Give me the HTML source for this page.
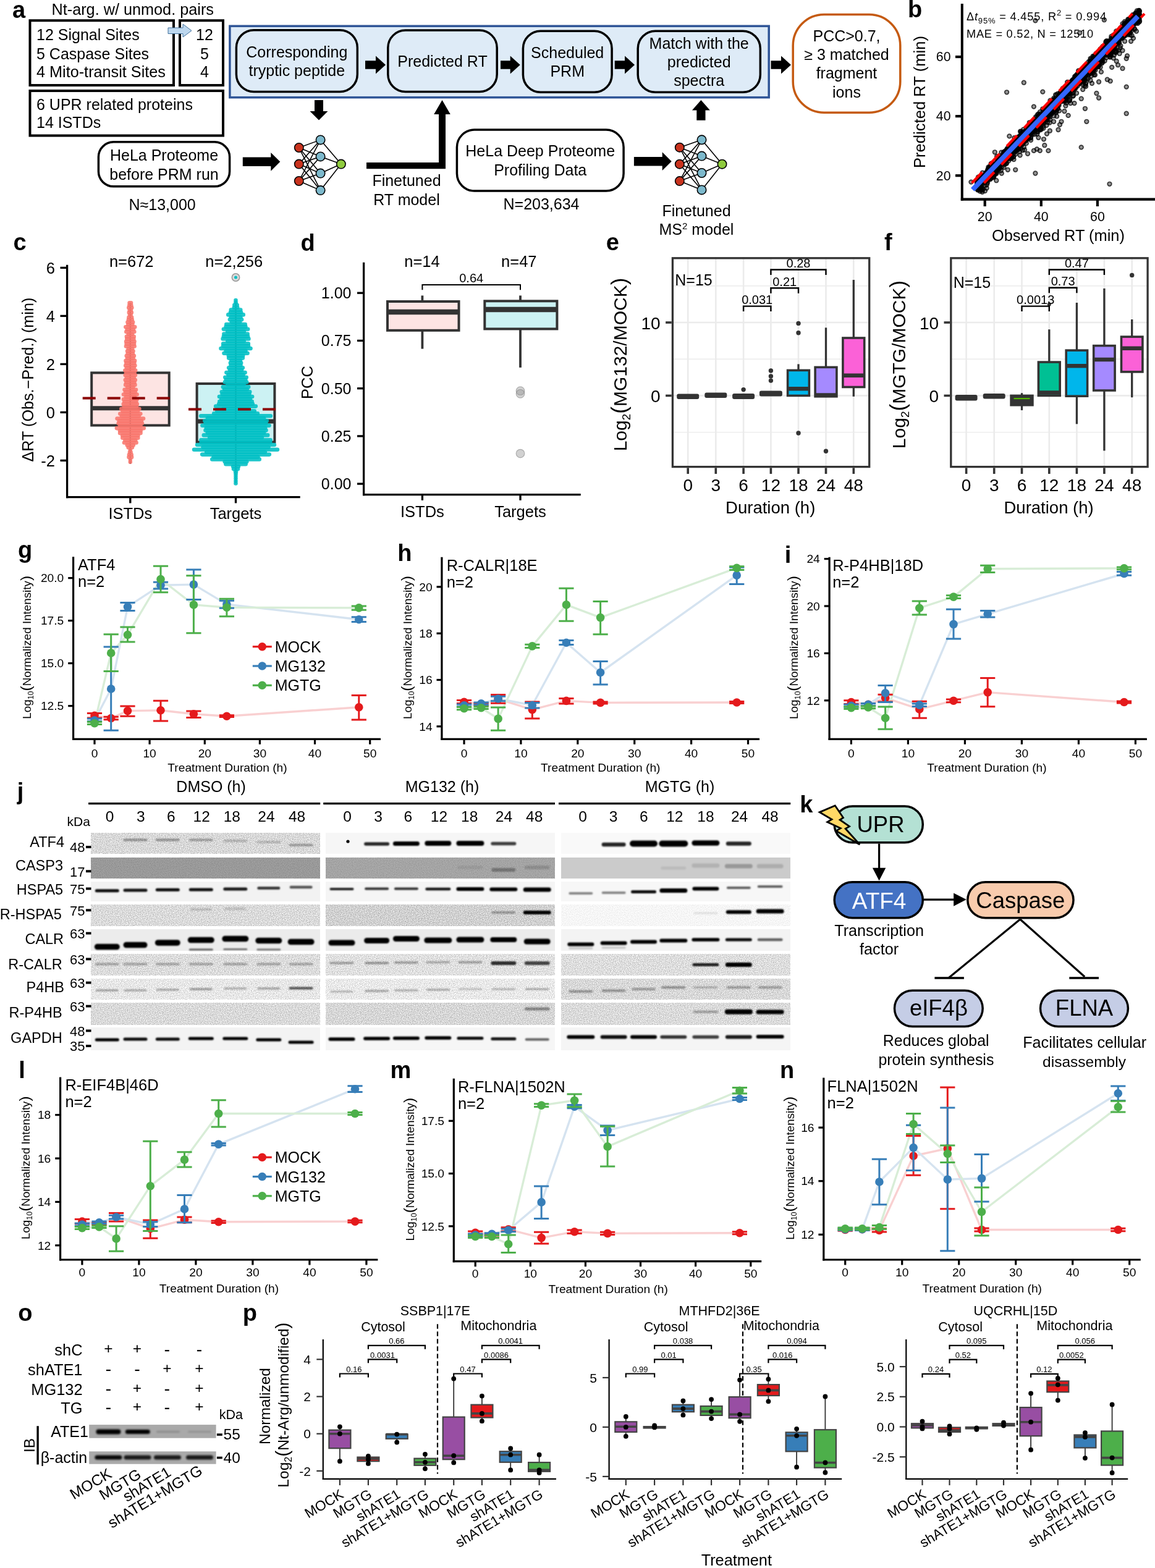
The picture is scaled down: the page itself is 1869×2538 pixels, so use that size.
<!DOCTYPE html>
<html><head><meta charset="utf-8"><title>Figure</title>
<style>html,body{margin:0;padding:0;background:#fff;}svg{display:block;}
text{font-family:"Liberation Sans", Arial, sans-serif;}</style></head>
<body><svg width="1869" height="2538" viewBox="0 0 1869 2538">
<rect width="1869" height="2538" fill="#fff"/>
<g id="pa"><text x="20.0" y="28.5" font-size="38.00" font-weight="bold">a</text>
<text x="83.5" y="24.0" font-size="25.26">Nt-arg. w/ unmod. pairs</text>
<rect x="48.5" y="33.2" width="232.5" height="104.8" fill="none" stroke="#000" stroke-width="4"/>
<rect x="291.0" y="33.2" width="70.0" height="104.8" fill="none" stroke="#000" stroke-width="4"/>
<rect x="48.5" y="147.0" width="312.5" height="72.5" fill="none" stroke="#000" stroke-width="4"/>
<text x="59.0" y="65.0" font-size="25.00">12 Signal Sites</text>
<text x="59.0" y="95.6" font-size="25.00">5 Caspase Sites</text>
<text x="59.0" y="125.4" font-size="25.24">4 Mito-transit Sites</text>
<text x="331.0" y="65.0" font-size="25.00" text-anchor="middle">12</text>
<text x="331.0" y="95.6" font-size="25.00" text-anchor="middle">5</text>
<text x="331.0" y="125.4" font-size="25.00" text-anchor="middle">4</text>
<text x="59.0" y="178.0" font-size="25.00">6 UPR related proteins</text>
<text x="59.0" y="207.0" font-size="25.00">14 ISTDs</text>
<polygon points="272.0,45.0 296.0,45.0 296.0,39.0 310.0,49.6 296.0,60.0 296.0,54.5 272.0,54.5" fill="#BDD7EE" stroke="#41719C" stroke-width="1"/>
<rect x="371.9" y="42.2" width="872.3" height="115.5" fill="#DEEBF7" stroke="#2F5597" stroke-width="3.5"/>
<rect x="382.4" y="48.8" width="195.9" height="99.8" fill="#DEEBF7" stroke="#000" stroke-width="3.5" rx="28.25"/>
<rect x="627.8" y="49.1" width="176.4" height="99.4" fill="#DEEBF7" stroke="#000" stroke-width="3.5" rx="28.25"/>
<rect x="846.4" y="50.2" width="143.7" height="99.0" fill="#DEEBF7" stroke="#000" stroke-width="3.5" rx="28.25"/>
<rect x="1032.2" y="50.2" width="198.1" height="99.0" fill="#DEEBF7" stroke="#000" stroke-width="3.5" rx="28.25"/>
<text x="480.3" y="93.4" font-size="25.00" text-anchor="middle">Corresponding</text>
<text x="480.3" y="123.2" font-size="25.00" text-anchor="middle">tryptic peptide</text>
<text x="716.0" y="108.0" font-size="25.00" text-anchor="middle">Predicted RT</text>
<text x="918.2" y="94.2" font-size="25.00" text-anchor="middle">Scheduled</text>
<text x="918.2" y="124.4" font-size="25.00" text-anchor="middle">PRM</text>
<text x="1131.2" y="79.0" font-size="25.00" text-anchor="middle">Match with the</text>
<text x="1131.2" y="109.0" font-size="25.00" text-anchor="middle">predicted</text>
<text x="1131.2" y="139.0" font-size="25.00" text-anchor="middle">spectra</text>
<polygon points="591.0,98.3 608.0,98.3 608.0,90.5 624.0,105.0 608.0,119.5 608.0,111.7 591.0,111.7" fill="#000"/>
<polygon points="810.0,98.3 825.7,98.3 825.7,90.5 841.7,105.0 825.7,119.5 825.7,111.7 810.0,111.7" fill="#000"/>
<polygon points="994.7,98.3 1011.0,98.3 1011.0,90.5 1027.0,105.0 1011.0,119.5 1011.0,111.7 994.7,111.7" fill="#000"/>
<polygon points="1247.5,98.3 1264.0,98.3 1264.0,90.5 1280.0,105.0 1264.0,119.5 1264.0,111.7 1247.5,111.7" fill="#000"/>
<rect x="1283.2" y="23.6" width="173.6" height="158.6" fill="#fff" stroke="#C55A11" stroke-width="3.5" rx="50.25"/>
<text x="1370.0" y="66.7" font-size="25.00" text-anchor="middle">PCC&gt;0.7,</text>
<text x="1370.0" y="97.0" font-size="25.00" text-anchor="middle">≥ 3 matched</text>
<text x="1370.0" y="127.0" font-size="25.00" text-anchor="middle">fragment</text>
<text x="1370.0" y="158.0" font-size="25.00" text-anchor="middle">ions</text>
<polygon points="509.0,162.0 509.0,180.0 501.5,180.0 516.0,194.6 530.5,180.0 523.0,180.0 523.0,162.0" fill="#000"/>
<polygon points="710.0,186.0 710.0,185.0 702.2,185.0 715.5,162.0 728.8,185.0 721.0,185.0 721.0,186.0" fill="#000"/>
<polygon points="710.0,185.0 721.0,185.0 721.0,273.2 593.0,273.2 593.0,263.0 710.0,263.0" fill="#000"/>
<polygon points="1127.3,194.8 1127.3,178.4 1119.9,178.4 1134.4,162.0 1148.9,178.4 1141.5,178.4 1141.5,194.8" fill="#000"/>
<rect x="159.4" y="229.8" width="212.2" height="72.0" fill="#fff" stroke="#000" stroke-width="3.5" rx="24.25"/>
<text x="265.5" y="260.0" font-size="25.00" text-anchor="middle">HeLa Proteome</text>
<text x="265.5" y="290.7" font-size="25.00" text-anchor="middle">before PRM run</text>
<text x="262.6" y="339.5" font-size="25.00" text-anchor="middle">N≈13,000</text>
<polygon points="392.8,254.6 438.3,254.6 438.3,246.9 453.3,261.8 438.3,276.7 438.3,269.1 392.8,269.1" fill="#000"/>
<line x1="483.8" y1="239.0" x2="518.6" y2="226.4" stroke="#000" stroke-width="1.6"/>
<line x1="483.8" y1="239.0" x2="518.6" y2="253.4" stroke="#000" stroke-width="1.6"/>
<line x1="483.8" y1="239.0" x2="518.6" y2="280.6" stroke="#000" stroke-width="1.6"/>
<line x1="483.8" y1="239.0" x2="518.6" y2="308.1" stroke="#000" stroke-width="1.6"/>
<line x1="483.8" y1="265.6" x2="518.6" y2="226.4" stroke="#000" stroke-width="1.6"/>
<line x1="483.8" y1="265.6" x2="518.6" y2="253.4" stroke="#000" stroke-width="1.6"/>
<line x1="483.8" y1="265.6" x2="518.6" y2="280.6" stroke="#000" stroke-width="1.6"/>
<line x1="483.8" y1="265.6" x2="518.6" y2="308.1" stroke="#000" stroke-width="1.6"/>
<line x1="483.8" y1="293.0" x2="518.6" y2="226.4" stroke="#000" stroke-width="1.6"/>
<line x1="483.8" y1="293.0" x2="518.6" y2="253.4" stroke="#000" stroke-width="1.6"/>
<line x1="483.8" y1="293.0" x2="518.6" y2="280.6" stroke="#000" stroke-width="1.6"/>
<line x1="483.8" y1="293.0" x2="518.6" y2="308.1" stroke="#000" stroke-width="1.6"/>
<line x1="518.6" y1="226.4" x2="551.9" y2="265.6" stroke="#000" stroke-width="1.6"/>
<line x1="518.6" y1="253.4" x2="551.9" y2="265.6" stroke="#000" stroke-width="1.6"/>
<line x1="518.6" y1="280.6" x2="551.9" y2="265.6" stroke="#000" stroke-width="1.6"/>
<line x1="518.6" y1="308.1" x2="551.9" y2="265.6" stroke="#000" stroke-width="1.6"/>
<circle cx="483.8" cy="239.0" r="7.2" fill="#C9331E" stroke="#000" stroke-width="1.6"/>
<circle cx="483.8" cy="265.6" r="7.2" fill="#C9331E" stroke="#000" stroke-width="1.6"/>
<circle cx="483.8" cy="293.0" r="7.2" fill="#C9331E" stroke="#000" stroke-width="1.6"/>
<circle cx="518.6" cy="226.4" r="7.2" fill="#7DB9CC" stroke="#000" stroke-width="1.6"/>
<circle cx="518.6" cy="253.4" r="7.2" fill="#7DB9CC" stroke="#000" stroke-width="1.6"/>
<circle cx="518.6" cy="280.6" r="7.2" fill="#7DB9CC" stroke="#000" stroke-width="1.6"/>
<circle cx="518.6" cy="308.1" r="7.2" fill="#7DB9CC" stroke="#000" stroke-width="1.6"/>
<circle cx="551.9" cy="265.6" r="7.2" fill="#8FCB3E" stroke="#000" stroke-width="1.6"/>
<text x="658.0" y="301.4" font-size="25.00" text-anchor="middle">Finetuned</text>
<text x="658.0" y="332.0" font-size="25.00" text-anchor="middle">RT model</text>
<rect x="739.4" y="210.1" width="269.7" height="98.9" fill="#fff" stroke="#000" stroke-width="3.5" rx="28.25"/>
<text x="874.2" y="253.3" font-size="25.00" text-anchor="middle">HeLa Deep Proteome</text>
<text x="874.2" y="283.7" font-size="25.00" text-anchor="middle">Profiling Data</text>
<text x="876.0" y="338.9" font-size="25.00" text-anchor="middle">N=203,634</text>
<polygon points="1025.9,253.9 1071.7,253.9 1071.7,246.3 1086.7,261.2 1071.7,276.1 1071.7,268.4 1025.9,268.4" fill="#000"/>
<line x1="1099.8" y1="238.7" x2="1135.5" y2="226.3" stroke="#000" stroke-width="1.6"/>
<line x1="1099.8" y1="238.7" x2="1135.5" y2="252.6" stroke="#000" stroke-width="1.6"/>
<line x1="1099.8" y1="238.7" x2="1135.5" y2="280.0" stroke="#000" stroke-width="1.6"/>
<line x1="1099.8" y1="238.7" x2="1135.5" y2="307.4" stroke="#000" stroke-width="1.6"/>
<line x1="1099.8" y1="265.7" x2="1135.5" y2="226.3" stroke="#000" stroke-width="1.6"/>
<line x1="1099.8" y1="265.7" x2="1135.5" y2="252.6" stroke="#000" stroke-width="1.6"/>
<line x1="1099.8" y1="265.7" x2="1135.5" y2="280.0" stroke="#000" stroke-width="1.6"/>
<line x1="1099.8" y1="265.7" x2="1135.5" y2="307.4" stroke="#000" stroke-width="1.6"/>
<line x1="1099.8" y1="293.1" x2="1135.5" y2="226.3" stroke="#000" stroke-width="1.6"/>
<line x1="1099.8" y1="293.1" x2="1135.5" y2="252.6" stroke="#000" stroke-width="1.6"/>
<line x1="1099.8" y1="293.1" x2="1135.5" y2="280.0" stroke="#000" stroke-width="1.6"/>
<line x1="1099.8" y1="293.1" x2="1135.5" y2="307.4" stroke="#000" stroke-width="1.6"/>
<line x1="1135.5" y1="226.3" x2="1168.5" y2="265.7" stroke="#000" stroke-width="1.6"/>
<line x1="1135.5" y1="252.6" x2="1168.5" y2="265.7" stroke="#000" stroke-width="1.6"/>
<line x1="1135.5" y1="280.0" x2="1168.5" y2="265.7" stroke="#000" stroke-width="1.6"/>
<line x1="1135.5" y1="307.4" x2="1168.5" y2="265.7" stroke="#000" stroke-width="1.6"/>
<circle cx="1099.8" cy="238.7" r="7.2" fill="#C9331E" stroke="#000" stroke-width="1.6"/>
<circle cx="1099.8" cy="265.7" r="7.2" fill="#C9331E" stroke="#000" stroke-width="1.6"/>
<circle cx="1099.8" cy="293.1" r="7.2" fill="#C9331E" stroke="#000" stroke-width="1.6"/>
<circle cx="1135.5" cy="226.3" r="7.2" fill="#7DB9CC" stroke="#000" stroke-width="1.6"/>
<circle cx="1135.5" cy="252.6" r="7.2" fill="#7DB9CC" stroke="#000" stroke-width="1.6"/>
<circle cx="1135.5" cy="280.0" r="7.2" fill="#7DB9CC" stroke="#000" stroke-width="1.6"/>
<circle cx="1135.5" cy="307.4" r="7.2" fill="#7DB9CC" stroke="#000" stroke-width="1.6"/>
<circle cx="1168.5" cy="265.7" r="7.2" fill="#8FCB3E" stroke="#000" stroke-width="1.6"/>
<text x="1127.0" y="350.0" font-size="25.00" text-anchor="middle">Finetuned</text>
<text x="1127" y="380" font-size="25" text-anchor="middle">MS<tspan font-size="15" dy="-9">2</tspan><tspan dy="9"> model</tspan></text></g>
<g id="pb"><text x="1469.0" y="27.5" font-size="38.00" font-weight="bold">b</text>
<g fill="#000" fill-opacity="0.42" stroke="#000" stroke-opacity="0.72" stroke-width="1.7"><circle cx="1643.6" cy="238.2" r="3.3"/><circle cx="1745.7" cy="121.7" r="3.3"/><circle cx="1584.4" cy="303.4" r="3.3"/><circle cx="1843.1" cy="20.2" r="3.3"/><circle cx="1801.2" cy="69.4" r="3.3"/><circle cx="1748.1" cy="133.4" r="3.3"/><circle cx="1718.7" cy="155.5" r="3.3"/><circle cx="1780.6" cy="90.9" r="3.3"/><circle cx="1660.3" cy="213.0" r="3.3"/><circle cx="1770.2" cy="112.8" r="3.3"/><circle cx="1769.0" cy="118.0" r="3.3"/><circle cx="1698.0" cy="175.9" r="3.3"/><circle cx="1812.3" cy="53.9" r="3.3"/><circle cx="1835.1" cy="29.5" r="3.3"/><circle cx="1745.9" cy="130.5" r="3.3"/><circle cx="1673.3" cy="202.8" r="3.3"/><circle cx="1734.8" cy="150.9" r="3.3"/><circle cx="1806.4" cy="83.0" r="3.3"/><circle cx="1757.7" cy="106.1" r="3.3"/><circle cx="1819.1" cy="57.9" r="3.3"/><circle cx="1768.9" cy="98.9" r="3.3"/><circle cx="1656.0" cy="226.1" r="3.3"/><circle cx="1805.8" cy="59.4" r="3.3"/><circle cx="1689.0" cy="181.7" r="3.3"/><circle cx="1658.3" cy="223.8" r="3.3"/><circle cx="1742.7" cy="130.4" r="3.3"/><circle cx="1770.1" cy="91.1" r="3.3"/><circle cx="1714.0" cy="179.3" r="3.3"/><circle cx="1662.5" cy="215.0" r="3.3"/><circle cx="1632.9" cy="245.9" r="3.3"/><circle cx="1741.7" cy="121.7" r="3.3"/><circle cx="1663.6" cy="216.1" r="3.3"/><circle cx="1817.0" cy="56.4" r="3.3"/><circle cx="1750.5" cy="119.9" r="3.3"/><circle cx="1728.2" cy="139.7" r="3.3"/><circle cx="1694.5" cy="182.3" r="3.3"/><circle cx="1643.5" cy="228.6" r="3.3"/><circle cx="1725.3" cy="148.5" r="3.3"/><circle cx="1690.3" cy="178.5" r="3.3"/><circle cx="1747.4" cy="123.7" r="3.3"/><circle cx="1746.1" cy="127.7" r="3.3"/><circle cx="1767.1" cy="107.6" r="3.3"/><circle cx="1586.8" cy="299.2" r="3.3"/><circle cx="1647.1" cy="240.8" r="3.3"/><circle cx="1737.0" cy="138.0" r="3.3"/><circle cx="1678.1" cy="194.5" r="3.3"/><circle cx="1660.0" cy="216.5" r="3.3"/><circle cx="1730.8" cy="143.0" r="3.3"/><circle cx="1662.6" cy="212.8" r="3.3"/><circle cx="1630.3" cy="251.2" r="3.3"/><circle cx="1764.7" cy="108.0" r="3.3"/><circle cx="1800.4" cy="64.9" r="3.3"/><circle cx="1806.2" cy="65.9" r="3.3"/><circle cx="1813.9" cy="48.6" r="3.3"/><circle cx="1640.2" cy="240.5" r="3.3"/><circle cx="1793.4" cy="83.5" r="3.3"/><circle cx="1629.3" cy="246.8" r="3.3"/><circle cx="1793.2" cy="82.3" r="3.3"/><circle cx="1615.1" cy="263.1" r="3.3"/><circle cx="1672.1" cy="207.4" r="3.3"/><circle cx="1691.5" cy="181.1" r="3.3"/><circle cx="1582.2" cy="307.4" r="3.3"/><circle cx="1812.6" cy="77.5" r="3.3"/><circle cx="1825.1" cy="38.0" r="3.3"/><circle cx="1777.2" cy="104.0" r="3.3"/><circle cx="1657.0" cy="224.5" r="3.3"/><circle cx="1640.8" cy="240.1" r="3.3"/><circle cx="1794.3" cy="77.0" r="3.3"/><circle cx="1818.8" cy="40.5" r="3.3"/><circle cx="1817.8" cy="54.7" r="3.3"/><circle cx="1584.4" cy="294.6" r="3.3"/><circle cx="1755.5" cy="112.6" r="3.3"/><circle cx="1689.9" cy="196.6" r="3.3"/><circle cx="1647.4" cy="240.6" r="3.3"/><circle cx="1706.6" cy="176.9" r="3.3"/><circle cx="1721.7" cy="154.7" r="3.3"/><circle cx="1626.0" cy="248.5" r="3.3"/><circle cx="1797.8" cy="75.2" r="3.3"/><circle cx="1746.4" cy="127.1" r="3.3"/><circle cx="1651.7" cy="224.3" r="3.3"/><circle cx="1692.3" cy="182.5" r="3.3"/><circle cx="1595.4" cy="285.1" r="3.3"/><circle cx="1613.8" cy="256.6" r="3.3"/><circle cx="1603.6" cy="277.6" r="3.3"/><circle cx="1664.1" cy="216.2" r="3.3"/><circle cx="1735.4" cy="131.8" r="3.3"/><circle cx="1631.3" cy="242.8" r="3.3"/><circle cx="1769.5" cy="97.1" r="3.3"/><circle cx="1602.0" cy="282.2" r="3.3"/><circle cx="1787.0" cy="78.3" r="3.3"/><circle cx="1791.9" cy="81.6" r="3.3"/><circle cx="1711.6" cy="160.4" r="3.3"/><circle cx="1691.7" cy="186.6" r="3.3"/><circle cx="1722.0" cy="150.4" r="3.3"/><circle cx="1599.8" cy="288.6" r="3.3"/><circle cx="1827.5" cy="35.7" r="3.3"/><circle cx="1817.3" cy="58.0" r="3.3"/><circle cx="1613.4" cy="265.1" r="3.3"/><circle cx="1755.3" cy="120.2" r="3.3"/><circle cx="1774.1" cy="102.8" r="3.3"/><circle cx="1608.1" cy="268.9" r="3.3"/><circle cx="1784.8" cy="84.9" r="3.3"/><circle cx="1605.1" cy="272.5" r="3.3"/><circle cx="1587.1" cy="303.1" r="3.3"/><circle cx="1612.9" cy="279.0" r="3.3"/><circle cx="1831.7" cy="43.2" r="3.3"/><circle cx="1791.2" cy="77.6" r="3.3"/><circle cx="1769.2" cy="106.9" r="3.3"/><circle cx="1778.1" cy="93.3" r="3.3"/><circle cx="1729.4" cy="147.9" r="3.3"/><circle cx="1644.7" cy="232.8" r="3.3"/><circle cx="1779.3" cy="84.5" r="3.3"/><circle cx="1677.7" cy="200.8" r="3.3"/><circle cx="1602.9" cy="273.1" r="3.3"/><circle cx="1837.1" cy="29.9" r="3.3"/><circle cx="1762.8" cy="110.9" r="3.3"/><circle cx="1758.4" cy="119.4" r="3.3"/><circle cx="1817.2" cy="50.2" r="3.3"/><circle cx="1606.2" cy="268.7" r="3.3"/><circle cx="1697.6" cy="179.8" r="3.3"/><circle cx="1629.9" cy="246.5" r="3.3"/><circle cx="1663.8" cy="206.9" r="3.3"/><circle cx="1762.9" cy="117.8" r="3.3"/><circle cx="1689.7" cy="181.9" r="3.3"/><circle cx="1734.9" cy="137.5" r="3.3"/><circle cx="1707.2" cy="165.9" r="3.3"/><circle cx="1626.3" cy="255.7" r="3.3"/><circle cx="1618.8" cy="256.5" r="3.3"/><circle cx="1707.2" cy="175.3" r="3.3"/><circle cx="1797.3" cy="70.1" r="3.3"/><circle cx="1707.7" cy="163.5" r="3.3"/><circle cx="1774.1" cy="108.4" r="3.3"/><circle cx="1704.0" cy="169.6" r="3.3"/><circle cx="1758.8" cy="108.6" r="3.3"/><circle cx="1805.8" cy="61.6" r="3.3"/><circle cx="1630.2" cy="244.8" r="3.3"/><circle cx="1807.0" cy="68.8" r="3.3"/><circle cx="1663.5" cy="203.9" r="3.3"/><circle cx="1772.9" cy="90.4" r="3.3"/><circle cx="1657.8" cy="214.3" r="3.3"/><circle cx="1733.7" cy="134.8" r="3.3"/><circle cx="1695.8" cy="178.7" r="3.3"/><circle cx="1636.3" cy="237.3" r="3.3"/><circle cx="1724.3" cy="150.1" r="3.3"/><circle cx="1653.3" cy="216.5" r="3.3"/><circle cx="1820.2" cy="41.5" r="3.3"/><circle cx="1828.8" cy="37.6" r="3.3"/><circle cx="1658.8" cy="225.6" r="3.3"/><circle cx="1753.2" cy="126.2" r="3.3"/><circle cx="1834.0" cy="25.5" r="3.3"/><circle cx="1722.1" cy="155.4" r="3.3"/><circle cx="1770.0" cy="100.5" r="3.3"/><circle cx="1730.1" cy="146.7" r="3.3"/><circle cx="1628.1" cy="264.6" r="3.3"/><circle cx="1753.5" cy="115.7" r="3.3"/><circle cx="1668.2" cy="209.0" r="3.3"/><circle cx="1738.2" cy="137.2" r="3.3"/><circle cx="1663.2" cy="217.3" r="3.3"/><circle cx="1599.0" cy="280.8" r="3.3"/><circle cx="1775.7" cy="100.3" r="3.3"/><circle cx="1650.9" cy="225.3" r="3.3"/><circle cx="1713.8" cy="160.8" r="3.3"/><circle cx="1783.4" cy="88.8" r="3.3"/><circle cx="1723.5" cy="150.5" r="3.3"/><circle cx="1673.9" cy="204.7" r="3.3"/><circle cx="1607.2" cy="270.0" r="3.3"/><circle cx="1786.0" cy="82.5" r="3.3"/><circle cx="1690.6" cy="181.6" r="3.3"/><circle cx="1795.7" cy="75.7" r="3.3"/><circle cx="1685.8" cy="190.8" r="3.3"/><circle cx="1719.9" cy="152.5" r="3.3"/><circle cx="1786.7" cy="79.7" r="3.3"/><circle cx="1792.4" cy="77.4" r="3.3"/><circle cx="1726.4" cy="148.0" r="3.3"/><circle cx="1747.8" cy="133.0" r="3.3"/><circle cx="1807.4" cy="64.8" r="3.3"/><circle cx="1739.3" cy="125.2" r="3.3"/><circle cx="1755.2" cy="116.1" r="3.3"/><circle cx="1718.8" cy="152.7" r="3.3"/><circle cx="1590.7" cy="284.5" r="3.3"/><circle cx="1751.0" cy="131.2" r="3.3"/><circle cx="1815.8" cy="57.0" r="3.3"/><circle cx="1789.6" cy="75.9" r="3.3"/><circle cx="1642.4" cy="233.9" r="3.3"/><circle cx="1722.8" cy="163.2" r="3.3"/><circle cx="1763.8" cy="98.9" r="3.3"/><circle cx="1806.9" cy="55.2" r="3.3"/><circle cx="1775.7" cy="97.8" r="3.3"/><circle cx="1793.3" cy="78.1" r="3.3"/><circle cx="1780.2" cy="93.6" r="3.3"/><circle cx="1609.7" cy="267.1" r="3.3"/><circle cx="1623.3" cy="254.0" r="3.3"/><circle cx="1765.1" cy="111.7" r="3.3"/><circle cx="1661.2" cy="212.3" r="3.3"/><circle cx="1780.3" cy="85.7" r="3.3"/><circle cx="1770.4" cy="91.3" r="3.3"/><circle cx="1678.6" cy="199.7" r="3.3"/><circle cx="1581.7" cy="301.2" r="3.3"/><circle cx="1787.1" cy="85.5" r="3.3"/><circle cx="1636.0" cy="241.2" r="3.3"/><circle cx="1687.2" cy="185.8" r="3.3"/><circle cx="1625.2" cy="253.0" r="3.3"/><circle cx="1596.7" cy="287.9" r="3.3"/><circle cx="1766.1" cy="103.2" r="3.3"/><circle cx="1687.1" cy="176.4" r="3.3"/><circle cx="1638.6" cy="237.3" r="3.3"/><circle cx="1705.9" cy="171.3" r="3.3"/><circle cx="1613.6" cy="268.6" r="3.3"/><circle cx="1772.5" cy="96.8" r="3.3"/><circle cx="1826.6" cy="45.9" r="3.3"/><circle cx="1646.8" cy="228.1" r="3.3"/><circle cx="1671.7" cy="210.2" r="3.3"/><circle cx="1760.6" cy="117.7" r="3.3"/><circle cx="1588.9" cy="291.9" r="3.3"/><circle cx="1625.8" cy="246.5" r="3.3"/><circle cx="1818.0" cy="47.8" r="3.3"/><circle cx="1837.3" cy="26.2" r="3.3"/><circle cx="1828.5" cy="48.6" r="3.3"/><circle cx="1661.2" cy="213.6" r="3.3"/><circle cx="1658.2" cy="226.2" r="3.3"/><circle cx="1611.1" cy="271.7" r="3.3"/><circle cx="1825.4" cy="36.2" r="3.3"/><circle cx="1775.7" cy="91.6" r="3.3"/><circle cx="1824.1" cy="48.5" r="3.3"/><circle cx="1690.1" cy="183.9" r="3.3"/><circle cx="1651.9" cy="230.4" r="3.3"/><circle cx="1770.7" cy="101.0" r="3.3"/><circle cx="1709.2" cy="169.1" r="3.3"/><circle cx="1768.1" cy="110.2" r="3.3"/><circle cx="1759.3" cy="110.4" r="3.3"/><circle cx="1643.4" cy="249.6" r="3.3"/><circle cx="1810.6" cy="65.1" r="3.3"/><circle cx="1817.1" cy="53.2" r="3.3"/><circle cx="1599.9" cy="276.2" r="3.3"/><circle cx="1832.6" cy="36.6" r="3.3"/><circle cx="1602.2" cy="278.5" r="3.3"/><circle cx="1644.3" cy="229.4" r="3.3"/><circle cx="1735.1" cy="132.1" r="3.3"/><circle cx="1641.5" cy="241.3" r="3.3"/><circle cx="1691.4" cy="181.7" r="3.3"/><circle cx="1740.1" cy="143.2" r="3.3"/><circle cx="1627.7" cy="251.4" r="3.3"/><circle cx="1798.3" cy="59.0" r="3.3"/><circle cx="1633.4" cy="248.8" r="3.3"/><circle cx="1603.5" cy="274.8" r="3.3"/><circle cx="1743.0" cy="120.7" r="3.3"/><circle cx="1781.4" cy="100.5" r="3.3"/><circle cx="1698.3" cy="171.2" r="3.3"/><circle cx="1800.9" cy="66.8" r="3.3"/><circle cx="1722.9" cy="153.2" r="3.3"/><circle cx="1772.6" cy="100.9" r="3.3"/><circle cx="1599.8" cy="275.9" r="3.3"/><circle cx="1774.5" cy="99.5" r="3.3"/><circle cx="1637.3" cy="245.6" r="3.3"/><circle cx="1843.1" cy="25.2" r="3.3"/><circle cx="1638.3" cy="238.7" r="3.3"/><circle cx="1826.0" cy="32.0" r="3.3"/><circle cx="1742.1" cy="150.8" r="3.3"/><circle cx="1722.0" cy="141.9" r="3.3"/><circle cx="1831.0" cy="39.5" r="3.3"/><circle cx="1784.6" cy="75.0" r="3.3"/><circle cx="1657.8" cy="225.9" r="3.3"/><circle cx="1629.5" cy="249.5" r="3.3"/><circle cx="1717.7" cy="159.5" r="3.3"/><circle cx="1591.6" cy="289.6" r="3.3"/><circle cx="1671.7" cy="199.5" r="3.3"/><circle cx="1777.6" cy="89.6" r="3.3"/><circle cx="1689.2" cy="183.6" r="3.3"/><circle cx="1621.3" cy="269.9" r="3.3"/><circle cx="1838.9" cy="50.6" r="3.3"/><circle cx="1679.0" cy="198.5" r="3.3"/><circle cx="1719.4" cy="149.3" r="3.3"/><circle cx="1675.7" cy="208.5" r="3.3"/><circle cx="1814.4" cy="53.2" r="3.3"/><circle cx="1659.2" cy="217.2" r="3.3"/><circle cx="1615.6" cy="264.1" r="3.3"/><circle cx="1722.0" cy="148.3" r="3.3"/><circle cx="1783.7" cy="85.2" r="3.3"/><circle cx="1838.8" cy="33.0" r="3.3"/><circle cx="1629.7" cy="248.8" r="3.3"/><circle cx="1694.8" cy="174.5" r="3.3"/><circle cx="1605.6" cy="272.2" r="3.3"/><circle cx="1646.0" cy="242.7" r="3.3"/><circle cx="1592.5" cy="286.1" r="3.3"/><circle cx="1746.1" cy="118.7" r="3.3"/><circle cx="1646.1" cy="235.7" r="3.3"/><circle cx="1780.6" cy="108.8" r="3.3"/><circle cx="1726.2" cy="147.3" r="3.3"/><circle cx="1625.4" cy="259.2" r="3.3"/><circle cx="1819.5" cy="56.0" r="3.3"/><circle cx="1756.2" cy="118.4" r="3.3"/><circle cx="1690.1" cy="190.7" r="3.3"/><circle cx="1625.9" cy="258.4" r="3.3"/><circle cx="1725.0" cy="161.1" r="3.3"/><circle cx="1673.6" cy="200.7" r="3.3"/><circle cx="1833.5" cy="38.4" r="3.3"/><circle cx="1663.9" cy="220.2" r="3.3"/><circle cx="1798.8" cy="70.0" r="3.3"/><circle cx="1742.2" cy="135.1" r="3.3"/><circle cx="1709.3" cy="167.2" r="3.3"/><circle cx="1767.7" cy="101.8" r="3.3"/><circle cx="1678.7" cy="192.9" r="3.3"/><circle cx="1816.8" cy="60.8" r="3.3"/><circle cx="1823.3" cy="46.7" r="3.3"/><circle cx="1681.9" cy="202.5" r="3.3"/><circle cx="1831.0" cy="38.1" r="3.3"/><circle cx="1664.5" cy="212.4" r="3.3"/><circle cx="1646.8" cy="233.8" r="3.3"/><circle cx="1601.8" cy="277.5" r="3.3"/><circle cx="1719.5" cy="152.1" r="3.3"/><circle cx="1801.6" cy="67.0" r="3.3"/><circle cx="1655.2" cy="229.0" r="3.3"/><circle cx="1599.2" cy="284.4" r="3.3"/><circle cx="1724.7" cy="148.0" r="3.3"/><circle cx="1643.1" cy="232.2" r="3.3"/><circle cx="1627.8" cy="245.9" r="3.3"/><circle cx="1758.6" cy="111.7" r="3.3"/><circle cx="1780.9" cy="87.9" r="3.3"/><circle cx="1630.9" cy="252.6" r="3.3"/><circle cx="1833.9" cy="34.2" r="3.3"/><circle cx="1681.6" cy="204.3" r="3.3"/><circle cx="1654.9" cy="213.5" r="3.3"/><circle cx="1619.2" cy="265.8" r="3.3"/><circle cx="1601.2" cy="270.6" r="3.3"/><circle cx="1828.2" cy="40.9" r="3.3"/><circle cx="1674.2" cy="209.0" r="3.3"/><circle cx="1708.7" cy="165.7" r="3.3"/><circle cx="1671.9" cy="203.3" r="3.3"/><circle cx="1786.8" cy="88.4" r="3.3"/><circle cx="1697.4" cy="176.0" r="3.3"/><circle cx="1800.3" cy="77.5" r="3.3"/><circle cx="1804.3" cy="70.4" r="3.3"/><circle cx="1834.6" cy="36.6" r="3.3"/><circle cx="1634.2" cy="240.7" r="3.3"/><circle cx="1838.5" cy="26.8" r="3.3"/><circle cx="1584.6" cy="305.3" r="3.3"/><circle cx="1790.0" cy="89.5" r="3.3"/><circle cx="1782.6" cy="92.4" r="3.3"/><circle cx="1723.2" cy="146.2" r="3.3"/><circle cx="1666.0" cy="205.4" r="3.3"/><circle cx="1679.3" cy="200.2" r="3.3"/><circle cx="1839.1" cy="27.4" r="3.3"/><circle cx="1807.9" cy="71.6" r="3.3"/><circle cx="1652.0" cy="213.0" r="3.3"/><circle cx="1712.8" cy="164.5" r="3.3"/><circle cx="1655.3" cy="220.2" r="3.3"/><circle cx="1700.2" cy="183.4" r="3.3"/><circle cx="1840.7" cy="27.9" r="3.3"/><circle cx="1697.2" cy="173.1" r="3.3"/><circle cx="1804.1" cy="68.4" r="3.3"/><circle cx="1596.6" cy="304.5" r="3.3"/><circle cx="1677.5" cy="189.7" r="3.3"/><circle cx="1725.4" cy="166.7" r="3.3"/><circle cx="1768.2" cy="98.6" r="3.3"/><circle cx="1660.1" cy="220.1" r="3.3"/><circle cx="1752.5" cy="121.9" r="3.3"/><circle cx="1734.8" cy="136.9" r="3.3"/><circle cx="1742.8" cy="125.0" r="3.3"/><circle cx="1602.4" cy="277.6" r="3.3"/><circle cx="1722.8" cy="155.5" r="3.3"/><circle cx="1721.6" cy="147.5" r="3.3"/><circle cx="1821.3" cy="54.1" r="3.3"/><circle cx="1760.6" cy="107.3" r="3.3"/><circle cx="1706.1" cy="179.3" r="3.3"/><circle cx="1656.4" cy="217.7" r="3.3"/><circle cx="1603.3" cy="282.0" r="3.3"/><circle cx="1673.4" cy="201.1" r="3.3"/><circle cx="1653.1" cy="226.4" r="3.3"/><circle cx="1715.7" cy="162.6" r="3.3"/><circle cx="1695.8" cy="183.8" r="3.3"/><circle cx="1838.7" cy="23.9" r="3.3"/><circle cx="1779.3" cy="93.9" r="3.3"/><circle cx="1598.3" cy="286.5" r="3.3"/><circle cx="1816.4" cy="57.5" r="3.3"/><circle cx="1668.2" cy="216.2" r="3.3"/><circle cx="1634.1" cy="248.7" r="3.3"/><circle cx="1604.2" cy="265.0" r="3.3"/><circle cx="1718.8" cy="152.8" r="3.3"/><circle cx="1603.4" cy="285.2" r="3.3"/><circle cx="1722.9" cy="148.6" r="3.3"/><circle cx="1839.5" cy="30.3" r="3.3"/><circle cx="1659.6" cy="224.7" r="3.3"/><circle cx="1615.9" cy="266.3" r="3.3"/><circle cx="1783.3" cy="97.6" r="3.3"/><circle cx="1806.7" cy="61.4" r="3.3"/><circle cx="1694.9" cy="178.3" r="3.3"/><circle cx="1632.0" cy="250.3" r="3.3"/><circle cx="1827.8" cy="31.3" r="3.3"/><circle cx="1821.5" cy="45.6" r="3.3"/><circle cx="1590.9" cy="286.7" r="3.3"/><circle cx="1682.1" cy="198.9" r="3.3"/><circle cx="1686.6" cy="190.0" r="3.3"/><circle cx="1627.7" cy="251.3" r="3.3"/><circle cx="1670.5" cy="198.6" r="3.3"/><circle cx="1639.0" cy="242.0" r="3.3"/><circle cx="1765.1" cy="107.1" r="3.3"/><circle cx="1757.6" cy="110.3" r="3.3"/><circle cx="1684.7" cy="183.8" r="3.3"/><circle cx="1738.3" cy="135.5" r="3.3"/><circle cx="1788.1" cy="87.5" r="3.3"/><circle cx="1710.0" cy="165.1" r="3.3"/><circle cx="1761.5" cy="99.9" r="3.3"/><circle cx="1796.2" cy="92.3" r="3.3"/><circle cx="1708.1" cy="153.5" r="3.3"/><circle cx="1769.7" cy="101.6" r="3.3"/><circle cx="1609.3" cy="276.2" r="3.3"/><circle cx="1805.0" cy="72.6" r="3.3"/><circle cx="1698.5" cy="178.2" r="3.3"/><circle cx="1734.4" cy="144.1" r="3.3"/><circle cx="1781.4" cy="86.7" r="3.3"/><circle cx="1660.7" cy="216.4" r="3.3"/><circle cx="1841.2" cy="37.8" r="3.3"/><circle cx="1777.9" cy="85.4" r="3.3"/><circle cx="1774.5" cy="95.4" r="3.3"/><circle cx="1707.0" cy="167.1" r="3.3"/><circle cx="1729.0" cy="136.8" r="3.3"/><circle cx="1609.8" cy="272.7" r="3.3"/><circle cx="1626.4" cy="245.5" r="3.3"/><circle cx="1632.6" cy="247.5" r="3.3"/><circle cx="1595.4" cy="285.8" r="3.3"/><circle cx="1634.0" cy="243.0" r="3.3"/><circle cx="1722.5" cy="154.8" r="3.3"/><circle cx="1809.6" cy="60.2" r="3.3"/><circle cx="1653.7" cy="222.3" r="3.3"/><circle cx="1828.8" cy="33.6" r="3.3"/><circle cx="1695.2" cy="181.2" r="3.3"/><circle cx="1834.4" cy="37.6" r="3.3"/><circle cx="1633.5" cy="247.0" r="3.3"/><circle cx="1840.4" cy="34.6" r="3.3"/><circle cx="1606.9" cy="282.5" r="3.3"/><circle cx="1778.5" cy="103.5" r="3.3"/><circle cx="1667.0" cy="211.2" r="3.3"/><circle cx="1624.5" cy="254.8" r="3.3"/><circle cx="1679.0" cy="195.4" r="3.3"/><circle cx="1777.1" cy="95.0" r="3.3"/><circle cx="1792.7" cy="81.1" r="3.3"/><circle cx="1724.2" cy="150.0" r="3.3"/><circle cx="1625.7" cy="251.9" r="3.3"/><circle cx="1636.6" cy="252.6" r="3.3"/><circle cx="1804.2" cy="64.9" r="3.3"/><circle cx="1679.0" cy="203.7" r="3.3"/><circle cx="1823.4" cy="46.9" r="3.3"/><circle cx="1622.7" cy="263.3" r="3.3"/><circle cx="1775.4" cy="100.2" r="3.3"/><circle cx="1724.2" cy="151.1" r="3.3"/><circle cx="1617.0" cy="263.7" r="3.3"/><circle cx="1813.8" cy="52.6" r="3.3"/><circle cx="1787.7" cy="81.9" r="3.3"/><circle cx="1700.9" cy="184.2" r="3.3"/><circle cx="1765.5" cy="107.7" r="3.3"/><circle cx="1655.1" cy="221.3" r="3.3"/><circle cx="1717.4" cy="155.1" r="3.3"/><circle cx="1836.6" cy="28.9" r="3.3"/><circle cx="1793.0" cy="80.7" r="3.3"/><circle cx="1756.7" cy="113.9" r="3.3"/><circle cx="1791.6" cy="72.9" r="3.3"/><circle cx="1641.5" cy="232.9" r="3.3"/><circle cx="1731.8" cy="138.7" r="3.3"/><circle cx="1738.2" cy="133.1" r="3.3"/><circle cx="1670.2" cy="205.7" r="3.3"/><circle cx="1730.7" cy="141.6" r="3.3"/><circle cx="1755.3" cy="122.3" r="3.3"/><circle cx="1718.3" cy="155.8" r="3.3"/><circle cx="1790.1" cy="77.9" r="3.3"/><circle cx="1607.2" cy="287.3" r="3.3"/><circle cx="1696.4" cy="181.4" r="3.3"/><circle cx="1844.1" cy="34.1" r="3.3"/><circle cx="1613.1" cy="253.1" r="3.3"/><circle cx="1707.2" cy="162.6" r="3.3"/><circle cx="1584.0" cy="299.0" r="3.3"/><circle cx="1582.2" cy="292.0" r="3.3"/><circle cx="1593.6" cy="294.0" r="3.3"/><circle cx="1661.2" cy="216.6" r="3.3"/><circle cx="1615.9" cy="259.5" r="3.3"/><circle cx="1604.3" cy="265.5" r="3.3"/><circle cx="1631.4" cy="243.7" r="3.3"/><circle cx="1777.0" cy="92.6" r="3.3"/><circle cx="1747.0" cy="130.3" r="3.3"/><circle cx="1758.4" cy="112.4" r="3.3"/><circle cx="1598.9" cy="281.2" r="3.3"/><circle cx="1824.8" cy="44.3" r="3.3"/><circle cx="1683.9" cy="197.2" r="3.3"/><circle cx="1739.3" cy="135.5" r="3.3"/><circle cx="1648.9" cy="221.3" r="3.3"/><circle cx="1648.5" cy="233.2" r="3.3"/><circle cx="1832.9" cy="40.4" r="3.3"/><circle cx="1634.3" cy="240.6" r="3.3"/><circle cx="1734.8" cy="136.5" r="3.3"/><circle cx="1644.5" cy="230.7" r="3.3"/><circle cx="1713.0" cy="159.1" r="3.3"/><circle cx="1813.6" cy="57.2" r="3.3"/><circle cx="1591.5" cy="284.9" r="3.3"/><circle cx="1778.7" cy="92.0" r="3.3"/><circle cx="1638.7" cy="242.7" r="3.3"/><circle cx="1632.7" cy="250.0" r="3.3"/><circle cx="1608.3" cy="286.4" r="3.3"/><circle cx="1706.9" cy="172.1" r="3.3"/><circle cx="1633.6" cy="244.6" r="3.3"/><circle cx="1751.0" cy="118.0" r="3.3"/><circle cx="1815.5" cy="61.6" r="3.3"/><circle cx="1768.7" cy="101.2" r="3.3"/><circle cx="1817.7" cy="44.2" r="3.3"/><circle cx="1737.5" cy="145.2" r="3.3"/><circle cx="1819.6" cy="39.7" r="3.3"/><circle cx="1619.2" cy="257.4" r="3.3"/><circle cx="1664.1" cy="216.6" r="3.3"/><circle cx="1825.3" cy="31.2" r="3.3"/><circle cx="1664.4" cy="210.8" r="3.3"/><circle cx="1837.9" cy="20.8" r="3.3"/><circle cx="1645.2" cy="227.4" r="3.3"/><circle cx="1827.8" cy="36.3" r="3.3"/><circle cx="1660.8" cy="218.2" r="3.3"/><circle cx="1723.7" cy="153.8" r="3.3"/><circle cx="1659.4" cy="219.2" r="3.3"/><circle cx="1826.8" cy="40.0" r="3.3"/><circle cx="1646.9" cy="232.1" r="3.3"/><circle cx="1621.7" cy="251.4" r="3.3"/><circle cx="1727.8" cy="150.8" r="3.3"/><circle cx="1693.4" cy="178.5" r="3.3"/><circle cx="1656.8" cy="229.7" r="3.3"/><circle cx="1633.7" cy="254.8" r="3.3"/><circle cx="1609.0" cy="267.9" r="3.3"/><circle cx="1685.9" cy="192.8" r="3.3"/><circle cx="1647.0" cy="235.4" r="3.3"/><circle cx="1732.5" cy="137.3" r="3.3"/><circle cx="1625.6" cy="256.0" r="3.3"/><circle cx="1610.9" cy="272.9" r="3.3"/><circle cx="1668.9" cy="208.5" r="3.3"/><circle cx="1709.0" cy="182.3" r="3.3"/><circle cx="1708.0" cy="163.0" r="3.3"/><circle cx="1625.8" cy="266.1" r="3.3"/><circle cx="1716.7" cy="162.7" r="3.3"/><circle cx="1679.8" cy="196.3" r="3.3"/><circle cx="1724.4" cy="148.2" r="3.3"/><circle cx="1711.5" cy="169.5" r="3.3"/><circle cx="1630.0" cy="253.3" r="3.3"/><circle cx="1611.1" cy="269.5" r="3.3"/><circle cx="1649.5" cy="220.5" r="3.3"/><circle cx="1723.3" cy="148.8" r="3.3"/><circle cx="1838.9" cy="35.7" r="3.3"/><circle cx="1680.7" cy="194.6" r="3.3"/><circle cx="1776.8" cy="107.5" r="3.3"/><circle cx="1844.0" cy="18.5" r="3.3"/><circle cx="1602.2" cy="290.4" r="3.3"/><circle cx="1604.9" cy="273.0" r="3.3"/><circle cx="1755.3" cy="119.3" r="3.3"/><circle cx="1636.4" cy="236.2" r="3.3"/><circle cx="1827.8" cy="38.4" r="3.3"/><circle cx="1766.5" cy="110.0" r="3.3"/><circle cx="1764.8" cy="111.5" r="3.3"/><circle cx="1631.4" cy="243.6" r="3.3"/><circle cx="1735.5" cy="137.7" r="3.3"/><circle cx="1803.9" cy="71.6" r="3.3"/><circle cx="1616.9" cy="263.1" r="3.3"/><circle cx="1791.5" cy="85.6" r="3.3"/><circle cx="1624.4" cy="256.2" r="3.3"/><circle cx="1696.3" cy="185.4" r="3.3"/><circle cx="1664.7" cy="212.6" r="3.3"/><circle cx="1782.7" cy="94.7" r="3.3"/><circle cx="1825.3" cy="40.6" r="3.3"/><circle cx="1737.4" cy="130.3" r="3.3"/><circle cx="1638.0" cy="241.2" r="3.3"/><circle cx="1673.4" cy="209.9" r="3.3"/><circle cx="1752.0" cy="111.3" r="3.3"/><circle cx="1754.8" cy="120.6" r="3.3"/><circle cx="1718.6" cy="158.4" r="3.3"/><circle cx="1799.8" cy="68.3" r="3.3"/><circle cx="1804.4" cy="68.1" r="3.3"/><circle cx="1708.6" cy="166.1" r="3.3"/><circle cx="1650.0" cy="230.1" r="3.3"/><circle cx="1728.8" cy="141.3" r="3.3"/><circle cx="1633.5" cy="251.3" r="3.3"/><circle cx="1700.7" cy="175.3" r="3.3"/><circle cx="1795.0" cy="67.8" r="3.3"/><circle cx="1581.3" cy="301.0" r="3.3"/><circle cx="1788.9" cy="80.6" r="3.3"/><circle cx="1658.2" cy="223.2" r="3.3"/><circle cx="1807.2" cy="64.1" r="3.3"/><circle cx="1671.3" cy="208.8" r="3.3"/><circle cx="1722.2" cy="152.4" r="3.3"/><circle cx="1582.8" cy="297.0" r="3.3"/><circle cx="1805.1" cy="61.9" r="3.3"/><circle cx="1643.7" cy="234.9" r="3.3"/><circle cx="1778.7" cy="92.6" r="3.3"/><circle cx="1843.5" cy="23.8" r="3.3"/><circle cx="1807.9" cy="62.4" r="3.3"/><circle cx="1733.5" cy="145.5" r="3.3"/><circle cx="1596.2" cy="286.2" r="3.3"/><circle cx="1802.5" cy="76.1" r="3.3"/><circle cx="1837.7" cy="35.3" r="3.3"/><circle cx="1661.4" cy="211.7" r="3.3"/><circle cx="1606.0" cy="266.2" r="3.3"/><circle cx="1685.3" cy="196.1" r="3.3"/><circle cx="1803.4" cy="72.3" r="3.3"/><circle cx="1650.8" cy="232.5" r="3.3"/><circle cx="1812.4" cy="53.0" r="3.3"/><circle cx="1825.5" cy="45.5" r="3.3"/><circle cx="1778.0" cy="92.6" r="3.3"/><circle cx="1678.3" cy="199.8" r="3.3"/><circle cx="1813.4" cy="57.0" r="3.3"/><circle cx="1751.7" cy="117.9" r="3.3"/><circle cx="1705.8" cy="166.9" r="3.3"/><circle cx="1813.8" cy="47.8" r="3.3"/><circle cx="1624.4" cy="271.0" r="3.3"/><circle cx="1800.3" cy="74.9" r="3.3"/><circle cx="1635.3" cy="247.3" r="3.3"/><circle cx="1636.4" cy="249.2" r="3.3"/><circle cx="1674.8" cy="204.9" r="3.3"/><circle cx="1819.1" cy="53.1" r="3.3"/><circle cx="1695.6" cy="175.0" r="3.3"/><circle cx="1717.0" cy="147.1" r="3.3"/><circle cx="1780.7" cy="90.6" r="3.3"/><circle cx="1632.1" cy="243.2" r="3.3"/><circle cx="1637.2" cy="246.7" r="3.3"/><circle cx="1718.7" cy="159.0" r="3.3"/><circle cx="1751.8" cy="122.5" r="3.3"/><circle cx="1839.7" cy="37.0" r="3.3"/><circle cx="1753.9" cy="122.3" r="3.3"/><circle cx="1805.5" cy="61.5" r="3.3"/><circle cx="1734.8" cy="143.9" r="3.3"/><circle cx="1744.0" cy="131.6" r="3.3"/><circle cx="1826.2" cy="48.9" r="3.3"/><circle cx="1705.4" cy="172.9" r="3.3"/><circle cx="1623.5" cy="256.5" r="3.3"/><circle cx="1782.1" cy="83.8" r="3.3"/><circle cx="1584.1" cy="292.5" r="3.3"/><circle cx="1709.4" cy="173.0" r="3.3"/><circle cx="1745.3" cy="122.2" r="3.3"/><circle cx="1795.3" cy="70.2" r="3.3"/><circle cx="1601.4" cy="289.3" r="3.3"/><circle cx="1599.7" cy="280.0" r="3.3"/><circle cx="1724.2" cy="159.0" r="3.3"/><circle cx="1736.3" cy="135.8" r="3.3"/><circle cx="1733.5" cy="147.7" r="3.3"/><circle cx="1665.8" cy="198.3" r="3.3"/><circle cx="1581.4" cy="300.2" r="3.3"/><circle cx="1640.3" cy="243.0" r="3.3"/><circle cx="1782.6" cy="84.7" r="3.3"/><circle cx="1838.3" cy="21.8" r="3.3"/><circle cx="1635.5" cy="256.7" r="3.3"/><circle cx="1690.2" cy="178.0" r="3.3"/><circle cx="1728.7" cy="142.2" r="3.3"/><circle cx="1800.2" cy="70.6" r="3.3"/><circle cx="1673.2" cy="208.5" r="3.3"/><circle cx="1712.6" cy="160.6" r="3.3"/><circle cx="1654.1" cy="220.0" r="3.3"/><circle cx="1596.9" cy="299.0" r="3.3"/><circle cx="1674.2" cy="207.6" r="3.3"/><circle cx="1626.3" cy="250.1" r="3.3"/><circle cx="1786.9" cy="89.0" r="3.3"/><circle cx="1806.3" cy="81.9" r="3.3"/><circle cx="1764.6" cy="109.5" r="3.3"/><circle cx="1693.0" cy="178.9" r="3.3"/><circle cx="1702.3" cy="170.2" r="3.3"/><circle cx="1836.4" cy="31.1" r="3.3"/><circle cx="1640.5" cy="258.1" r="3.3"/><circle cx="1833.2" cy="28.2" r="3.3"/><circle cx="1815.2" cy="51.1" r="3.3"/><circle cx="1688.4" cy="184.1" r="3.3"/><circle cx="1691.2" cy="181.5" r="3.3"/><circle cx="1604.3" cy="264.6" r="3.3"/><circle cx="1643.3" cy="237.7" r="3.3"/><circle cx="1796.3" cy="89.8" r="3.3"/><circle cx="1657.8" cy="223.7" r="3.3"/><circle cx="1609.6" cy="278.6" r="3.3"/><circle cx="1828.8" cy="39.5" r="3.3"/><circle cx="1598.9" cy="277.5" r="3.3"/><circle cx="1767.9" cy="108.7" r="3.3"/><circle cx="1747.2" cy="126.8" r="3.3"/><circle cx="1682.1" cy="199.8" r="3.3"/><circle cx="1622.0" cy="254.6" r="3.3"/><circle cx="1665.3" cy="203.9" r="3.3"/><circle cx="1724.8" cy="146.3" r="3.3"/><circle cx="1762.3" cy="105.9" r="3.3"/><circle cx="1757.7" cy="133.5" r="3.3"/><circle cx="1742.7" cy="125.2" r="3.3"/><circle cx="1719.5" cy="155.1" r="3.3"/><circle cx="1717.3" cy="159.0" r="3.3"/><circle cx="1703.0" cy="164.5" r="3.3"/><circle cx="1794.8" cy="78.9" r="3.3"/><circle cx="1766.1" cy="104.5" r="3.3"/><circle cx="1626.3" cy="259.1" r="3.3"/><circle cx="1679.0" cy="200.5" r="3.3"/><circle cx="1696.4" cy="180.7" r="3.3"/><circle cx="1840.3" cy="25.5" r="3.3"/><circle cx="1768.3" cy="106.1" r="3.3"/><circle cx="1776.7" cy="84.9" r="3.3"/><circle cx="1741.6" cy="124.9" r="3.3"/><circle cx="1703.2" cy="170.1" r="3.3"/><circle cx="1768.2" cy="96.5" r="3.3"/><circle cx="1623.7" cy="258.8" r="3.3"/><circle cx="1768.1" cy="99.0" r="3.3"/><circle cx="1775.1" cy="97.2" r="3.3"/><circle cx="1600.3" cy="271.8" r="3.3"/><circle cx="1630.4" cy="253.4" r="3.3"/><circle cx="1742.2" cy="129.2" r="3.3"/><circle cx="1825.7" cy="48.3" r="3.3"/><circle cx="1833.8" cy="32.9" r="3.3"/><circle cx="1608.6" cy="271.8" r="3.3"/><circle cx="1679.2" cy="199.2" r="3.3"/><circle cx="1673.7" cy="194.5" r="3.3"/><circle cx="1746.3" cy="128.2" r="3.3"/><circle cx="1662.5" cy="217.7" r="3.3"/><circle cx="1710.1" cy="168.7" r="3.3"/><circle cx="1634.8" cy="242.0" r="3.3"/><circle cx="1647.3" cy="237.0" r="3.3"/><circle cx="1602.7" cy="286.1" r="3.3"/><circle cx="1746.7" cy="126.0" r="3.3"/><circle cx="1804.6" cy="55.5" r="3.3"/><circle cx="1616.9" cy="266.6" r="3.3"/><circle cx="1621.1" cy="256.2" r="3.3"/><circle cx="1611.5" cy="273.1" r="3.3"/><circle cx="1646.0" cy="236.9" r="3.3"/><circle cx="1689.7" cy="189.2" r="3.3"/><circle cx="1670.6" cy="203.2" r="3.3"/><circle cx="1626.8" cy="262.3" r="3.3"/><circle cx="1664.1" cy="216.2" r="3.3"/><circle cx="1668.6" cy="211.6" r="3.3"/><circle cx="1810.9" cy="59.0" r="3.3"/><circle cx="1640.4" cy="240.5" r="3.3"/><circle cx="1615.3" cy="267.7" r="3.3"/><circle cx="1713.2" cy="164.4" r="3.3"/><circle cx="1631.4" cy="246.7" r="3.3"/><circle cx="1647.2" cy="242.1" r="3.3"/><circle cx="1634.1" cy="250.1" r="3.3"/><circle cx="1731.6" cy="147.2" r="3.3"/><circle cx="1838.7" cy="35.7" r="3.3"/><circle cx="1789.5" cy="68.7" r="3.3"/><circle cx="1600.9" cy="286.5" r="3.3"/><circle cx="1788.7" cy="87.0" r="3.3"/><circle cx="1593.5" cy="283.5" r="3.3"/><circle cx="1660.7" cy="226.2" r="3.3"/><circle cx="1697.1" cy="176.0" r="3.3"/><circle cx="1767.1" cy="110.8" r="3.3"/><circle cx="1761.8" cy="115.1" r="3.3"/><circle cx="1661.3" cy="214.6" r="3.3"/><circle cx="1821.1" cy="36.9" r="3.3"/><circle cx="1715.4" cy="150.5" r="3.3"/><circle cx="1670.2" cy="210.1" r="3.3"/><circle cx="1653.1" cy="219.6" r="3.3"/><circle cx="1661.1" cy="219.1" r="3.3"/><circle cx="1614.9" cy="259.8" r="3.3"/><circle cx="1718.5" cy="158.0" r="3.3"/><circle cx="1662.7" cy="214.6" r="3.3"/><circle cx="1817.4" cy="58.3" r="3.3"/><circle cx="1731.6" cy="136.7" r="3.3"/><circle cx="1843.5" cy="22.5" r="3.3"/><circle cx="1696.6" cy="183.9" r="3.3"/><circle cx="1655.3" cy="221.1" r="3.3"/><circle cx="1585.5" cy="297.0" r="3.3"/><circle cx="1604.2" cy="271.8" r="3.3"/><circle cx="1805.1" cy="58.7" r="3.3"/><circle cx="1652.9" cy="224.6" r="3.3"/><circle cx="1644.1" cy="234.9" r="3.3"/><circle cx="1714.1" cy="161.5" r="3.3"/><circle cx="1819.2" cy="51.7" r="3.3"/><circle cx="1639.3" cy="236.3" r="3.3"/><circle cx="1813.3" cy="52.6" r="3.3"/><circle cx="1697.6" cy="172.5" r="3.3"/><circle cx="1644.2" cy="235.0" r="3.3"/><circle cx="1713.9" cy="161.6" r="3.3"/><circle cx="1644.4" cy="230.5" r="3.3"/><circle cx="1739.8" cy="138.7" r="3.3"/><circle cx="1761.2" cy="108.8" r="3.3"/><circle cx="1803.0" cy="72.1" r="3.3"/><circle cx="1780.2" cy="80.3" r="3.3"/><circle cx="1587.4" cy="297.4" r="3.3"/><circle cx="1606.7" cy="271.3" r="3.3"/><circle cx="1648.0" cy="241.6" r="3.3"/><circle cx="1798.4" cy="71.3" r="3.3"/><circle cx="1603.2" cy="272.0" r="3.3"/><circle cx="1820.2" cy="52.1" r="3.3"/><circle cx="1752.6" cy="118.8" r="3.3"/><circle cx="1679.1" cy="193.5" r="3.3"/><circle cx="1586.8" cy="299.9" r="3.3"/><circle cx="1798.5" cy="67.5" r="3.3"/><circle cx="1739.6" cy="138.9" r="3.3"/><circle cx="1594.7" cy="283.7" r="3.3"/><circle cx="1713.2" cy="160.5" r="3.3"/><circle cx="1672.9" cy="194.5" r="3.3"/><circle cx="1655.9" cy="224.4" r="3.3"/><circle cx="1665.9" cy="207.9" r="3.3"/><circle cx="1713.8" cy="154.8" r="3.3"/><circle cx="1661.9" cy="216.6" r="3.3"/><circle cx="1827.9" cy="40.9" r="3.3"/><circle cx="1610.2" cy="281.7" r="3.3"/><circle cx="1820.1" cy="66.7" r="3.3"/><circle cx="1727.2" cy="155.3" r="3.3"/><circle cx="1752.8" cy="122.0" r="3.3"/><circle cx="1635.7" cy="245.4" r="3.3"/><circle cx="1736.2" cy="130.6" r="3.3"/><circle cx="1761.8" cy="116.1" r="3.3"/><circle cx="1764.0" cy="106.1" r="3.3"/><circle cx="1818.8" cy="51.4" r="3.3"/><circle cx="1654.0" cy="227.2" r="3.3"/><circle cx="1764.4" cy="109.6" r="3.3"/><circle cx="1811.4" cy="63.9" r="3.3"/><circle cx="1740.6" cy="128.9" r="3.3"/><circle cx="1658.0" cy="215.3" r="3.3"/><circle cx="1798.4" cy="70.0" r="3.3"/><circle cx="1603.6" cy="288.7" r="3.3"/><circle cx="1735.6" cy="132.9" r="3.3"/><circle cx="1664.8" cy="205.2" r="3.3"/><circle cx="1662.5" cy="214.0" r="3.3"/><circle cx="1660.9" cy="220.1" r="3.3"/><circle cx="1665.4" cy="211.3" r="3.3"/><circle cx="1785.5" cy="83.8" r="3.3"/><circle cx="1643.4" cy="245.1" r="3.3"/><circle cx="1826.1" cy="40.2" r="3.3"/><circle cx="1825.8" cy="36.0" r="3.3"/><circle cx="1786.5" cy="82.0" r="3.3"/><circle cx="1705.3" cy="174.1" r="3.3"/><circle cx="1752.7" cy="119.2" r="3.3"/><circle cx="1604.8" cy="273.6" r="3.3"/><circle cx="1843.3" cy="17.2" r="3.3"/><circle cx="1616.1" cy="267.6" r="3.3"/><circle cx="1831.0" cy="30.5" r="3.3"/><circle cx="1768.1" cy="110.0" r="3.3"/><circle cx="1821.8" cy="42.1" r="3.3"/><circle cx="1584.4" cy="295.5" r="3.3"/><circle cx="1736.3" cy="136.2" r="3.3"/><circle cx="1675.3" cy="198.5" r="3.3"/><circle cx="1736.5" cy="138.0" r="3.3"/><circle cx="1601.2" cy="283.2" r="3.3"/><circle cx="1747.3" cy="124.4" r="3.3"/><circle cx="1818.8" cy="49.5" r="3.3"/><circle cx="1746.5" cy="125.6" r="3.3"/><circle cx="1654.0" cy="226.8" r="3.3"/><circle cx="1771.8" cy="96.4" r="3.3"/><circle cx="1730.5" cy="138.8" r="3.3"/><circle cx="1736.9" cy="149.9" r="3.3"/><circle cx="1660.8" cy="231.9" r="3.3"/><circle cx="1828.6" cy="36.9" r="3.3"/><circle cx="1780.3" cy="96.0" r="3.3"/><circle cx="1771.7" cy="101.1" r="3.3"/><circle cx="1738.5" cy="141.4" r="3.3"/><circle cx="1635.1" cy="239.1" r="3.3"/><circle cx="1673.3" cy="208.0" r="3.3"/><circle cx="1773.8" cy="98.4" r="3.3"/><circle cx="1777.0" cy="104.7" r="3.3"/><circle cx="1679.8" cy="198.1" r="3.3"/><circle cx="1581.1" cy="297.9" r="3.3"/><circle cx="1779.1" cy="87.4" r="3.3"/><circle cx="1635.8" cy="240.7" r="3.3"/><circle cx="1631.0" cy="251.3" r="3.3"/><circle cx="1806.0" cy="64.0" r="3.3"/><circle cx="1715.7" cy="160.3" r="3.3"/><circle cx="1831.8" cy="33.8" r="3.3"/><circle cx="1724.6" cy="151.4" r="3.3"/><circle cx="1600.1" cy="282.4" r="3.3"/><circle cx="1817.9" cy="45.7" r="3.3"/><circle cx="1843.8" cy="30.3" r="3.3"/><circle cx="1652.6" cy="214.7" r="3.3"/><circle cx="1792.9" cy="84.7" r="3.3"/><circle cx="1724.0" cy="150.3" r="3.3"/><circle cx="1656.9" cy="238.1" r="3.3"/><circle cx="1832.0" cy="32.3" r="3.3"/><circle cx="1752.4" cy="119.1" r="3.3"/><circle cx="1822.6" cy="46.0" r="3.3"/><circle cx="1719.1" cy="156.8" r="3.3"/><circle cx="1822.3" cy="52.9" r="3.3"/><circle cx="1838.7" cy="22.8" r="3.3"/><circle cx="1599.6" cy="280.9" r="3.3"/><circle cx="1767.2" cy="116.2" r="3.3"/><circle cx="1793.8" cy="78.6" r="3.3"/><circle cx="1766.0" cy="122.8" r="3.3"/><circle cx="1796.2" cy="69.2" r="3.3"/><circle cx="1609.4" cy="274.3" r="3.3"/><circle cx="1826.5" cy="50.2" r="3.3"/><circle cx="1761.4" cy="114.0" r="3.3"/><circle cx="1704.7" cy="166.8" r="3.3"/><circle cx="1622.6" cy="254.7" r="3.3"/><circle cx="1719.5" cy="155.3" r="3.3"/><circle cx="1682.5" cy="194.5" r="3.3"/><circle cx="1706.0" cy="164.1" r="3.3"/><circle cx="1799.3" cy="71.3" r="3.3"/><circle cx="1667.1" cy="217.2" r="3.3"/><circle cx="1749.3" cy="121.2" r="3.3"/><circle cx="1766.2" cy="115.4" r="3.3"/><circle cx="1806.0" cy="59.6" r="3.3"/><circle cx="1614.8" cy="264.3" r="3.3"/><circle cx="1815.7" cy="55.2" r="3.3"/><circle cx="1762.5" cy="108.3" r="3.3"/><circle cx="1746.4" cy="120.0" r="3.3"/><circle cx="1721.0" cy="148.7" r="3.3"/><circle cx="1626.7" cy="252.8" r="3.3"/><circle cx="1738.1" cy="131.7" r="3.3"/><circle cx="1714.8" cy="160.5" r="3.3"/><circle cx="1633.1" cy="249.3" r="3.3"/><circle cx="1784.5" cy="90.1" r="3.3"/><circle cx="1836.1" cy="38.6" r="3.3"/><circle cx="1602.8" cy="269.0" r="3.3"/><circle cx="1598.0" cy="295.9" r="3.3"/><circle cx="1606.9" cy="279.7" r="3.3"/><circle cx="1842.4" cy="19.2" r="3.3"/><circle cx="1662.8" cy="216.8" r="3.3"/><circle cx="1660.9" cy="216.6" r="3.3"/><circle cx="1591.7" cy="293.9" r="3.3"/><circle cx="1804.2" cy="75.6" r="3.3"/><circle cx="1723.9" cy="150.1" r="3.3"/><circle cx="1660.9" cy="224.1" r="3.3"/><circle cx="1672.9" cy="205.7" r="3.3"/><circle cx="1687.3" cy="190.3" r="3.3"/><circle cx="1615.8" cy="257.6" r="3.3"/><circle cx="1745.4" cy="132.4" r="3.3"/><circle cx="1683.1" cy="190.5" r="3.3"/><circle cx="1803.8" cy="64.5" r="3.3"/><circle cx="1737.8" cy="142.2" r="3.3"/><circle cx="1730.4" cy="143.7" r="3.3"/><circle cx="1752.1" cy="122.9" r="3.3"/><circle cx="1702.7" cy="181.7" r="3.3"/><circle cx="1730.6" cy="136.8" r="3.3"/><circle cx="1629.4" cy="244.7" r="3.3"/><circle cx="1699.7" cy="171.0" r="3.3"/><circle cx="1806.8" cy="66.7" r="3.3"/><circle cx="1705.2" cy="159.0" r="3.3"/><circle cx="1591.7" cy="294.7" r="3.3"/><circle cx="1661.3" cy="211.6" r="3.3"/><circle cx="1657.0" cy="224.0" r="3.3"/><circle cx="1780.1" cy="98.0" r="3.3"/><circle cx="1826.3" cy="44.3" r="3.3"/><circle cx="1771.7" cy="105.5" r="3.3"/><circle cx="1631.6" cy="249.0" r="3.3"/><circle cx="1756.4" cy="118.5" r="3.3"/><circle cx="1787.3" cy="85.9" r="3.3"/><circle cx="1762.9" cy="115.4" r="3.3"/><circle cx="1618.1" cy="259.6" r="3.3"/><circle cx="1588.3" cy="289.3" r="3.3"/><circle cx="1804.6" cy="60.6" r="3.3"/><circle cx="1620.8" cy="280.6" r="3.3"/><circle cx="1816.8" cy="52.7" r="3.3"/><circle cx="1696.6" cy="175.6" r="3.3"/><circle cx="1649.5" cy="230.0" r="3.3"/><circle cx="1626.4" cy="254.8" r="3.3"/><circle cx="1768.1" cy="108.8" r="3.3"/><circle cx="1780.4" cy="97.1" r="3.3"/><circle cx="1777.3" cy="94.4" r="3.3"/><circle cx="1680.3" cy="192.9" r="3.3"/><circle cx="1778.6" cy="93.3" r="3.3"/><circle cx="1738.4" cy="134.4" r="3.3"/><circle cx="1783.1" cy="77.0" r="3.3"/><circle cx="1626.1" cy="253.5" r="3.3"/><circle cx="1840.4" cy="27.1" r="3.3"/><circle cx="1820.6" cy="44.8" r="3.3"/><circle cx="1835.3" cy="45.8" r="3.3"/><circle cx="1674.7" cy="195.0" r="3.3"/><circle cx="1693.1" cy="184.1" r="3.3"/><circle cx="1730.4" cy="141.3" r="3.3"/><circle cx="1704.7" cy="174.3" r="3.3"/><circle cx="1773.5" cy="98.6" r="3.3"/><circle cx="1627.7" cy="258.3" r="3.3"/><circle cx="1738.8" cy="128.9" r="3.3"/><circle cx="1827.2" cy="48.2" r="3.3"/><circle cx="1722.5" cy="147.6" r="3.3"/><circle cx="1737.9" cy="140.1" r="3.3"/><circle cx="1648.1" cy="224.6" r="3.3"/><circle cx="1778.0" cy="87.1" r="3.3"/><circle cx="1815.0" cy="56.8" r="3.3"/><circle cx="1709.7" cy="153.7" r="3.3"/><circle cx="1638.6" cy="235.2" r="3.3"/><circle cx="1826.5" cy="50.0" r="3.3"/><circle cx="1773.7" cy="101.7" r="3.3"/><circle cx="1655.5" cy="222.8" r="3.3"/><circle cx="1646.7" cy="233.7" r="3.3"/><circle cx="1596.6" cy="292.4" r="3.3"/><circle cx="1733.5" cy="141.3" r="3.3"/><circle cx="1604.4" cy="274.0" r="3.3"/><circle cx="1772.4" cy="103.0" r="3.3"/><circle cx="1843.8" cy="23.5" r="3.3"/><circle cx="1674.6" cy="201.5" r="3.3"/><circle cx="1696.5" cy="178.0" r="3.3"/><circle cx="1619.0" cy="256.0" r="3.3"/><circle cx="1713.6" cy="170.5" r="3.3"/><circle cx="1770.8" cy="112.6" r="3.3"/><circle cx="1609.6" cy="269.2" r="3.3"/><circle cx="1711.5" cy="151.7" r="3.3"/><circle cx="1785.3" cy="77.8" r="3.3"/><circle cx="1796.6" cy="67.7" r="3.3"/><circle cx="1587.4" cy="291.0" r="3.3"/><circle cx="1679.3" cy="203.0" r="3.3"/><circle cx="1793.7" cy="76.0" r="3.3"/><circle cx="1809.8" cy="81.2" r="3.3"/><circle cx="1696.8" cy="171.8" r="3.3"/><circle cx="1754.7" cy="111.5" r="3.3"/><circle cx="1594.0" cy="294.7" r="3.3"/><circle cx="1705.1" cy="167.1" r="3.3"/><circle cx="1630.2" cy="247.7" r="3.3"/><circle cx="1790.3" cy="75.5" r="3.3"/><circle cx="1665.2" cy="220.0" r="3.3"/><circle cx="1764.1" cy="109.0" r="3.3"/><circle cx="1693.5" cy="194.3" r="3.3"/><circle cx="1829.5" cy="33.9" r="3.3"/><circle cx="1710.9" cy="159.1" r="3.3"/><circle cx="1689.4" cy="190.5" r="3.3"/><circle cx="1704.9" cy="169.7" r="3.3"/><circle cx="1715.6" cy="154.5" r="3.3"/><circle cx="1582.8" cy="303.2" r="3.3"/><circle cx="1681.5" cy="188.9" r="3.3"/><circle cx="1645.0" cy="232.1" r="3.3"/><circle cx="1839.2" cy="30.9" r="3.3"/><circle cx="1628.4" cy="255.5" r="3.3"/><circle cx="1786.6" cy="82.8" r="3.3"/><circle cx="1723.9" cy="146.2" r="3.3"/><circle cx="1642.7" cy="236.4" r="3.3"/><circle cx="1735.7" cy="138.2" r="3.3"/><circle cx="1583.8" cy="293.8" r="3.3"/><circle cx="1768.3" cy="102.0" r="3.3"/><circle cx="1767.9" cy="95.2" r="3.3"/><circle cx="1841.0" cy="26.5" r="3.3"/><circle cx="1835.4" cy="35.5" r="3.3"/><circle cx="1748.6" cy="127.8" r="3.3"/><circle cx="1615.2" cy="266.4" r="3.3"/><circle cx="1612.4" cy="281.0" r="3.3"/><circle cx="1678.1" cy="199.0" r="3.3"/><circle cx="1696.0" cy="186.6" r="3.3"/><circle cx="1803.7" cy="65.0" r="3.3"/><circle cx="1778.4" cy="99.5" r="3.3"/><circle cx="1674.8" cy="196.9" r="3.3"/><circle cx="1636.6" cy="251.3" r="3.3"/><circle cx="1796.1" cy="69.3" r="3.3"/><circle cx="1582.7" cy="300.3" r="3.3"/><circle cx="1684.3" cy="196.7" r="3.3"/><circle cx="1813.5" cy="60.7" r="3.3"/><circle cx="1677.2" cy="200.2" r="3.3"/><circle cx="1588.4" cy="301.0" r="3.3"/><circle cx="1758.8" cy="104.6" r="3.3"/><circle cx="1671.0" cy="204.8" r="3.3"/><circle cx="1692.0" cy="182.3" r="3.3"/><circle cx="1648.0" cy="236.4" r="3.3"/><circle cx="1587.5" cy="306.8" r="3.3"/><circle cx="1650.2" cy="226.8" r="3.3"/><circle cx="1648.3" cy="238.9" r="3.3"/><circle cx="1814.6" cy="55.1" r="3.3"/><circle cx="1588.2" cy="295.9" r="3.3"/><circle cx="1794.7" cy="76.4" r="3.3"/><circle cx="1777.7" cy="94.9" r="3.3"/><circle cx="1764.2" cy="101.6" r="3.3"/><circle cx="1753.2" cy="115.4" r="3.3"/><circle cx="1590.6" cy="292.1" r="3.3"/><circle cx="1698.6" cy="198.5" r="3.3"/><circle cx="1768.0" cy="111.0" r="3.3"/><circle cx="1708.0" cy="163.1" r="3.3"/><circle cx="1771.0" cy="104.9" r="3.3"/><circle cx="1730.4" cy="141.0" r="3.3"/><circle cx="1652.3" cy="226.8" r="3.3"/><circle cx="1788.1" cy="87.5" r="3.3"/><circle cx="1728.3" cy="148.0" r="3.3"/><circle cx="1678.4" cy="193.6" r="3.3"/><circle cx="1830.7" cy="35.1" r="3.3"/><circle cx="1582.3" cy="292.1" r="3.3"/><circle cx="1728.6" cy="151.8" r="3.3"/><circle cx="1835.7" cy="29.9" r="3.3"/><circle cx="1691.1" cy="179.6" r="3.3"/><circle cx="1644.6" cy="233.2" r="3.3"/><circle cx="1679.7" cy="191.4" r="3.3"/><circle cx="1774.3" cy="99.4" r="3.3"/><circle cx="1756.4" cy="119.6" r="3.3"/><circle cx="1656.0" cy="209.6" r="3.3"/><circle cx="1828.9" cy="34.3" r="3.3"/><circle cx="1696.0" cy="188.2" r="3.3"/><circle cx="1739.5" cy="129.5" r="3.3"/><circle cx="1670.4" cy="201.1" r="3.3"/><circle cx="1795.4" cy="70.3" r="3.3"/><circle cx="1629.3" cy="251.6" r="3.3"/><circle cx="1798.5" cy="82.0" r="3.3"/><circle cx="1719.9" cy="154.8" r="3.3"/><circle cx="1676.0" cy="189.2" r="3.3"/><circle cx="1782.9" cy="85.7" r="3.3"/><circle cx="1743.0" cy="126.1" r="3.3"/><circle cx="1770.6" cy="105.6" r="3.3"/><circle cx="1695.4" cy="187.2" r="3.3"/><circle cx="1611.3" cy="272.3" r="3.3"/><circle cx="1654.1" cy="225.1" r="3.3"/><circle cx="1693.3" cy="189.7" r="3.3"/><circle cx="1642.4" cy="226.8" r="3.3"/><circle cx="1809.6" cy="62.6" r="3.3"/><circle cx="1837.1" cy="22.1" r="3.3"/><circle cx="1613.3" cy="256.8" r="3.3"/><circle cx="1589.1" cy="297.6" r="3.3"/><circle cx="1735.1" cy="142.7" r="3.3"/><circle cx="1609.4" cy="274.9" r="3.3"/><circle cx="1745.7" cy="116.0" r="3.3"/><circle cx="1615.8" cy="271.2" r="3.3"/><circle cx="1691.7" cy="185.5" r="3.3"/><circle cx="1665.9" cy="213.2" r="3.3"/><circle cx="1612.2" cy="269.2" r="3.3"/><circle cx="1768.6" cy="100.5" r="3.3"/><circle cx="1801.1" cy="61.3" r="3.3"/><circle cx="1629.1" cy="242.1" r="3.3"/><circle cx="1652.9" cy="224.8" r="3.3"/><circle cx="1733.7" cy="143.2" r="3.3"/><circle cx="1681.6" cy="188.6" r="3.3"/><circle cx="1666.4" cy="207.5" r="3.3"/><circle cx="1600.6" cy="282.2" r="3.3"/><circle cx="1780.0" cy="81.3" r="3.3"/><circle cx="1695.3" cy="178.9" r="3.3"/><circle cx="1777.7" cy="87.5" r="3.3"/><circle cx="1797.8" cy="88.5" r="3.3"/><circle cx="1682.1" cy="209.9" r="3.3"/><circle cx="1638.1" cy="239.5" r="3.3"/><circle cx="1600.4" cy="282.5" r="3.3"/><circle cx="1802.7" cy="65.0" r="3.3"/><circle cx="1806.2" cy="50.5" r="3.3"/><circle cx="1661.3" cy="213.6" r="3.3"/><circle cx="1688.9" cy="191.8" r="3.3"/><circle cx="1786.3" cy="85.0" r="3.3"/><circle cx="1625.0" cy="246.1" r="3.3"/><circle cx="1627.3" cy="246.2" r="3.3"/><circle cx="1736.4" cy="129.7" r="3.3"/><circle cx="1668.5" cy="212.6" r="3.3"/><circle cx="1775.3" cy="97.8" r="3.3"/><circle cx="1730.8" cy="145.1" r="3.3"/><circle cx="1817.8" cy="49.2" r="3.3"/><circle cx="1657.4" cy="222.4" r="3.3"/><circle cx="1825.5" cy="43.3" r="3.3"/><circle cx="1767.9" cy="97.8" r="3.3"/><circle cx="1613.0" cy="266.8" r="3.3"/><circle cx="1613.1" cy="276.6" r="3.3"/><circle cx="1581.0" cy="296.7" r="3.3"/><circle cx="1672.7" cy="195.3" r="3.3"/><circle cx="1723.3" cy="152.3" r="3.3"/><circle cx="1686.8" cy="187.7" r="3.3"/><circle cx="1616.0" cy="264.6" r="3.3"/><circle cx="1668.3" cy="208.6" r="3.3"/><circle cx="1820.7" cy="43.7" r="3.3"/><circle cx="1641.5" cy="230.9" r="3.3"/><circle cx="1670.8" cy="217.7" r="3.3"/><circle cx="1628.5" cy="251.7" r="3.3"/><circle cx="1784.6" cy="86.8" r="3.3"/><circle cx="1827.0" cy="45.8" r="3.3"/><circle cx="1725.0" cy="153.0" r="3.3"/><circle cx="1790.4" cy="93.3" r="3.3"/><circle cx="1658.3" cy="218.3" r="3.3"/><circle cx="1673.3" cy="207.1" r="3.3"/><circle cx="1601.0" cy="275.5" r="3.3"/><circle cx="1793.3" cy="76.3" r="3.3"/><circle cx="1661.9" cy="218.9" r="3.3"/><circle cx="1833.2" cy="23.9" r="3.3"/><circle cx="1617.1" cy="266.4" r="3.3"/><circle cx="1596.4" cy="289.1" r="3.3"/><circle cx="1762.3" cy="112.8" r="3.3"/><circle cx="1653.6" cy="222.6" r="3.3"/><circle cx="1691.1" cy="187.5" r="3.3"/><circle cx="1640.2" cy="235.5" r="3.3"/><circle cx="1827.6" cy="39.0" r="3.3"/><circle cx="1641.9" cy="242.2" r="3.3"/><circle cx="1801.1" cy="66.4" r="3.3"/><circle cx="1795.4" cy="72.5" r="3.3"/><circle cx="1581.3" cy="304.9" r="3.3"/><circle cx="1619.7" cy="266.8" r="3.3"/><circle cx="1764.2" cy="108.2" r="3.3"/><circle cx="1586.6" cy="290.9" r="3.3"/><circle cx="1653.1" cy="221.8" r="3.3"/><circle cx="1656.2" cy="224.1" r="3.3"/><circle cx="1706.2" cy="171.0" r="3.3"/><circle cx="1610.2" cy="272.2" r="3.3"/><circle cx="1764.2" cy="100.1" r="3.3"/><circle cx="1680.9" cy="196.6" r="3.3"/><circle cx="1751.3" cy="120.3" r="3.3"/><circle cx="1674.3" cy="217.4" r="3.3"/><circle cx="1667.8" cy="202.4" r="3.3"/><circle cx="1653.0" cy="222.4" r="3.3"/><circle cx="1593.5" cy="295.9" r="3.3"/><circle cx="1816.1" cy="45.6" r="3.3"/><circle cx="1640.0" cy="253.8" r="3.3"/><circle cx="1820.0" cy="54.1" r="3.3"/><circle cx="1679.7" cy="203.4" r="3.3"/><circle cx="1591.0" cy="287.5" r="3.3"/><circle cx="1661.8" cy="214.8" r="3.3"/><circle cx="1768.4" cy="102.0" r="3.3"/><circle cx="1800.3" cy="60.3" r="3.3"/><circle cx="1807.9" cy="69.2" r="3.3"/><circle cx="1685.9" cy="188.7" r="3.3"/><circle cx="1717.7" cy="152.3" r="3.3"/><circle cx="1683.1" cy="188.2" r="3.3"/><circle cx="1707.3" cy="167.2" r="3.3"/><circle cx="1727.2" cy="144.0" r="3.3"/><circle cx="1827.8" cy="42.0" r="3.3"/><circle cx="1705.5" cy="166.3" r="3.3"/><circle cx="1640.2" cy="245.1" r="3.3"/><circle cx="1643.7" cy="237.3" r="3.3"/><circle cx="1700.7" cy="170.0" r="3.3"/><circle cx="1672.5" cy="201.0" r="3.3"/><circle cx="1641.0" cy="231.9" r="3.3"/><circle cx="1825.6" cy="54.7" r="3.3"/><circle cx="1606.6" cy="269.2" r="3.3"/><circle cx="1716.1" cy="157.7" r="3.3"/><circle cx="1789.8" cy="77.3" r="3.3"/><circle cx="1735.4" cy="136.9" r="3.3"/><circle cx="1813.4" cy="74.1" r="3.3"/><circle cx="1603.9" cy="279.4" r="3.3"/><circle cx="1633.9" cy="245.7" r="3.3"/><circle cx="1692.1" cy="179.6" r="3.3"/><circle cx="1806.3" cy="63.3" r="3.3"/><circle cx="1762.6" cy="112.5" r="3.3"/><circle cx="1616.0" cy="259.9" r="3.3"/><circle cx="1689.4" cy="181.7" r="3.3"/><circle cx="1746.6" cy="131.1" r="3.3"/><circle cx="1623.8" cy="246.6" r="3.3"/><circle cx="1709.3" cy="164.7" r="3.3"/><circle cx="1666.3" cy="215.3" r="3.3"/><circle cx="1693.5" cy="188.4" r="3.3"/><circle cx="1674.6" cy="193.1" r="3.3"/><circle cx="1695.9" cy="184.3" r="3.3"/><circle cx="1810.1" cy="58.4" r="3.3"/><circle cx="1602.1" cy="282.4" r="3.3"/><circle cx="1608.8" cy="274.4" r="3.3"/><circle cx="1581.9" cy="295.4" r="3.3"/><circle cx="1752.1" cy="118.3" r="3.3"/><circle cx="1584.5" cy="295.2" r="3.3"/><circle cx="1640.3" cy="239.8" r="3.3"/><circle cx="1825.3" cy="56.2" r="3.3"/><circle cx="1661.9" cy="222.9" r="3.3"/><circle cx="1787.5" cy="84.9" r="3.3"/><circle cx="1758.2" cy="125.9" r="3.3"/><circle cx="1754.4" cy="122.8" r="3.3"/><circle cx="1610.1" cy="272.5" r="3.3"/><circle cx="1812.5" cy="51.1" r="3.3"/><circle cx="1668.6" cy="213.2" r="3.3"/><circle cx="1725.0" cy="148.6" r="3.3"/><circle cx="1601.9" cy="278.7" r="3.3"/><circle cx="1665.6" cy="213.5" r="3.3"/><circle cx="1724.3" cy="148.5" r="3.3"/><circle cx="1665.6" cy="216.5" r="3.3"/><circle cx="1630.0" cy="253.8" r="3.3"/><circle cx="1792.5" cy="84.1" r="3.3"/><circle cx="1667.8" cy="223.3" r="3.3"/><circle cx="1589.4" cy="308.3" r="3.3"/><circle cx="1685.2" cy="202.3" r="3.3"/><circle cx="1719.3" cy="156.2" r="3.3"/><circle cx="1827.3" cy="52.7" r="3.3"/><circle cx="1774.8" cy="100.9" r="3.3"/><circle cx="1644.9" cy="223.4" r="3.3"/><circle cx="1791.0" cy="79.4" r="3.3"/><circle cx="1662.9" cy="222.6" r="3.3"/><circle cx="1744.4" cy="131.5" r="3.3"/><circle cx="1693.4" cy="182.6" r="3.3"/><circle cx="1820.0" cy="35.0" r="3.3"/><circle cx="1761.7" cy="108.3" r="3.3"/><circle cx="1585.6" cy="295.0" r="3.3"/><circle cx="1839.3" cy="27.2" r="3.3"/><circle cx="1585.5" cy="293.3" r="3.3"/><circle cx="1616.6" cy="260.6" r="3.3"/><circle cx="1745.5" cy="123.7" r="3.3"/><circle cx="1616.7" cy="270.9" r="3.3"/><circle cx="1656.0" cy="214.6" r="3.3"/><circle cx="1583.6" cy="294.8" r="3.3"/><circle cx="1748.5" cy="126.1" r="3.3"/><circle cx="1609.1" cy="271.6" r="3.3"/><circle cx="1720.0" cy="153.1" r="3.3"/><circle cx="1675.5" cy="196.8" r="3.3"/><circle cx="1661.1" cy="226.6" r="3.3"/><circle cx="1780.6" cy="92.5" r="3.3"/><circle cx="1771.8" cy="101.5" r="3.3"/><circle cx="1807.1" cy="53.2" r="3.3"/><circle cx="1735.2" cy="138.6" r="3.3"/><circle cx="1777.5" cy="108.1" r="3.3"/><circle cx="1743.4" cy="121.7" r="3.3"/><circle cx="1625.1" cy="253.0" r="3.3"/><circle cx="1668.0" cy="204.2" r="3.3"/><circle cx="1833.7" cy="33.8" r="3.3"/><circle cx="1764.2" cy="107.3" r="3.3"/><circle cx="1785.7" cy="87.5" r="3.3"/><circle cx="1786.7" cy="87.3" r="3.3"/><circle cx="1798.1" cy="85.5" r="3.3"/><circle cx="1766.8" cy="105.0" r="3.3"/><circle cx="1836.4" cy="47.6" r="3.3"/><circle cx="1608.8" cy="277.3" r="3.3"/><circle cx="1743.9" cy="119.4" r="3.3"/><circle cx="1786.7" cy="82.4" r="3.3"/><circle cx="1687.5" cy="197.6" r="3.3"/><circle cx="1746.9" cy="124.0" r="3.3"/><circle cx="1635.4" cy="236.8" r="3.3"/><circle cx="1824.7" cy="49.5" r="3.3"/><circle cx="1664.2" cy="212.4" r="3.3"/><circle cx="1683.4" cy="187.8" r="3.3"/><circle cx="1772.6" cy="113.6" r="3.3"/><circle cx="1657.9" cy="213.1" r="3.3"/><circle cx="1790.7" cy="66.1" r="3.3"/><circle cx="1705.0" cy="162.7" r="3.3"/><circle cx="1784.2" cy="100.8" r="3.3"/><circle cx="1614.9" cy="262.1" r="3.3"/><circle cx="1689.9" cy="183.4" r="3.3"/><circle cx="1683.8" cy="191.4" r="3.3"/><circle cx="1754.9" cy="126.0" r="3.3"/><circle cx="1734.8" cy="130.3" r="3.3"/><circle cx="1785.6" cy="82.9" r="3.3"/><circle cx="1760.5" cy="113.0" r="3.3"/><circle cx="1633.0" cy="239.0" r="3.3"/><circle cx="1711.8" cy="164.1" r="3.3"/><circle cx="1804.4" cy="62.4" r="3.3"/><circle cx="1804.5" cy="55.3" r="3.3"/><circle cx="1767.8" cy="108.6" r="3.3"/><circle cx="1768.5" cy="91.0" r="3.3"/><circle cx="1794.2" cy="66.4" r="3.3"/><circle cx="1640.3" cy="233.9" r="3.3"/><circle cx="1605.8" cy="282.0" r="3.3"/><circle cx="1832.0" cy="44.9" r="3.3"/><circle cx="1757.1" cy="111.2" r="3.3"/><circle cx="1664.2" cy="213.5" r="3.3"/><circle cx="1677.8" cy="195.4" r="3.3"/><circle cx="1586.4" cy="292.0" r="3.3"/><circle cx="1644.2" cy="240.3" r="3.3"/><circle cx="1769.7" cy="98.0" r="3.3"/><circle cx="1801.8" cy="62.7" r="3.3"/><circle cx="1843.5" cy="17.5" r="3.3"/><circle cx="1727.1" cy="133.0" r="3.3"/><circle cx="1597.1" cy="287.1" r="3.3"/><circle cx="1793.5" cy="81.7" r="3.3"/><circle cx="1584.1" cy="297.0" r="3.3"/><circle cx="1817.1" cy="56.4" r="3.3"/><circle cx="1778.8" cy="95.1" r="3.3"/><circle cx="1602.9" cy="271.1" r="3.3"/><circle cx="1795.8" cy="73.3" r="3.3"/><circle cx="1678.0" cy="209.6" r="3.3"/><circle cx="1723.5" cy="159.2" r="3.3"/><circle cx="1763.4" cy="105.2" r="3.3"/><circle cx="1833.4" cy="33.7" r="3.3"/><circle cx="1589.6" cy="290.9" r="3.3"/><circle cx="1841.4" cy="26.7" r="3.3"/><circle cx="1714.4" cy="163.4" r="3.3"/><circle cx="1706.7" cy="167.1" r="3.3"/><circle cx="1831.7" cy="30.1" r="3.3"/><circle cx="1706.6" cy="168.1" r="3.3"/><circle cx="1820.5" cy="57.8" r="3.3"/><circle cx="1672.7" cy="195.7" r="3.3"/><circle cx="1705.3" cy="187.6" r="3.3"/><circle cx="1802.5" cy="75.7" r="3.3"/><circle cx="1659.5" cy="217.1" r="3.3"/><circle cx="1602.9" cy="274.1" r="3.3"/><circle cx="1814.3" cy="52.0" r="3.3"/><circle cx="1717.9" cy="155.8" r="3.3"/><circle cx="1708.7" cy="179.1" r="3.3"/><circle cx="1660.9" cy="211.3" r="3.3"/><circle cx="1631.2" cy="251.7" r="3.3"/><circle cx="1731.8" cy="145.8" r="3.3"/><circle cx="1768.1" cy="103.3" r="3.3"/><circle cx="1667.2" cy="212.0" r="3.3"/><circle cx="1640.5" cy="235.9" r="3.3"/><circle cx="1740.9" cy="125.8" r="3.3"/><circle cx="1741.8" cy="130.1" r="3.3"/><circle cx="1784.2" cy="93.4" r="3.3"/><circle cx="1733.5" cy="136.6" r="3.3"/><circle cx="1606.0" cy="274.0" r="3.3"/><circle cx="1771.4" cy="104.0" r="3.3"/><circle cx="1702.1" cy="178.3" r="3.3"/><circle cx="1599.1" cy="273.5" r="3.3"/><circle cx="1650.0" cy="226.9" r="3.3"/><circle cx="1665.1" cy="222.7" r="3.3"/><circle cx="1705.3" cy="169.5" r="3.3"/><circle cx="1713.1" cy="156.8" r="3.3"/><circle cx="1620.7" cy="259.6" r="3.3"/><circle cx="1770.3" cy="121.1" r="3.3"/><circle cx="1640.0" cy="253.8" r="3.3"/><circle cx="1783.2" cy="82.7" r="3.3"/><circle cx="1691.1" cy="181.2" r="3.3"/><circle cx="1770.8" cy="99.9" r="3.3"/><circle cx="1623.4" cy="251.2" r="3.3"/><circle cx="1738.7" cy="128.8" r="3.3"/><circle cx="1603.8" cy="274.4" r="3.3"/><circle cx="1742.8" cy="120.5" r="3.3"/><circle cx="1586.8" cy="293.4" r="3.3"/><circle cx="1721.5" cy="149.6" r="3.3"/><circle cx="1648.2" cy="222.1" r="3.3"/><circle cx="1835.0" cy="30.3" r="3.3"/><circle cx="1688.4" cy="189.2" r="3.3"/><circle cx="1791.0" cy="82.1" r="3.3"/><circle cx="1710.1" cy="166.0" r="3.3"/><circle cx="1829.8" cy="40.1" r="3.3"/><circle cx="1638.8" cy="233.2" r="3.3"/><circle cx="1698.1" cy="186.9" r="3.3"/><circle cx="1657.3" cy="216.7" r="3.3"/><circle cx="1651.8" cy="226.6" r="3.3"/><circle cx="1665.7" cy="217.5" r="3.3"/><circle cx="1636.4" cy="236.8" r="3.3"/><circle cx="1692.2" cy="180.3" r="3.3"/><circle cx="1582.1" cy="307.2" r="3.3"/><circle cx="1713.1" cy="158.8" r="3.3"/><circle cx="1720.9" cy="147.2" r="3.3"/><circle cx="1648.4" cy="224.6" r="3.3"/><circle cx="1719.6" cy="143.2" r="3.3"/><circle cx="1771.6" cy="99.3" r="3.3"/><circle cx="1642.4" cy="236.7" r="3.3"/><circle cx="1635.1" cy="240.1" r="3.3"/><circle cx="1659.5" cy="221.3" r="3.3"/><circle cx="1801.3" cy="57.1" r="3.3"/><circle cx="1832.9" cy="39.3" r="3.3"/><circle cx="1668.7" cy="206.7" r="3.3"/><circle cx="1843.6" cy="25.5" r="3.3"/><circle cx="1650.1" cy="245.2" r="3.3"/><circle cx="1809.4" cy="61.9" r="3.3"/><circle cx="1784.0" cy="90.2" r="3.3"/><circle cx="1755.4" cy="111.2" r="3.3"/><circle cx="1672.2" cy="202.7" r="3.3"/><circle cx="1636.2" cy="255.2" r="3.3"/><circle cx="1675.2" cy="203.3" r="3.3"/><circle cx="1624.5" cy="255.9" r="3.3"/><circle cx="1693.4" cy="172.7" r="3.3"/><circle cx="1643.0" cy="239.2" r="3.3"/><circle cx="1754.4" cy="112.2" r="3.3"/><circle cx="1841.3" cy="26.4" r="3.3"/><circle cx="1607.8" cy="267.5" r="3.3"/><circle cx="1823.8" cy="35.9" r="3.3"/><circle cx="1673.2" cy="200.7" r="3.3"/><circle cx="1796.6" cy="92.2" r="3.3"/><circle cx="1820.8" cy="55.2" r="3.3"/><circle cx="1678.3" cy="216.8" r="3.3"/><circle cx="1681.9" cy="188.9" r="3.3"/><circle cx="1590.3" cy="285.7" r="3.3"/><circle cx="1773.1" cy="99.5" r="3.3"/><circle cx="1772.0" cy="96.0" r="3.3"/><circle cx="1748.1" cy="120.6" r="3.3"/><circle cx="1829.1" cy="46.8" r="3.3"/><circle cx="1773.5" cy="100.5" r="3.3"/><circle cx="1608.8" cy="272.4" r="3.3"/><circle cx="1614.0" cy="264.1" r="3.3"/><circle cx="1587.6" cy="289.8" r="3.3"/><circle cx="1805.0" cy="65.0" r="3.3"/><circle cx="1633.7" cy="245.1" r="3.3"/><circle cx="1783.1" cy="102.2" r="3.3"/><circle cx="1771.1" cy="100.6" r="3.3"/><circle cx="1790.8" cy="78.3" r="3.3"/><circle cx="1702.9" cy="169.0" r="3.3"/><circle cx="1682.8" cy="199.8" r="3.3"/><circle cx="1803.3" cy="76.2" r="3.3"/><circle cx="1840.1" cy="28.8" r="3.3"/><circle cx="1709.1" cy="162.5" r="3.3"/><circle cx="1739.6" cy="134.7" r="3.3"/><circle cx="1804.0" cy="71.1" r="3.3"/><circle cx="1772.1" cy="96.0" r="3.3"/><circle cx="1612.4" cy="269.3" r="3.3"/><circle cx="1816.2" cy="56.7" r="3.3"/><circle cx="1593.4" cy="286.8" r="3.3"/><circle cx="1793.8" cy="70.2" r="3.3"/><circle cx="1609.6" cy="265.8" r="3.3"/><circle cx="1620.3" cy="246.6" r="3.3"/><circle cx="1769.8" cy="102.8" r="3.3"/><circle cx="1594.9" cy="286.5" r="3.3"/><circle cx="1601.5" cy="282.9" r="3.3"/><circle cx="1649.7" cy="236.9" r="3.3"/><circle cx="1762.5" cy="110.2" r="3.3"/><circle cx="1800.5" cy="64.3" r="3.3"/><circle cx="1783.3" cy="88.0" r="3.3"/><circle cx="1641.1" cy="233.1" r="3.3"/><circle cx="1685.1" cy="208.2" r="3.3"/><circle cx="1664.1" cy="224.4" r="3.3"/><circle cx="1644.6" cy="227.0" r="3.3"/><circle cx="1692.4" cy="176.7" r="3.3"/><circle cx="1714.1" cy="158.3" r="3.3"/><circle cx="1757.3" cy="115.4" r="3.3"/><circle cx="1740.0" cy="128.4" r="3.3"/><circle cx="1644.2" cy="232.5" r="3.3"/><circle cx="1699.3" cy="169.7" r="3.3"/><circle cx="1830.6" cy="27.7" r="3.3"/><circle cx="1825.4" cy="42.5" r="3.3"/><circle cx="1755.4" cy="130.0" r="3.3"/><circle cx="1767.0" cy="115.2" r="3.3"/><circle cx="1792.2" cy="87.9" r="3.3"/><circle cx="1642.7" cy="231.5" r="3.3"/><circle cx="1628.5" cy="249.7" r="3.3"/><circle cx="1624.7" cy="248.3" r="3.3"/><circle cx="1599.4" cy="270.4" r="3.3"/><circle cx="1823.6" cy="44.2" r="3.3"/><circle cx="1584.5" cy="300.3" r="3.3"/><circle cx="1823.9" cy="47.2" r="3.3"/><circle cx="1750.6" cy="119.9" r="3.3"/><circle cx="1793.7" cy="88.0" r="3.3"/><circle cx="1721.0" cy="163.6" r="3.3"/><circle cx="1593.9" cy="309.0" r="3.3"/><circle cx="1765.4" cy="95.6" r="3.3"/><circle cx="1783.4" cy="93.9" r="3.3"/><circle cx="1624.9" cy="255.0" r="3.3"/><circle cx="1802.3" cy="66.3" r="3.3"/><circle cx="1632.1" cy="260.4" r="3.3"/><circle cx="1678.9" cy="185.7" r="3.3"/><circle cx="1668.1" cy="226.8" r="3.3"/><circle cx="1609.6" cy="280.9" r="3.3"/><circle cx="1685.6" cy="191.4" r="3.3"/><circle cx="1758.4" cy="118.9" r="3.3"/><circle cx="1672.5" cy="200.5" r="3.3"/><circle cx="1710.8" cy="169.4" r="3.3"/><circle cx="1821.5" cy="42.7" r="3.3"/><circle cx="1833.6" cy="31.7" r="3.3"/><circle cx="1815.4" cy="45.7" r="3.3"/><circle cx="1652.2" cy="217.8" r="3.3"/><circle cx="1775.9" cy="94.1" r="3.3"/><circle cx="1705.6" cy="178.6" r="3.3"/><circle cx="1822.6" cy="51.6" r="3.3"/><circle cx="1837.1" cy="32.7" r="3.3"/><circle cx="1661.3" cy="209.1" r="3.3"/><circle cx="1797.6" cy="88.2" r="3.3"/><circle cx="1808.9" cy="64.4" r="3.3"/><circle cx="1600.8" cy="279.0" r="3.3"/><circle cx="1607.8" cy="270.0" r="3.3"/><circle cx="1786.4" cy="88.0" r="3.3"/><circle cx="1757.2" cy="120.7" r="3.3"/><circle cx="1758.1" cy="116.2" r="3.3"/><circle cx="1623.7" cy="255.7" r="3.3"/><circle cx="1675.7" cy="198.8" r="3.3"/><circle cx="1793.4" cy="70.4" r="3.3"/><circle cx="1712.4" cy="157.1" r="3.3"/><circle cx="1748.6" cy="121.4" r="3.3"/><circle cx="1843.0" cy="16.9" r="3.3"/><circle cx="1761.2" cy="121.2" r="3.3"/><circle cx="1808.7" cy="61.6" r="3.3"/><circle cx="1808.8" cy="56.4" r="3.3"/><circle cx="1683.6" cy="200.6" r="3.3"/><circle cx="1672.4" cy="198.4" r="3.3"/><circle cx="1799.3" cy="77.3" r="3.3"/><circle cx="1689.6" cy="185.0" r="3.3"/><circle cx="1652.4" cy="220.4" r="3.3"/><circle cx="1707.3" cy="161.5" r="3.3"/><circle cx="1762.2" cy="107.9" r="3.3"/><circle cx="1824.6" cy="51.7" r="3.3"/><circle cx="1645.5" cy="234.9" r="3.3"/><circle cx="1830.5" cy="32.6" r="3.3"/><circle cx="1734.0" cy="133.8" r="3.3"/><circle cx="1691.9" cy="187.1" r="3.3"/><circle cx="1731.1" cy="162.3" r="3.3"/><circle cx="1665.1" cy="216.0" r="3.3"/><circle cx="1778.9" cy="90.2" r="3.3"/><circle cx="1705.1" cy="171.4" r="3.3"/><circle cx="1757.2" cy="117.9" r="3.3"/><circle cx="1684.7" cy="192.4" r="3.3"/><circle cx="1764.1" cy="108.8" r="3.3"/><circle cx="1618.4" cy="260.8" r="3.3"/><circle cx="1808.2" cy="53.4" r="3.3"/><circle cx="1722.9" cy="152.0" r="3.3"/><circle cx="1583.2" cy="297.7" r="3.3"/><circle cx="1835.2" cy="36.3" r="3.3"/><circle cx="1655.4" cy="216.3" r="3.3"/><circle cx="1648.5" cy="231.2" r="3.3"/><circle cx="1734.4" cy="136.5" r="3.3"/><circle cx="1781.6" cy="98.1" r="3.3"/><circle cx="1657.1" cy="221.6" r="3.3"/><circle cx="1689.5" cy="199.2" r="3.3"/><circle cx="1648.4" cy="222.9" r="3.3"/><circle cx="1836.5" cy="30.3" r="3.3"/><circle cx="1774.5" cy="99.1" r="3.3"/><circle cx="1812.7" cy="52.4" r="3.3"/><circle cx="1592.8" cy="292.9" r="3.3"/><circle cx="1704.3" cy="173.0" r="3.3"/><circle cx="1769.5" cy="101.4" r="3.3"/><circle cx="1596.3" cy="281.0" r="3.3"/><circle cx="1758.7" cy="115.7" r="3.3"/><circle cx="1648.8" cy="227.6" r="3.3"/><circle cx="1828.1" cy="43.6" r="3.3"/><circle cx="1724.4" cy="171.3" r="3.3"/><circle cx="1628.6" cy="252.9" r="3.3"/><circle cx="1606.3" cy="271.2" r="3.3"/><circle cx="1780.6" cy="94.3" r="3.3"/><circle cx="1647.4" cy="228.4" r="3.3"/><circle cx="1629.7" cy="249.9" r="3.3"/><circle cx="1827.4" cy="52.6" r="3.3"/><circle cx="1831.5" cy="39.1" r="3.3"/><circle cx="1698.0" cy="174.6" r="3.3"/><circle cx="1807.0" cy="65.0" r="3.3"/><circle cx="1698.1" cy="177.7" r="3.3"/><circle cx="1723.6" cy="157.3" r="3.3"/><circle cx="1717.9" cy="160.6" r="3.3"/><circle cx="1831.1" cy="34.4" r="3.3"/><circle cx="1765.6" cy="100.1" r="3.3"/><circle cx="1642.3" cy="239.5" r="3.3"/><circle cx="1790.5" cy="80.5" r="3.3"/><circle cx="1741.9" cy="129.5" r="3.3"/><circle cx="1750.8" cy="118.7" r="3.3"/><circle cx="1695.5" cy="181.6" r="3.3"/><circle cx="1750.5" cy="129.8" r="3.3"/><circle cx="1690.5" cy="192.6" r="3.3"/><circle cx="1843.7" cy="24.8" r="3.3"/><circle cx="1753.2" cy="114.2" r="3.3"/><circle cx="1737.1" cy="132.8" r="3.3"/><circle cx="1654.2" cy="216.3" r="3.3"/><circle cx="1592.5" cy="291.8" r="3.3"/><circle cx="1669.4" cy="201.1" r="3.3"/><circle cx="1651.7" cy="223.4" r="3.3"/><circle cx="1712.7" cy="169.3" r="3.3"/><circle cx="1751.2" cy="114.6" r="3.3"/><circle cx="1804.2" cy="63.3" r="3.3"/><circle cx="1701.8" cy="174.0" r="3.3"/><circle cx="1817.7" cy="53.3" r="3.3"/><circle cx="1593.4" cy="293.3" r="3.3"/><circle cx="1801.3" cy="69.7" r="3.3"/><circle cx="1827.8" cy="39.9" r="3.3"/><circle cx="1629.2" cy="248.1" r="3.3"/><circle cx="1637.3" cy="245.8" r="3.3"/><circle cx="1819.3" cy="53.3" r="3.3"/><circle cx="1698.8" cy="189.2" r="3.3"/><circle cx="1604.6" cy="267.5" r="3.3"/><circle cx="1791.1" cy="71.7" r="3.3"/><circle cx="1604.3" cy="279.6" r="3.3"/><circle cx="1829.0" cy="47.4" r="3.3"/><circle cx="1710.2" cy="162.1" r="3.3"/><circle cx="1661.8" cy="208.1" r="3.3"/><circle cx="1810.8" cy="62.0" r="3.3"/><circle cx="1686.8" cy="184.6" r="3.3"/><circle cx="1769.6" cy="105.3" r="3.3"/><circle cx="1755.2" cy="116.1" r="3.3"/><circle cx="1713.1" cy="158.8" r="3.3"/><circle cx="1747.6" cy="134.2" r="3.3"/><circle cx="1701.6" cy="174.8" r="3.3"/><circle cx="1626.2" cy="253.0" r="3.3"/><circle cx="1626.1" cy="252.4" r="3.3"/><circle cx="1831.8" cy="40.4" r="3.3"/><circle cx="1667.7" cy="215.1" r="3.3"/><circle cx="1653.6" cy="225.0" r="3.3"/><circle cx="1681.4" cy="187.0" r="3.3"/><circle cx="1588.3" cy="289.7" r="3.3"/><circle cx="1640.4" cy="239.7" r="3.3"/><circle cx="1809.7" cy="66.6" r="3.3"/><circle cx="1655.7" cy="215.6" r="3.3"/><circle cx="1681.2" cy="186.7" r="3.3"/><circle cx="1673.9" cy="200.7" r="3.3"/><circle cx="1704.9" cy="165.9" r="3.3"/><circle cx="1596.8" cy="278.3" r="3.3"/><circle cx="1751.2" cy="126.0" r="3.3"/><circle cx="1686.2" cy="187.8" r="3.3"/><circle cx="1723.0" cy="155.7" r="3.3"/><circle cx="1760.4" cy="112.9" r="3.3"/><circle cx="1635.9" cy="235.7" r="3.3"/><circle cx="1668.0" cy="210.9" r="3.3"/><circle cx="1834.8" cy="30.0" r="3.3"/><circle cx="1654.9" cy="224.3" r="3.3"/><circle cx="1770.4" cy="110.3" r="3.3"/><circle cx="1835.7" cy="27.7" r="3.3"/><circle cx="1685.0" cy="186.7" r="3.3"/><circle cx="1622.4" cy="257.3" r="3.3"/><circle cx="1745.3" cy="130.2" r="3.3"/><circle cx="1758.3" cy="108.0" r="3.3"/><circle cx="1592.1" cy="289.5" r="3.3"/><circle cx="1762.6" cy="108.0" r="3.3"/><circle cx="1671.9" cy="209.4" r="3.3"/><circle cx="1803.1" cy="70.2" r="3.3"/><circle cx="1733.4" cy="136.7" r="3.3"/><circle cx="1767.8" cy="103.4" r="3.3"/><circle cx="1700.6" cy="171.6" r="3.3"/><circle cx="1632.4" cy="252.0" r="3.3"/><circle cx="1715.6" cy="150.1" r="3.3"/><circle cx="1705.7" cy="160.6" r="3.3"/><circle cx="1714.5" cy="161.9" r="3.3"/><circle cx="1747.7" cy="122.0" r="3.3"/><circle cx="1624.6" cy="254.2" r="3.3"/><circle cx="1621.9" cy="254.8" r="3.3"/><circle cx="1709.3" cy="166.1" r="3.3"/><circle cx="1663.0" cy="216.0" r="3.3"/><circle cx="1772.1" cy="101.1" r="3.3"/><circle cx="1631.1" cy="257.0" r="3.3"/><circle cx="1598.1" cy="290.9" r="3.3"/><circle cx="1687.2" cy="190.1" r="3.3"/><circle cx="1682.6" cy="209.4" r="3.3"/><circle cx="1733.8" cy="137.8" r="3.3"/><circle cx="1794.7" cy="77.1" r="3.3"/><circle cx="1623.6" cy="253.6" r="3.3"/><circle cx="1760.2" cy="110.3" r="3.3"/><circle cx="1694.0" cy="185.0" r="3.3"/><circle cx="1655.9" cy="225.9" r="3.3"/><circle cx="1599.4" cy="278.7" r="3.3"/><circle cx="1592.2" cy="284.3" r="3.3"/><circle cx="1741.8" cy="135.8" r="3.3"/><circle cx="1731.3" cy="138.3" r="3.3"/><circle cx="1691.9" cy="180.0" r="3.3"/><circle cx="1736.9" cy="155.0" r="3.3"/><circle cx="1689.9" cy="194.7" r="3.3"/><circle cx="1624.2" cy="263.9" r="3.3"/><circle cx="1757.1" cy="111.6" r="3.3"/><circle cx="1612.4" cy="268.9" r="3.3"/><circle cx="1639.3" cy="238.6" r="3.3"/><circle cx="1793.5" cy="78.6" r="3.3"/><circle cx="1821.4" cy="42.4" r="3.3"/><circle cx="1651.0" cy="212.7" r="3.3"/><circle cx="1786.1" cy="81.5" r="3.3"/><circle cx="1824.0" cy="53.9" r="3.3"/><circle cx="1750.1" cy="121.2" r="3.3"/><circle cx="1616.9" cy="266.5" r="3.3"/><circle cx="1830.4" cy="46.5" r="3.3"/><circle cx="1768.3" cy="100.2" r="3.3"/><circle cx="1668.7" cy="214.6" r="3.3"/><circle cx="1750.7" cy="122.7" r="3.3"/><circle cx="1811.0" cy="67.9" r="3.3"/><circle cx="1700.2" cy="181.0" r="3.3"/><circle cx="1652.3" cy="227.4" r="3.3"/><circle cx="1799.9" cy="76.1" r="3.3"/><circle cx="1773.9" cy="89.9" r="3.3"/><circle cx="1643.2" cy="238.0" r="3.3"/><circle cx="1666.6" cy="209.1" r="3.3"/><circle cx="1836.3" cy="31.6" r="3.3"/><circle cx="1591.5" cy="286.4" r="3.3"/><circle cx="1713.0" cy="158.3" r="3.3"/><circle cx="1630.8" cy="252.2" r="3.3"/><circle cx="1651.5" cy="223.9" r="3.3"/><circle cx="1812.0" cy="50.0" r="3.3"/><circle cx="1670.4" cy="205.0" r="3.3"/><circle cx="1704.4" cy="165.0" r="3.3"/><circle cx="1643.8" cy="231.2" r="3.3"/><circle cx="1711.0" cy="176.4" r="3.3"/><circle cx="1660.5" cy="219.8" r="3.3"/><circle cx="1650.9" cy="221.4" r="3.3"/><circle cx="1689.2" cy="189.6" r="3.3"/><circle cx="1658.7" cy="220.8" r="3.3"/><circle cx="1603.3" cy="284.5" r="3.3"/><circle cx="1731.5" cy="140.9" r="3.3"/><circle cx="1608.1" cy="278.1" r="3.3"/><circle cx="1678.3" cy="204.7" r="3.3"/><circle cx="1617.6" cy="272.8" r="3.3"/><circle cx="1811.3" cy="58.1" r="3.3"/><circle cx="1694.2" cy="178.6" r="3.3"/><circle cx="1682.9" cy="181.2" r="3.3"/><circle cx="1620.8" cy="258.6" r="3.3"/><circle cx="1772.0" cy="101.6" r="3.3"/><circle cx="1653.4" cy="220.5" r="3.3"/><circle cx="1616.1" cy="265.9" r="3.3"/><circle cx="1832.8" cy="34.2" r="3.3"/><circle cx="1746.2" cy="126.1" r="3.3"/><circle cx="1701.9" cy="178.5" r="3.3"/><circle cx="1775.4" cy="103.0" r="3.3"/><circle cx="1700.2" cy="177.7" r="3.3"/><circle cx="1762.8" cy="119.2" r="3.3"/><circle cx="1795.5" cy="68.2" r="3.3"/><circle cx="1636.2" cy="253.9" r="3.3"/><circle cx="1595.0" cy="279.8" r="3.3"/><circle cx="1727.0" cy="152.6" r="3.3"/><circle cx="1667.8" cy="207.5" r="3.3"/><circle cx="1761.1" cy="108.8" r="3.3"/><circle cx="1589.5" cy="310.8" r="3.3"/><circle cx="1598.1" cy="274.9" r="3.3"/><circle cx="1831.7" cy="31.4" r="3.3"/><circle cx="1730.6" cy="148.3" r="3.3"/><circle cx="1702.4" cy="183.8" r="3.3"/><circle cx="1810.6" cy="59.3" r="3.3"/><circle cx="1685.1" cy="198.1" r="3.3"/><circle cx="1591.3" cy="289.9" r="3.3"/><circle cx="1628.2" cy="250.5" r="3.3"/><circle cx="1630.0" cy="243.2" r="3.3"/><circle cx="1762.2" cy="111.1" r="3.3"/><circle cx="1719.8" cy="158.8" r="3.3"/><circle cx="1598.4" cy="281.0" r="3.3"/><circle cx="1672.8" cy="203.5" r="3.3"/><circle cx="1702.7" cy="163.5" r="3.3"/><circle cx="1718.3" cy="158.5" r="3.3"/><circle cx="1720.5" cy="151.3" r="3.3"/><circle cx="1651.3" cy="224.7" r="3.3"/><circle cx="1729.7" cy="151.4" r="3.3"/><circle cx="1747.4" cy="132.7" r="3.3"/><circle cx="1598.0" cy="282.2" r="3.3"/><circle cx="1602.8" cy="272.1" r="3.3"/><circle cx="1615.8" cy="262.5" r="3.3"/><circle cx="1837.6" cy="35.1" r="3.3"/><circle cx="1635.4" cy="236.7" r="3.3"/><circle cx="1691.5" cy="182.5" r="3.3"/><circle cx="1597.3" cy="279.4" r="3.3"/><circle cx="1683.7" cy="193.2" r="3.3"/><circle cx="1787.6" cy="76.7" r="3.3"/><circle cx="1770.0" cy="94.0" r="3.3"/><circle cx="1748.8" cy="126.4" r="3.3"/><circle cx="1681.3" cy="198.6" r="3.3"/><circle cx="1614.1" cy="261.1" r="3.3"/><circle cx="1818.6" cy="40.0" r="3.3"/><circle cx="1595.6" cy="283.6" r="3.3"/><circle cx="1707.1" cy="165.1" r="3.3"/><circle cx="1834.8" cy="39.0" r="3.3"/><circle cx="1694.0" cy="183.5" r="3.3"/><circle cx="1800.2" cy="62.9" r="3.3"/><circle cx="1719.5" cy="153.1" r="3.3"/><circle cx="1654.8" cy="215.0" r="3.3"/><circle cx="1635.1" cy="244.1" r="3.3"/><circle cx="1742.2" cy="129.0" r="3.3"/><circle cx="1639.7" cy="243.7" r="3.3"/><circle cx="1697.9" cy="175.7" r="3.3"/><circle cx="1764.7" cy="104.8" r="3.3"/><circle cx="1809.2" cy="63.1" r="3.3"/><circle cx="1751.3" cy="130.8" r="3.3"/><circle cx="1726.1" cy="139.1" r="3.3"/><circle cx="1736.4" cy="128.6" r="3.3"/><circle cx="1764.4" cy="108.1" r="3.3"/><circle cx="1615.6" cy="267.2" r="3.3"/><circle cx="1614.0" cy="267.1" r="3.3"/><circle cx="1694.8" cy="184.4" r="3.3"/><circle cx="1712.7" cy="159.4" r="3.3"/><circle cx="1646.4" cy="226.6" r="3.3"/><circle cx="1787.6" cy="98.5" r="3.3"/><circle cx="1709.3" cy="169.8" r="3.3"/><circle cx="1782.4" cy="91.7" r="3.3"/><circle cx="1729.8" cy="143.4" r="3.3"/><circle cx="1694.2" cy="184.7" r="3.3"/><circle cx="1781.3" cy="88.7" r="3.3"/><circle cx="1657.8" cy="224.0" r="3.3"/><circle cx="1745.4" cy="123.3" r="3.3"/><circle cx="1719.4" cy="163.9" r="3.3"/><circle cx="1636.8" cy="231.7" r="3.3"/><circle cx="1697.9" cy="181.8" r="3.3"/><circle cx="1731.2" cy="133.6" r="3.3"/><circle cx="1822.1" cy="50.5" r="3.3"/><circle cx="1724.7" cy="146.8" r="3.3"/><circle cx="1594.8" cy="292.4" r="3.3"/><circle cx="1671.6" cy="206.3" r="3.3"/><circle cx="1660.8" cy="215.8" r="3.3"/><circle cx="1686.3" cy="194.4" r="3.3"/><circle cx="1620.7" cy="257.6" r="3.3"/><circle cx="1668.6" cy="217.4" r="3.3"/><circle cx="1645.8" cy="240.4" r="3.3"/><circle cx="1678.1" cy="196.6" r="3.3"/><circle cx="1712.0" cy="175.7" r="3.3"/><circle cx="1599.3" cy="282.4" r="3.3"/><circle cx="1725.8" cy="142.1" r="3.3"/><circle cx="1658.5" cy="213.9" r="3.3"/><circle cx="1740.7" cy="141.7" r="3.3"/><circle cx="1595.3" cy="288.8" r="3.3"/><circle cx="1760.6" cy="109.3" r="3.3"/><circle cx="1816.6" cy="51.9" r="3.3"/><circle cx="1617.4" cy="256.4" r="3.3"/><circle cx="1759.1" cy="107.4" r="3.3"/><circle cx="1806.8" cy="56.5" r="3.3"/><circle cx="1745.1" cy="120.1" r="3.3"/><circle cx="1793.2" cy="80.4" r="3.3"/><circle cx="1641.4" cy="241.0" r="3.3"/><circle cx="1618.1" cy="256.7" r="3.3"/><circle cx="1726.3" cy="143.7" r="3.3"/><circle cx="1698.3" cy="175.8" r="3.3"/><circle cx="1839.5" cy="30.2" r="3.3"/><circle cx="1740.5" cy="135.5" r="3.3"/><circle cx="1810.2" cy="58.0" r="3.3"/><circle cx="1803.4" cy="60.7" r="3.3"/><circle cx="1842.4" cy="27.9" r="3.3"/><circle cx="1646.9" cy="230.5" r="3.3"/><circle cx="1772.1" cy="102.9" r="3.3"/><circle cx="1691.6" cy="183.3" r="3.3"/><circle cx="1680.1" cy="184.6" r="3.3"/><circle cx="1585.6" cy="293.9" r="3.3"/><circle cx="1658.1" cy="219.1" r="3.3"/><circle cx="1592.1" cy="285.9" r="3.3"/><circle cx="1823.4" cy="52.2" r="3.3"/><circle cx="1745.5" cy="128.8" r="3.3"/><circle cx="1791.0" cy="77.6" r="3.3"/><circle cx="1589.1" cy="295.3" r="3.3"/><circle cx="1842.3" cy="22.5" r="3.3"/><circle cx="1831.9" cy="39.0" r="3.3"/><circle cx="1695.8" cy="178.8" r="3.3"/><circle cx="1778.4" cy="92.2" r="3.3"/><circle cx="1675.5" cy="205.3" r="3.3"/><circle cx="1699.4" cy="193.4" r="3.3"/><circle cx="1629.7" cy="251.3" r="3.3"/><circle cx="1841.4" cy="24.0" r="3.3"/><circle cx="1581.1" cy="297.4" r="3.3"/><circle cx="1796.0" cy="69.8" r="3.3"/><circle cx="1651.2" cy="234.0" r="3.3"/><circle cx="1589.8" cy="279.6" r="3.3"/><circle cx="1842.6" cy="31.7" r="3.3"/><circle cx="1659.0" cy="228.5" r="3.3"/><circle cx="1654.7" cy="243.3" r="3.3"/><circle cx="1834.2" cy="39.3" r="3.3"/><circle cx="1618.8" cy="255.9" r="3.3"/><circle cx="1636.0" cy="244.6" r="3.3"/><circle cx="1615.9" cy="263.7" r="3.3"/><circle cx="1687.6" cy="187.9" r="3.3"/><circle cx="1790.9" cy="84.7" r="3.3"/><circle cx="1625.2" cy="251.0" r="3.3"/><circle cx="1632.2" cy="242.2" r="3.3"/><circle cx="1831.6" cy="57.5" r="3.3"/><circle cx="1591.9" cy="291.5" r="3.3"/><circle cx="1703.0" cy="168.0" r="3.3"/><circle cx="1582.3" cy="291.5" r="3.3"/><circle cx="1826.8" cy="38.1" r="3.3"/><circle cx="1784.9" cy="86.9" r="3.3"/><circle cx="1741.9" cy="132.1" r="3.3"/><circle cx="1717.6" cy="151.8" r="3.3"/><circle cx="1588.5" cy="298.2" r="3.3"/><circle cx="1788.6" cy="87.0" r="3.3"/><circle cx="1746.9" cy="132.3" r="3.3"/><circle cx="1708.2" cy="166.8" r="3.3"/><circle cx="1661.5" cy="213.4" r="3.3"/><circle cx="1693.7" cy="186.2" r="3.3"/><circle cx="1641.3" cy="223.1" r="3.3"/><circle cx="1797.4" cy="66.1" r="3.3"/><circle cx="1671.2" cy="209.0" r="3.3"/><circle cx="1668.2" cy="214.4" r="3.3"/><circle cx="1614.6" cy="265.0" r="3.3"/><circle cx="1782.1" cy="80.2" r="3.3"/><circle cx="1721.1" cy="155.5" r="3.3"/><circle cx="1649.0" cy="233.3" r="3.3"/><circle cx="1772.1" cy="101.4" r="3.3"/><circle cx="1819.2" cy="58.4" r="3.3"/><circle cx="1825.1" cy="47.5" r="3.3"/><circle cx="1581.8" cy="300.5" r="3.3"/><circle cx="1677.7" cy="201.3" r="3.3"/><circle cx="1739.2" cy="123.6" r="3.3"/><circle cx="1750.5" cy="121.9" r="3.3"/><circle cx="1641.2" cy="247.3" r="3.3"/><circle cx="1688.5" cy="207.5" r="3.3"/><circle cx="1600.8" cy="271.7" r="3.3"/><circle cx="1627.8" cy="253.4" r="3.3"/><circle cx="1639.1" cy="241.0" r="3.3"/><circle cx="1686.0" cy="195.1" r="3.3"/><circle cx="1668.3" cy="215.4" r="3.3"/><circle cx="1735.4" cy="143.2" r="3.3"/><circle cx="1586.1" cy="294.9" r="3.3"/><circle cx="1674.0" cy="201.2" r="3.3"/><circle cx="1688.8" cy="185.3" r="3.3"/><circle cx="1817.2" cy="56.3" r="3.3"/><circle cx="1666.1" cy="211.3" r="3.3"/><circle cx="1767.4" cy="113.6" r="3.3"/><circle cx="1772.8" cy="97.3" r="3.3"/><circle cx="1728.1" cy="145.5" r="3.3"/><circle cx="1628.8" cy="242.8" r="3.3"/><circle cx="1606.8" cy="270.8" r="3.3"/><circle cx="1605.7" cy="279.8" r="3.3"/><circle cx="1586.2" cy="288.8" r="3.3"/><circle cx="1689.2" cy="181.0" r="3.3"/><circle cx="1590.1" cy="294.8" r="3.3"/><circle cx="1613.2" cy="265.6" r="3.3"/><circle cx="1799.7" cy="72.4" r="3.3"/><circle cx="1745.3" cy="128.3" r="3.3"/><circle cx="1822.2" cy="39.0" r="3.3"/><circle cx="1641.6" cy="244.5" r="3.3"/><circle cx="1818.9" cy="48.7" r="3.3"/><circle cx="1776.8" cy="98.7" r="3.3"/><circle cx="1652.5" cy="223.0" r="3.3"/><circle cx="1841.4" cy="33.6" r="3.3"/><circle cx="1619.7" cy="276.3" r="3.3"/><circle cx="1823.4" cy="40.8" r="3.3"/><circle cx="1640.9" cy="235.8" r="3.3"/><circle cx="1634.7" cy="247.4" r="3.3"/><circle cx="1796.7" cy="72.9" r="3.3"/><circle cx="1717.4" cy="159.5" r="3.3"/><circle cx="1735.2" cy="133.1" r="3.3"/><circle cx="1641.2" cy="234.0" r="3.3"/><circle cx="1725.9" cy="141.2" r="3.3"/><circle cx="1749.5" cy="121.6" r="3.3"/><circle cx="1608.3" cy="271.0" r="3.3"/><circle cx="1822.4" cy="49.3" r="3.3"/><circle cx="1723.8" cy="156.3" r="3.3"/><circle cx="1712.1" cy="158.9" r="3.3"/><circle cx="1726.3" cy="151.2" r="3.3"/><circle cx="1655.1" cy="222.9" r="3.3"/><circle cx="1657.6" cy="217.2" r="3.3"/><circle cx="1678.7" cy="203.1" r="3.3"/><circle cx="1743.4" cy="129.6" r="3.3"/><circle cx="1815.2" cy="62.1" r="3.3"/><circle cx="1697.8" cy="180.7" r="3.3"/><circle cx="1602.4" cy="286.5" r="3.3"/><circle cx="1599.4" cy="285.9" r="3.3"/><circle cx="1780.8" cy="98.3" r="3.3"/><circle cx="1824.0" cy="46.6" r="3.3"/><circle cx="1802.8" cy="76.8" r="3.3"/><circle cx="1754.6" cy="121.5" r="3.3"/><circle cx="1778.4" cy="105.9" r="3.3"/><circle cx="1776.7" cy="97.8" r="3.3"/><circle cx="1617.7" cy="266.8" r="3.3"/><circle cx="1726.9" cy="149.3" r="3.3"/><circle cx="1645.9" cy="239.5" r="3.3"/><circle cx="1829.2" cy="37.8" r="3.3"/><circle cx="1664.5" cy="207.1" r="3.3"/><circle cx="1681.3" cy="191.0" r="3.3"/><circle cx="1691.3" cy="183.4" r="3.3"/><circle cx="1711.1" cy="167.5" r="3.3"/><circle cx="1632.9" cy="242.3" r="3.3"/><circle cx="1697.5" cy="174.7" r="3.3"/><circle cx="1683.2" cy="200.6" r="3.3"/><circle cx="1772.2" cy="90.1" r="3.3"/><circle cx="1655.2" cy="227.4" r="3.3"/><circle cx="1807.6" cy="63.6" r="3.3"/><circle cx="1628.5" cy="259.9" r="3.3"/><circle cx="1655.3" cy="215.8" r="3.3"/><circle cx="1795.4" cy="74.4" r="3.3"/><circle cx="1783.3" cy="84.6" r="3.3"/><circle cx="1781.8" cy="85.7" r="3.3"/><circle cx="1668.9" cy="207.4" r="3.3"/><circle cx="1745.2" cy="127.6" r="3.3"/><circle cx="1826.1" cy="37.4" r="3.3"/><circle cx="1771.1" cy="102.2" r="3.3"/><circle cx="1791.9" cy="68.3" r="3.3"/><circle cx="1635.7" cy="238.5" r="3.3"/><circle cx="1717.8" cy="160.3" r="3.3"/><circle cx="1583.4" cy="288.6" r="3.3"/><circle cx="1827.6" cy="36.1" r="3.3"/><circle cx="1745.1" cy="114.4" r="3.3"/><circle cx="1616.0" cy="272.9" r="3.3"/><circle cx="1743.0" cy="128.8" r="3.3"/><circle cx="1794.7" cy="83.1" r="3.3"/><circle cx="1603.5" cy="265.4" r="3.3"/><circle cx="1743.6" cy="136.9" r="3.3"/><circle cx="1602.8" cy="276.1" r="3.3"/><circle cx="1667.8" cy="209.6" r="3.3"/><circle cx="1736.2" cy="155.6" r="3.3"/><circle cx="1598.2" cy="281.5" r="3.3"/><circle cx="1835.3" cy="38.4" r="3.3"/><circle cx="1651.6" cy="228.3" r="3.3"/><circle cx="1612.5" cy="268.7" r="3.3"/><circle cx="1787.1" cy="78.0" r="3.3"/><circle cx="1790.0" cy="77.5" r="3.3"/><circle cx="1739.7" cy="136.3" r="3.3"/><circle cx="1689.6" cy="182.8" r="3.3"/><circle cx="1828.6" cy="42.1" r="3.3"/><circle cx="1608.9" cy="272.1" r="3.3"/><circle cx="1651.3" cy="240.0" r="3.3"/><circle cx="1656.6" cy="225.1" r="3.3"/><circle cx="1670.9" cy="213.7" r="3.3"/><circle cx="1791.9" cy="86.0" r="3.3"/><circle cx="1584.8" cy="291.3" r="3.3"/><circle cx="1767.6" cy="106.0" r="3.3"/><circle cx="1712.6" cy="165.0" r="3.3"/><circle cx="1774.4" cy="106.7" r="3.3"/><circle cx="1833.3" cy="40.3" r="3.3"/><circle cx="1719.0" cy="150.8" r="3.3"/><circle cx="1819.2" cy="48.9" r="3.3"/><circle cx="1823.3" cy="50.5" r="3.3"/><circle cx="1689.8" cy="186.3" r="3.3"/><circle cx="1797.9" cy="66.3" r="3.3"/><circle cx="1797.8" cy="79.4" r="3.3"/><circle cx="1688.9" cy="186.1" r="3.3"/><circle cx="1718.8" cy="151.1" r="3.3"/><circle cx="1581.1" cy="292.9" r="3.3"/><circle cx="1602.8" cy="278.6" r="3.3"/><circle cx="1597.2" cy="282.9" r="3.3"/><circle cx="1594.2" cy="300.3" r="3.3"/><circle cx="1786.4" cy="76.7" r="3.3"/><circle cx="1659.6" cy="225.0" r="3.3"/><circle cx="1582.5" cy="295.2" r="3.3"/><circle cx="1773.4" cy="86.7" r="3.3"/><circle cx="1776.2" cy="89.8" r="3.3"/><circle cx="1798.2" cy="74.9" r="3.3"/><circle cx="1660.0" cy="220.9" r="3.3"/><circle cx="1763.5" cy="105.8" r="3.3"/><circle cx="1645.1" cy="234.0" r="3.3"/><circle cx="1627.0" cy="252.1" r="3.3"/><circle cx="1632.8" cy="251.7" r="3.3"/><circle cx="1658.2" cy="226.8" r="3.3"/><circle cx="1660.7" cy="220.0" r="3.3"/><circle cx="1826.8" cy="45.8" r="3.3"/><circle cx="1602.7" cy="273.6" r="3.3"/><circle cx="1724.6" cy="151.3" r="3.3"/><circle cx="1807.0" cy="66.5" r="3.3"/><circle cx="1637.4" cy="241.6" r="3.3"/><circle cx="1674.7" cy="203.6" r="3.3"/><circle cx="1835.1" cy="34.4" r="3.3"/><circle cx="1780.5" cy="88.8" r="3.3"/><circle cx="1722.0" cy="150.8" r="3.3"/><circle cx="1625.8" cy="245.0" r="3.3"/><circle cx="1599.1" cy="281.0" r="3.3"/><circle cx="1628.9" cy="264.6" r="3.3"/><circle cx="1700.9" cy="165.3" r="3.3"/><circle cx="1583.7" cy="307.3" r="3.3"/><circle cx="1717.2" cy="158.7" r="3.3"/><circle cx="1699.1" cy="177.2" r="3.3"/><circle cx="1735.9" cy="138.0" r="3.3"/><circle cx="1690.6" cy="182.0" r="3.3"/><circle cx="1832.4" cy="30.7" r="3.3"/><circle cx="1644.0" cy="233.9" r="3.3"/><circle cx="1613.5" cy="274.7" r="3.3"/><circle cx="1594.6" cy="288.4" r="3.3"/><circle cx="1615.1" cy="269.7" r="3.3"/><circle cx="1637.3" cy="238.8" r="3.3"/><circle cx="1631.8" cy="250.1" r="3.3"/><circle cx="1604.4" cy="279.1" r="3.3"/><circle cx="1813.2" cy="58.3" r="3.3"/><circle cx="1593.2" cy="291.7" r="3.3"/><circle cx="1631.0" cy="249.4" r="3.3"/><circle cx="1786.3" cy="85.0" r="3.3"/><circle cx="1837.4" cy="27.7" r="3.3"/><circle cx="1687.5" cy="193.8" r="3.3"/><circle cx="1648.3" cy="228.3" r="3.3"/><circle cx="1757.1" cy="109.8" r="3.3"/><circle cx="1730.0" cy="150.3" r="3.3"/><circle cx="1662.0" cy="214.5" r="3.3"/><circle cx="1603.9" cy="279.5" r="3.3"/><circle cx="1750.2" cy="124.8" r="3.3"/><circle cx="1611.4" cy="265.0" r="3.3"/><circle cx="1585.8" cy="309.5" r="3.3"/><circle cx="1800.0" cy="67.4" r="3.3"/><circle cx="1705.1" cy="173.1" r="3.3"/><circle cx="1781.5" cy="89.2" r="3.3"/><circle cx="1733.7" cy="141.8" r="3.3"/><circle cx="1719.0" cy="154.6" r="3.3"/><circle cx="1761.6" cy="104.5" r="3.3"/><circle cx="1688.6" cy="182.7" r="3.3"/><circle cx="1748.7" cy="123.9" r="3.3"/><circle cx="1820.1" cy="48.3" r="3.3"/><circle cx="1733.3" cy="135.6" r="3.3"/><circle cx="1658.9" cy="216.7" r="3.3"/><circle cx="1837.9" cy="32.4" r="3.3"/><circle cx="1803.1" cy="65.9" r="3.3"/><circle cx="1837.2" cy="30.0" r="3.3"/><circle cx="1663.2" cy="208.3" r="3.3"/><circle cx="1789.4" cy="80.3" r="3.3"/><circle cx="1594.3" cy="285.3" r="3.3"/><circle cx="1728.8" cy="148.1" r="3.3"/><circle cx="1837.9" cy="33.6" r="3.3"/><circle cx="1737.4" cy="129.5" r="3.3"/><circle cx="1817.5" cy="55.2" r="3.3"/><circle cx="1768.5" cy="100.5" r="3.3"/><circle cx="1626.8" cy="253.9" r="3.3"/><circle cx="1644.6" cy="236.2" r="3.3"/><circle cx="1752.9" cy="109.9" r="3.3"/><circle cx="1637.2" cy="254.3" r="3.3"/><circle cx="1764.8" cy="108.0" r="3.3"/><circle cx="1841.8" cy="28.9" r="3.3"/><circle cx="1694.6" cy="184.4" r="3.3"/><circle cx="1673.7" cy="199.0" r="3.3"/><circle cx="1803.4" cy="66.6" r="3.3"/><circle cx="1667.0" cy="212.4" r="3.3"/><circle cx="1678.4" cy="203.8" r="3.3"/><circle cx="1827.9" cy="41.7" r="3.3"/><circle cx="1805.2" cy="84.1" r="3.3"/><circle cx="1785.3" cy="81.5" r="3.3"/><circle cx="1791.1" cy="77.4" r="3.3"/><circle cx="1706.0" cy="171.1" r="3.3"/><circle cx="1656.5" cy="224.1" r="3.3"/><circle cx="1701.1" cy="175.0" r="3.3"/><circle cx="1687.0" cy="192.0" r="3.3"/><circle cx="1717.4" cy="154.9" r="3.3"/><circle cx="1777.1" cy="88.4" r="3.3"/><circle cx="1694.9" cy="191.6" r="3.3"/><circle cx="1606.4" cy="278.2" r="3.3"/><circle cx="1777.2" cy="88.8" r="3.3"/><circle cx="1702.0" cy="166.2" r="3.3"/><circle cx="1597.8" cy="293.1" r="3.3"/><circle cx="1763.1" cy="109.7" r="3.3"/><circle cx="1642.0" cy="236.5" r="3.3"/><circle cx="1803.3" cy="71.0" r="3.3"/><circle cx="1628.3" cy="251.7" r="3.3"/><circle cx="1790.1" cy="77.0" r="3.3"/><circle cx="1672.3" cy="208.1" r="3.3"/><circle cx="1647.7" cy="229.9" r="3.3"/><circle cx="1699.5" cy="174.1" r="3.3"/><circle cx="1784.2" cy="84.9" r="3.3"/><circle cx="1767.4" cy="101.1" r="3.3"/><circle cx="1822.8" cy="44.0" r="3.3"/><circle cx="1674.0" cy="199.9" r="3.3"/><circle cx="1764.5" cy="94.6" r="3.3"/><circle cx="1779.6" cy="90.9" r="3.3"/><circle cx="1623.9" cy="252.3" r="3.3"/><circle cx="1694.1" cy="192.0" r="3.3"/><circle cx="1805.8" cy="62.1" r="3.3"/><circle cx="1753.4" cy="132.3" r="3.3"/><circle cx="1758.4" cy="119.9" r="3.3"/><circle cx="1741.0" cy="133.0" r="3.3"/><circle cx="1587.7" cy="297.4" r="3.3"/><circle cx="1795.1" cy="87.1" r="3.3"/><circle cx="1638.9" cy="242.1" r="3.3"/><circle cx="1795.3" cy="77.4" r="3.3"/><circle cx="1686.8" cy="193.0" r="3.3"/><circle cx="1598.5" cy="281.7" r="3.3"/><circle cx="1633.5" cy="246.1" r="3.3"/><circle cx="1626.6" cy="247.5" r="3.3"/><circle cx="1729.6" cy="155.4" r="3.3"/><circle cx="1737.2" cy="138.9" r="3.3"/><circle cx="1711.7" cy="163.4" r="3.3"/><circle cx="1727.1" cy="149.6" r="3.3"/><circle cx="1674.2" cy="204.6" r="3.3"/><circle cx="1719.2" cy="158.4" r="3.3"/><circle cx="1637.3" cy="254.9" r="3.3"/><circle cx="1756.9" cy="136.2" r="3.3"/><circle cx="1647.9" cy="224.5" r="3.3"/><circle cx="1721.6" cy="162.7" r="3.3"/><circle cx="1586.0" cy="293.1" r="3.3"/><circle cx="1622.0" cy="258.5" r="3.3"/><circle cx="1799.3" cy="84.2" r="3.3"/><circle cx="1587.4" cy="293.9" r="3.3"/><circle cx="1715.5" cy="165.2" r="3.3"/><circle cx="1628.5" cy="257.2" r="3.3"/><circle cx="1646.9" cy="231.2" r="3.3"/><circle cx="1750.2" cy="119.5" r="3.3"/><circle cx="1784.6" cy="87.9" r="3.3"/><circle cx="1781.7" cy="92.3" r="3.3"/><circle cx="1679.9" cy="191.1" r="3.3"/><circle cx="1711.5" cy="163.4" r="3.3"/><circle cx="1616.0" cy="260.0" r="3.3"/><circle cx="1734.6" cy="139.5" r="3.3"/><circle cx="1588.7" cy="304.5" r="3.3"/><circle cx="1777.9" cy="103.7" r="3.3"/><circle cx="1826.5" cy="39.6" r="3.3"/><circle cx="1725.2" cy="151.3" r="3.3"/><circle cx="1813.2" cy="45.0" r="3.3"/><circle cx="1602.1" cy="270.3" r="3.3"/><circle cx="1597.3" cy="287.8" r="3.3"/><circle cx="1709.5" cy="168.7" r="3.3"/><circle cx="1650.3" cy="227.5" r="3.3"/><circle cx="1831.2" cy="43.3" r="3.3"/><circle cx="1624.2" cy="255.1" r="3.3"/><circle cx="1731.3" cy="160.4" r="3.3"/><circle cx="1769.7" cy="105.6" r="3.3"/><circle cx="1780.6" cy="94.4" r="3.3"/><circle cx="1733.7" cy="140.8" r="3.3"/><circle cx="1692.6" cy="187.1" r="3.3"/><circle cx="1678.0" cy="193.5" r="3.3"/><circle cx="1605.1" cy="268.7" r="3.3"/><circle cx="1645.9" cy="231.9" r="3.3"/><circle cx="1655.4" cy="232.5" r="3.3"/><circle cx="1740.5" cy="123.4" r="3.3"/><circle cx="1820.5" cy="38.0" r="3.3"/><circle cx="1743.6" cy="126.4" r="3.3"/><circle cx="1687.3" cy="186.6" r="3.3"/><circle cx="1805.8" cy="56.6" r="3.3"/><circle cx="1632.2" cy="255.6" r="3.3"/><circle cx="1804.3" cy="73.8" r="3.3"/><circle cx="1799.4" cy="78.6" r="3.3"/><circle cx="1820.5" cy="47.7" r="3.3"/><circle cx="1842.7" cy="32.2" r="3.3"/><circle cx="1816.0" cy="54.0" r="3.3"/><circle cx="1690.0" cy="182.9" r="3.3"/><circle cx="1771.1" cy="96.0" r="3.3"/><circle cx="1759.0" cy="105.7" r="3.3"/><circle cx="1645.8" cy="223.4" r="3.3"/><circle cx="1743.8" cy="139.1" r="3.3"/><circle cx="1657.4" cy="224.0" r="3.3"/><circle cx="1794.9" cy="77.3" r="3.3"/><circle cx="1830.4" cy="39.4" r="3.3"/><circle cx="1631.9" cy="240.7" r="3.3"/><circle cx="1671.3" cy="201.2" r="3.3"/><circle cx="1749.8" cy="119.3" r="3.3"/><circle cx="1596.0" cy="285.3" r="3.3"/><circle cx="1593.5" cy="283.7" r="3.3"/><circle cx="1679.9" cy="196.1" r="3.3"/><circle cx="1769.5" cy="111.6" r="3.3"/><circle cx="1653.3" cy="225.6" r="3.3"/><circle cx="1645.4" cy="232.4" r="3.3"/><circle cx="1827.2" cy="40.6" r="3.3"/><circle cx="1591.8" cy="289.8" r="3.3"/><circle cx="1663.6" cy="210.1" r="3.3"/><circle cx="1670.9" cy="204.3" r="3.3"/><circle cx="1803.9" cy="59.0" r="3.3"/><circle cx="1606.7" cy="270.2" r="3.3"/><circle cx="1771.0" cy="96.9" r="3.3"/><circle cx="1700.3" cy="184.2" r="3.3"/><circle cx="1699.0" cy="180.4" r="3.3"/><circle cx="1725.9" cy="145.5" r="3.3"/><circle cx="1692.5" cy="189.9" r="3.3"/><circle cx="1607.4" cy="285.7" r="3.3"/><circle cx="1822.4" cy="54.7" r="3.3"/><circle cx="1618.5" cy="256.6" r="3.3"/><circle cx="1723.9" cy="147.7" r="3.3"/><circle cx="1752.1" cy="114.6" r="3.3"/><circle cx="1663.0" cy="212.5" r="3.3"/><circle cx="1748.8" cy="121.2" r="3.3"/><circle cx="1586.8" cy="293.4" r="3.3"/><circle cx="1828.7" cy="56.4" r="3.3"/><circle cx="1733.2" cy="137.0" r="3.3"/><circle cx="1601.6" cy="284.8" r="3.3"/><circle cx="1682.0" cy="194.2" r="3.3"/><circle cx="1638.4" cy="245.0" r="3.3"/><circle cx="1705.6" cy="167.4" r="3.3"/><circle cx="1603.3" cy="280.9" r="3.3"/><circle cx="1651.3" cy="221.5" r="3.3"/><circle cx="1598.0" cy="284.5" r="3.3"/><circle cx="1750.0" cy="121.7" r="3.3"/><circle cx="1812.3" cy="57.6" r="3.3"/><circle cx="1789.1" cy="77.0" r="3.3"/><circle cx="1822.3" cy="44.2" r="3.3"/><circle cx="1756.8" cy="120.7" r="3.3"/><circle cx="1703.6" cy="167.9" r="3.3"/><circle cx="1608.6" cy="269.5" r="3.3"/><circle cx="1617.7" cy="262.4" r="3.3"/><circle cx="1660.4" cy="211.3" r="3.3"/><circle cx="1630.9" cy="246.2" r="3.3"/><circle cx="1709.2" cy="170.3" r="3.3"/><circle cx="1664.3" cy="210.2" r="3.3"/><circle cx="1790.2" cy="76.2" r="3.3"/><circle cx="1669.5" cy="209.1" r="3.3"/><circle cx="1624.3" cy="260.5" r="3.3"/><circle cx="1795.2" cy="69.2" r="3.3"/><circle cx="1634.6" cy="256.1" r="3.3"/><circle cx="1670.2" cy="208.3" r="3.3"/><circle cx="1672.0" cy="203.5" r="3.3"/><circle cx="1769.0" cy="104.2" r="3.3"/><circle cx="1696.9" cy="176.7" r="3.3"/><circle cx="1691.5" cy="181.1" r="3.3"/><circle cx="1623.7" cy="255.1" r="3.3"/><circle cx="1750.6" cy="130.5" r="3.3"/><circle cx="1841.2" cy="32.2" r="3.3"/><circle cx="1679.6" cy="213.3" r="3.3"/><circle cx="1795.9" cy="77.0" r="3.3"/><circle cx="1843.8" cy="35.3" r="3.3"/><circle cx="1677.2" cy="204.5" r="3.3"/><circle cx="1677.7" cy="202.0" r="3.3"/><circle cx="1794.6" cy="72.3" r="3.3"/><circle cx="1618.4" cy="271.1" r="3.3"/><circle cx="1755.6" cy="125.6" r="3.3"/><circle cx="1613.2" cy="276.4" r="3.3"/><circle cx="1814.1" cy="58.3" r="3.3"/><circle cx="1798.0" cy="62.5" r="3.3"/><circle cx="1805.1" cy="62.2" r="3.3"/><circle cx="1760.2" cy="111.6" r="3.3"/><circle cx="1801.9" cy="79.8" r="3.3"/><circle cx="1718.4" cy="159.8" r="3.3"/><circle cx="1682.0" cy="196.2" r="3.3"/><circle cx="1608.3" cy="283.8" r="3.3"/><circle cx="1716.6" cy="162.9" r="3.3"/><circle cx="1606.3" cy="271.4" r="3.3"/><circle cx="1811.2" cy="55.0" r="3.3"/><circle cx="1699.4" cy="162.6" r="3.3"/><circle cx="1742.9" cy="132.8" r="3.3"/><circle cx="1615.9" cy="261.6" r="3.3"/><circle cx="1688.3" cy="204.3" r="3.3"/><circle cx="1819.6" cy="48.3" r="3.3"/><circle cx="1738.4" cy="136.9" r="3.3"/><circle cx="1634.4" cy="238.1" r="3.3"/><circle cx="1683.5" cy="186.6" r="3.3"/><circle cx="1665.4" cy="223.8" r="3.3"/><circle cx="1701.5" cy="169.3" r="3.3"/><circle cx="1705.8" cy="168.5" r="3.3"/><circle cx="1587.5" cy="304.9" r="3.3"/><circle cx="1770.1" cy="97.5" r="3.3"/><circle cx="1666.1" cy="202.6" r="3.3"/><circle cx="1738.3" cy="141.6" r="3.3"/><circle cx="1687.2" cy="196.1" r="3.3"/><circle cx="1749.3" cy="125.7" r="3.3"/><circle cx="1590.6" cy="306.3" r="3.3"/><circle cx="1629.8" cy="248.5" r="3.3"/><circle cx="1623.0" cy="254.7" r="3.3"/><circle cx="1770.9" cy="107.5" r="3.3"/><circle cx="1742.4" cy="125.6" r="3.3"/><circle cx="1739.0" cy="129.6" r="3.3"/><circle cx="1636.1" cy="250.4" r="3.3"/><circle cx="1699.3" cy="178.5" r="3.3"/><circle cx="1681.9" cy="193.6" r="3.3"/><circle cx="1695.3" cy="176.4" r="3.3"/><circle cx="1764.1" cy="106.7" r="3.3"/><circle cx="1645.5" cy="237.1" r="3.3"/><circle cx="1839.8" cy="17.5" r="3.3"/><circle cx="1692.0" cy="191.2" r="3.3"/><circle cx="1724.9" cy="156.8" r="3.3"/><circle cx="1779.2" cy="99.5" r="3.3"/><circle cx="1780.6" cy="79.8" r="3.3"/><circle cx="1790.4" cy="77.8" r="3.3"/><circle cx="1793.6" cy="73.4" r="3.3"/><circle cx="1791.6" cy="81.9" r="3.3"/><circle cx="1694.0" cy="191.7" r="3.3"/><circle cx="1669.8" cy="210.1" r="3.3"/><circle cx="1602.8" cy="273.5" r="3.3"/><circle cx="1736.3" cy="136.9" r="3.3"/><circle cx="1789.6" cy="67.2" r="3.3"/><circle cx="1766.6" cy="106.3" r="3.3"/><circle cx="1787.3" cy="75.4" r="3.3"/><circle cx="1738.4" cy="132.9" r="3.3"/><circle cx="1784.1" cy="87.6" r="3.3"/><circle cx="1833.1" cy="35.5" r="3.3"/><circle cx="1796.9" cy="83.2" r="3.3"/><circle cx="1694.2" cy="194.0" r="3.3"/><circle cx="1684.4" cy="193.2" r="3.3"/><circle cx="1602.1" cy="270.7" r="3.3"/><circle cx="1628.7" cy="255.4" r="3.3"/><circle cx="1818.6" cy="52.2" r="3.3"/><circle cx="1654.0" cy="217.9" r="3.3"/><circle cx="1784.6" cy="76.7" r="3.3"/><circle cx="1634.7" cy="255.1" r="3.3"/><circle cx="1610.9" cy="264.3" r="3.3"/><circle cx="1778.4" cy="90.4" r="3.3"/><circle cx="1686.2" cy="186.9" r="3.3"/><circle cx="1637.1" cy="255.8" r="3.3"/><circle cx="1773.3" cy="103.8" r="3.3"/><circle cx="1614.5" cy="261.4" r="3.3"/><circle cx="1757.4" cy="114.0" r="3.3"/><circle cx="1633.8" cy="250.1" r="3.3"/><circle cx="1593.7" cy="290.2" r="3.3"/><circle cx="1675.1" cy="203.2" r="3.3"/><circle cx="1835.2" cy="29.9" r="3.3"/><circle cx="1798.1" cy="85.2" r="3.3"/><circle cx="1666.1" cy="212.0" r="3.3"/><circle cx="1646.2" cy="227.5" r="3.3"/><circle cx="1827.9" cy="40.3" r="3.3"/><circle cx="1587.2" cy="294.7" r="3.3"/><circle cx="1708.1" cy="160.1" r="3.3"/><circle cx="1696.2" cy="173.5" r="3.3"/><circle cx="1754.3" cy="131.2" r="3.3"/><circle cx="1805.8" cy="67.9" r="3.3"/><circle cx="1616.5" cy="253.3" r="3.3"/><circle cx="1615.8" cy="274.0" r="3.3"/><circle cx="1755.2" cy="138.9" r="3.3"/><circle cx="1780.9" cy="79.0" r="3.3"/><circle cx="1721.4" cy="153.1" r="3.3"/><circle cx="1656.0" cy="226.8" r="3.3"/><circle cx="1817.8" cy="53.8" r="3.3"/><circle cx="1798.6" cy="69.1" r="3.3"/><circle cx="1837.8" cy="25.5" r="3.3"/><circle cx="1675.3" cy="200.5" r="3.3"/><circle cx="1777.6" cy="85.2" r="3.3"/><circle cx="1793.4" cy="75.6" r="3.3"/><circle cx="1746.9" cy="125.3" r="3.3"/><circle cx="1629.9" cy="240.1" r="3.3"/><circle cx="1794.1" cy="81.7" r="3.3"/><circle cx="1836.5" cy="27.3" r="3.3"/><circle cx="1756.4" cy="118.2" r="3.3"/><circle cx="1726.9" cy="144.8" r="3.3"/><circle cx="1841.9" cy="18.5" r="3.3"/><circle cx="1651.9" cy="228.4" r="3.3"/><circle cx="1719.5" cy="150.6" r="3.3"/><circle cx="1662.4" cy="215.5" r="3.3"/><circle cx="1780.0" cy="92.5" r="3.3"/><circle cx="1745.5" cy="128.0" r="3.3"/><circle cx="1792.9" cy="79.8" r="3.3"/><circle cx="1583.3" cy="292.5" r="3.3"/><circle cx="1784.0" cy="97.8" r="3.3"/><circle cx="1662.8" cy="212.5" r="3.3"/><circle cx="1619.9" cy="261.0" r="3.3"/><circle cx="1794.4" cy="86.2" r="3.3"/><circle cx="1812.4" cy="49.9" r="3.3"/><circle cx="1803.7" cy="71.5" r="3.3"/><circle cx="1763.1" cy="112.1" r="3.3"/><circle cx="1643.3" cy="238.7" r="3.3"/><circle cx="1794.5" cy="72.2" r="3.3"/><circle cx="1669.4" cy="207.6" r="3.3"/><circle cx="1753.6" cy="119.4" r="3.3"/><circle cx="1729.9" cy="133.3" r="3.3"/><circle cx="1722.7" cy="145.1" r="3.3"/><circle cx="1638.7" cy="244.7" r="3.3"/><circle cx="1707.3" cy="160.9" r="3.3"/><circle cx="1792.4" cy="88.3" r="3.3"/><circle cx="1764.2" cy="118.9" r="3.3"/><circle cx="1655.9" cy="221.4" r="3.3"/><circle cx="1688.8" cy="186.9" r="3.3"/><circle cx="1586.9" cy="302.4" r="3.3"/><circle cx="1625.1" cy="257.6" r="3.3"/><circle cx="1643.9" cy="230.6" r="3.3"/><circle cx="1591.5" cy="286.4" r="3.3"/><circle cx="1728.6" cy="151.1" r="3.3"/><circle cx="1582.9" cy="286.6" r="3.3"/><circle cx="1676.2" cy="203.5" r="3.3"/><circle cx="1695.3" cy="198.1" r="3.3"/><circle cx="1589.2" cy="291.9" r="3.3"/><circle cx="1682.1" cy="199.1" r="3.3"/><circle cx="1738.9" cy="131.1" r="3.3"/><circle cx="1628.5" cy="256.2" r="3.3"/><circle cx="1729.8" cy="138.2" r="3.3"/><circle cx="1630.6" cy="247.3" r="3.3"/><circle cx="1593.5" cy="286.7" r="3.3"/><circle cx="1811.1" cy="69.6" r="3.3"/><circle cx="1682.5" cy="201.1" r="3.3"/><circle cx="1741.4" cy="134.1" r="3.3"/><circle cx="1830.1" cy="41.6" r="3.3"/><circle cx="1779.6" cy="83.1" r="3.3"/><circle cx="1824.6" cy="47.2" r="3.3"/><circle cx="1767.9" cy="109.5" r="3.3"/><circle cx="1686.1" cy="192.8" r="3.3"/><circle cx="1604.0" cy="269.4" r="3.3"/><circle cx="1739.9" cy="124.3" r="3.3"/><circle cx="1705.8" cy="163.7" r="3.3"/><circle cx="1678.3" cy="197.0" r="3.3"/><circle cx="1755.3" cy="115.4" r="3.3"/><circle cx="1788.0" cy="85.0" r="3.3"/><circle cx="1628.3" cy="248.2" r="3.3"/><circle cx="1722.9" cy="150.9" r="3.3"/><circle cx="1630.6" cy="245.7" r="3.3"/><circle cx="1822.5" cy="54.0" r="3.3"/><circle cx="1790.2" cy="87.0" r="3.3"/><circle cx="1713.5" cy="162.3" r="3.3"/><circle cx="1746.6" cy="126.8" r="3.3"/><circle cx="1599.3" cy="283.2" r="3.3"/><circle cx="1768.2" cy="98.9" r="3.3"/><circle cx="1799.4" cy="70.0" r="3.3"/><circle cx="1639.4" cy="241.3" r="3.3"/><circle cx="1674.2" cy="212.4" r="3.3"/><circle cx="1610.6" cy="270.2" r="3.3"/><circle cx="1733.5" cy="137.1" r="3.3"/><circle cx="1599.0" cy="285.1" r="3.3"/><circle cx="1809.9" cy="56.6" r="3.3"/><circle cx="1793.7" cy="73.6" r="3.3"/><circle cx="1810.1" cy="66.0" r="3.3"/><circle cx="1672.4" cy="209.1" r="3.3"/><circle cx="1655.1" cy="228.7" r="3.3"/><circle cx="1693.0" cy="186.1" r="3.3"/><circle cx="1699.5" cy="184.1" r="3.3"/><circle cx="1724.4" cy="163.5" r="3.3"/><circle cx="1784.3" cy="91.8" r="3.3"/><circle cx="1751.7" cy="129.6" r="3.3"/><circle cx="1731.1" cy="152.0" r="3.3"/><circle cx="1688.9" cy="179.1" r="3.3"/><circle cx="1674.7" cy="203.4" r="3.3"/><circle cx="1596.8" cy="279.5" r="3.3"/><circle cx="1760.6" cy="127.3" r="3.3"/><circle cx="1670.8" cy="212.3" r="3.3"/><circle cx="1708.0" cy="166.9" r="3.3"/><circle cx="1720.2" cy="148.2" r="3.3"/><circle cx="1674.0" cy="203.1" r="3.3"/><circle cx="1661.9" cy="215.0" r="3.3"/><circle cx="1618.4" cy="261.4" r="3.3"/><circle cx="1663.2" cy="205.7" r="3.3"/><circle cx="1603.5" cy="270.3" r="3.3"/><circle cx="1771.6" cy="99.0" r="3.3"/><circle cx="1583.9" cy="290.9" r="3.3"/><circle cx="1709.3" cy="180.9" r="3.3"/><circle cx="1748.1" cy="119.9" r="3.3"/><circle cx="1739.9" cy="131.4" r="3.3"/><circle cx="1720.0" cy="156.3" r="3.3"/><circle cx="1807.6" cy="53.9" r="3.3"/><circle cx="1684.3" cy="210.1" r="3.3"/><circle cx="1747.6" cy="134.9" r="3.3"/><circle cx="1777.1" cy="99.3" r="3.3"/><circle cx="1768.1" cy="105.2" r="3.3"/><circle cx="1741.6" cy="125.0" r="3.3"/><circle cx="1792.2" cy="73.5" r="3.3"/><circle cx="1825.9" cy="46.1" r="3.3"/><circle cx="1832.7" cy="30.4" r="3.3"/><circle cx="1729.4" cy="145.3" r="3.3"/><circle cx="1676.2" cy="196.1" r="3.3"/><circle cx="1655.8" cy="216.5" r="3.3"/><circle cx="1813.1" cy="53.9" r="3.3"/><circle cx="1714.5" cy="156.9" r="3.3"/><circle cx="1635.7" cy="240.9" r="3.3"/><circle cx="1693.4" cy="202.9" r="3.3"/><circle cx="1666.7" cy="207.0" r="3.3"/><circle cx="1674.6" cy="205.0" r="3.3"/><circle cx="1675.4" cy="33.4" r="3.3"/><circle cx="1786.8" cy="32.2" r="3.3"/><circle cx="1747.2" cy="53.2" r="3.3"/><circle cx="1656.8" cy="133.7" r="3.3"/><circle cx="1629.1" cy="149.3" r="3.3"/><circle cx="1687.3" cy="148.6" r="3.3"/><circle cx="1672.9" cy="172.6" r="3.3"/><circle cx="1824.0" cy="90.4" r="3.3"/><circle cx="1833.9" cy="61.9" r="3.3"/><circle cx="1830.1" cy="66.8" r="3.3"/><circle cx="1816.5" cy="81.7" r="3.3"/><circle cx="1799.2" cy="108.9" r="3.3"/><circle cx="1816.5" cy="110.7" r="3.3"/><circle cx="1822.7" cy="94.8" r="3.3"/><circle cx="1822.7" cy="140.6" r="3.3"/><circle cx="1822.7" cy="183.7" r="3.3"/><circle cx="1767.0" cy="134.9" r="3.3"/><circle cx="1778.1" cy="132.5" r="3.3"/><circle cx="1791.8" cy="128.7" r="3.3"/><circle cx="1796.7" cy="131.2" r="3.3"/><circle cx="1774.4" cy="151.0" r="3.3"/><circle cx="1778.1" cy="158.5" r="3.3"/><circle cx="1749.7" cy="159.7" r="3.3"/><circle cx="1755.9" cy="175.8" r="3.3"/><circle cx="1758.3" cy="196.8" r="3.3"/><circle cx="1722.4" cy="180.0" r="3.3"/><circle cx="1728.6" cy="186.9" r="3.3"/><circle cx="1732.3" cy="167.1" r="3.3"/><circle cx="1738.5" cy="167.1" r="3.3"/><circle cx="1705.1" cy="196.8" r="3.3"/><circle cx="1717.5" cy="196.8" r="3.3"/><circle cx="1715.0" cy="201.8" r="3.3"/><circle cx="1712.5" cy="210.0" r="3.3"/><circle cx="1698.9" cy="211.7" r="3.3"/><circle cx="1694.0" cy="216.6" r="3.3"/><circle cx="1689.0" cy="225.3" r="3.3"/><circle cx="1690.3" cy="235.2" r="3.3"/><circle cx="1677.9" cy="241.4" r="3.3"/><circle cx="1682.8" cy="243.9" r="3.3"/><circle cx="1672.9" cy="243.9" r="3.3"/><circle cx="1696.4" cy="243.9" r="3.3"/><circle cx="1675.4" cy="280.5" r="3.3"/><circle cx="1749.7" cy="238.4" r="3.3"/><circle cx="1795.5" cy="297.8" r="3.3"/><circle cx="1633.3" cy="220.4" r="3.3"/><circle cx="1609.8" cy="246.3" r="3.3"/><circle cx="1612.3" cy="292.2" r="3.3"/><circle cx="1571.4" cy="294.6" r="3.3"/><circle cx="1630.8" cy="274.8" r="3.3"/><circle cx="1643.2" cy="274.8" r="3.3"/><circle cx="1650.6" cy="251.3" r="3.3"/><circle cx="1658.1" cy="242.6" r="3.3"/><circle cx="1663.0" cy="248.8" r="3.3"/><circle cx="1752.2" cy="144.8" r="3.3"/><circle cx="1757.1" cy="139.9" r="3.3"/><circle cx="1729.9" cy="163.4" r="3.3"/><circle cx="1801.7" cy="94.1" r="3.3"/><circle cx="1806.6" cy="99.0" r="3.3"/><circle cx="1809.1" cy="105.2" r="3.3"/><circle cx="1811.6" cy="86.7" r="3.3"/><circle cx="1805.4" cy="85.4" r="3.3"/><circle cx="1802.9" cy="89.1" r="3.3"/><circle cx="1816.5" cy="38.4" r="3.3"/><circle cx="1826.4" cy="39.6" r="3.3"/><circle cx="1831.4" cy="49.5" r="3.3"/><circle cx="1838.8" cy="29.7" r="3.3"/><circle cx="1828.9" cy="53.2" r="3.3"/><circle cx="1772.0" cy="121.3" r="3.3"/><circle cx="1781.9" cy="116.4" r="3.3"/><circle cx="1764.5" cy="130.0" r="3.3"/><circle cx="1752.2" cy="137.4" r="3.3"/><circle cx="1721.2" cy="160.9" r="3.3"/><circle cx="1707.6" cy="178.3" r="3.3"/><circle cx="1710.1" cy="188.2" r="3.3"/><circle cx="1680.4" cy="222.8" r="3.3"/><circle cx="1677.9" cy="212.9" r="3.3"/><circle cx="1684.1" cy="205.5" r="3.3"/><circle cx="1668.0" cy="222.8" r="3.3"/><circle cx="1653.1" cy="235.2" r="3.3"/><circle cx="1638.3" cy="250.1" r="3.3"/><circle cx="1623.4" cy="262.4" r="3.3"/><circle cx="1608.6" cy="277.3" r="3.3"/><circle cx="1618.5" cy="267.4" r="3.3"/><circle cx="1604.8" cy="282.2" r="3.3"/></g>
<line x1="1573.9" y1="307.0" x2="1841.2" y2="26.6" stroke="#3366FF" stroke-width="8"/>
<line x1="1572.7" y1="296.2" x2="1832.4" y2="22.3" stroke="#FF0000" stroke-width="4.2" stroke-dasharray="24 17"/>
<line x1="1592.3" y1="296.2" x2="1852.0" y2="22.3" stroke="#FF0000" stroke-width="4.2" stroke-dasharray="24 17"/>
<line x1="1556.8" y1="6.0" x2="1556.8" y2="324.8" stroke="#000" stroke-width="4"/>
<line x1="1554.8" y1="322.6" x2="1869.0" y2="322.6" stroke="#000" stroke-width="4.2"/>
<line x1="1546.0" y1="284.2" x2="1556.0" y2="284.2" stroke="#000" stroke-width="4.2"/>
<text x="1538.5" y="291.5" font-size="21.30" text-anchor="end">20</text>
<line x1="1593.7" y1="322.0" x2="1593.7" y2="334.0" stroke="#000" stroke-width="4.2"/>
<text x="1593.7" y="357.8" font-size="21.30" text-anchor="middle">20</text>
<line x1="1546.0" y1="188.1" x2="1556.0" y2="188.1" stroke="#000" stroke-width="4.2"/>
<text x="1538.5" y="195.4" font-size="21.30" text-anchor="end">40</text>
<line x1="1684.8" y1="322.0" x2="1684.8" y2="334.0" stroke="#000" stroke-width="4.2"/>
<text x="1684.8" y="357.8" font-size="21.30" text-anchor="middle">40</text>
<line x1="1546.0" y1="92.0" x2="1556.0" y2="92.0" stroke="#000" stroke-width="4.2"/>
<text x="1538.5" y="99.3" font-size="21.30" text-anchor="end">60</text>
<line x1="1775.9" y1="322.0" x2="1775.9" y2="334.0" stroke="#000" stroke-width="4.2"/>
<text x="1775.9" y="357.8" font-size="21.30" text-anchor="middle">60</text>
<text x="1712.4" y="390.0" font-size="25.40" text-anchor="middle">Observed RT (min)</text>
<text x="1497.0" y="165.0" font-size="25.61" text-anchor="middle" transform="rotate(-90 1497.0 165.0)">Predicted RT (min)</text>
<text x="1564" y="33.4" font-size="18.2" textLength="226" lengthAdjust="spacing">Δ<tspan font-style="italic">t</tspan><tspan font-size="13" dy="5">95%</tspan><tspan dy="-5"> = 4.455, R</tspan><tspan font-size="13" dy="-8">2</tspan><tspan dy="8"> = 0.994</tspan></text>
<text x="1564" y="60.7" font-size="18.2" textLength="205" lengthAdjust="spacing">MAE = 0.52, N = 12510</text></g>
<g id="pc"><text x="21.5" y="405.0" font-size="38.00" font-weight="bold">c</text>
<rect x="148.2" y="603.4" width="125.5" height="85.1" fill="#FDE4E3" stroke="#333" stroke-width="4"/>
<rect x="318.6" y="621.0" width="125.8" height="94.5" fill="#CCF2F3" stroke="#333" stroke-width="4"/>
<line x1="147.0" y1="660.7" x2="275.0" y2="660.7" stroke="#333" stroke-width="7"/>
<line x1="317.0" y1="682.1" x2="446.0" y2="682.1" stroke="#333" stroke-width="7"/>
<line x1="210.8" y1="490.3" x2="210.8" y2="750.9" stroke="#333" stroke-width="2.2"/>
<line x1="381.5" y1="486.0" x2="381.5" y2="782.5" stroke="#333" stroke-width="2.2"/>
<g stroke="#F8766D" stroke-width="6.6" stroke-linecap="round" stroke-opacity="0.88"><line x1="209.6" y1="490.3" x2="212.0" y2="490.3"/><line x1="209.3" y1="494.2" x2="212.3" y2="494.2"/><line x1="208.3" y1="498.1" x2="213.3" y2="498.1"/><line x1="209.7" y1="502.0" x2="211.9" y2="502.0"/><line x1="208.8" y1="505.9" x2="212.8" y2="505.9"/><line x1="210.0" y1="509.8" x2="211.6" y2="509.8"/><line x1="208.4" y1="513.7" x2="213.2" y2="513.7"/><line x1="207.9" y1="517.6" x2="213.7" y2="517.6"/><line x1="206.5" y1="521.5" x2="215.1" y2="521.5"/><line x1="207.3" y1="525.4" x2="214.3" y2="525.4"/><line x1="203.4" y1="529.3" x2="218.2" y2="529.3"/><line x1="205.7" y1="533.2" x2="215.9" y2="533.2"/><line x1="204.3" y1="537.1" x2="217.3" y2="537.1"/><line x1="207.8" y1="541.0" x2="213.8" y2="541.0"/><line x1="204.9" y1="544.9" x2="216.7" y2="544.9"/><line x1="205.3" y1="548.8" x2="216.3" y2="548.8"/><line x1="204.1" y1="552.7" x2="217.5" y2="552.7"/><line x1="204.6" y1="556.6" x2="217.0" y2="556.6"/><line x1="204.0" y1="560.5" x2="217.6" y2="560.5"/><line x1="207.6" y1="564.4" x2="214.0" y2="564.4"/><line x1="206.1" y1="568.3" x2="215.5" y2="568.3"/><line x1="206.7" y1="572.2" x2="214.9" y2="572.2"/><line x1="204.7" y1="576.1" x2="216.9" y2="576.1"/><line x1="206.0" y1="580.0" x2="215.6" y2="580.0"/><line x1="203.5" y1="583.9" x2="218.1" y2="583.9"/><line x1="204.3" y1="587.8" x2="217.3" y2="587.8"/><line x1="203.2" y1="591.7" x2="218.4" y2="591.7"/><line x1="204.9" y1="595.6" x2="216.7" y2="595.6"/><line x1="202.4" y1="599.5" x2="219.2" y2="599.5"/><line x1="204.1" y1="603.4" x2="217.5" y2="603.4"/><line x1="202.8" y1="607.3" x2="218.8" y2="607.3"/><line x1="204.9" y1="611.2" x2="216.7" y2="611.2"/><line x1="202.8" y1="615.1" x2="218.8" y2="615.1"/><line x1="204.2" y1="619.0" x2="217.4" y2="619.0"/><line x1="203.1" y1="622.9" x2="218.5" y2="622.9"/><line x1="206.1" y1="626.8" x2="215.5" y2="626.8"/><line x1="201.6" y1="630.7" x2="220.0" y2="630.7"/><line x1="203.0" y1="634.6" x2="218.6" y2="634.6"/><line x1="200.0" y1="638.5" x2="221.6" y2="638.5"/><line x1="203.8" y1="642.4" x2="217.8" y2="642.4"/><line x1="200.0" y1="646.3" x2="221.6" y2="646.3"/><line x1="201.3" y1="650.2" x2="220.3" y2="650.2"/><line x1="199.8" y1="654.1" x2="221.8" y2="654.1"/><line x1="200.6" y1="658.0" x2="221.0" y2="658.0"/><line x1="196.3" y1="661.9" x2="225.3" y2="661.9"/><line x1="198.5" y1="665.8" x2="223.1" y2="665.8"/><line x1="194.3" y1="669.7" x2="227.3" y2="669.7"/><line x1="196.9" y1="673.6" x2="224.7" y2="673.6"/><line x1="189.6" y1="677.5" x2="232.0" y2="677.5"/><line x1="192.7" y1="681.4" x2="228.9" y2="681.4"/><line x1="191.7" y1="685.3" x2="229.9" y2="685.3"/><line x1="194.1" y1="689.2" x2="227.5" y2="689.2"/><line x1="188.9" y1="693.1" x2="232.7" y2="693.1"/><line x1="193.9" y1="697.0" x2="227.7" y2="697.0"/><line x1="194.1" y1="700.9" x2="227.5" y2="700.9"/><line x1="198.1" y1="704.8" x2="223.5" y2="704.8"/><line x1="198.3" y1="708.7" x2="223.3" y2="708.7"/><line x1="202.4" y1="712.6" x2="219.2" y2="712.6"/><line x1="201.0" y1="716.5" x2="220.6" y2="716.5"/><line x1="205.8" y1="720.4" x2="215.8" y2="720.4"/><line x1="207.7" y1="724.3" x2="213.9" y2="724.3"/><line x1="210.8" y1="728.2" x2="210.8" y2="728.2"/><line x1="210.0" y1="732.1" x2="211.6" y2="732.1"/><line x1="208.9" y1="736.0" x2="212.7" y2="736.0"/><line x1="208.5" y1="739.9" x2="213.1" y2="739.9"/><line x1="210.8" y1="743.8" x2="210.8" y2="743.8"/><line x1="210.8" y1="747.7" x2="210.8" y2="747.7"/></g>
<g stroke="#00BFC4" stroke-width="6.6" stroke-linecap="round" stroke-opacity="0.88"><line x1="381.5" y1="486.0" x2="381.5" y2="486.0"/><line x1="381.3" y1="489.9" x2="381.7" y2="489.9"/><line x1="379.3" y1="493.8" x2="383.7" y2="493.8"/><line x1="378.8" y1="497.7" x2="384.2" y2="497.7"/><line x1="373.8" y1="501.6" x2="389.2" y2="501.6"/><line x1="373.0" y1="505.5" x2="390.0" y2="505.5"/><line x1="369.3" y1="509.4" x2="393.7" y2="509.4"/><line x1="373.7" y1="513.3" x2="389.3" y2="513.3"/><line x1="371.9" y1="517.2" x2="391.1" y2="517.2"/><line x1="374.8" y1="521.1" x2="388.2" y2="521.1"/><line x1="366.3" y1="525.0" x2="396.7" y2="525.0"/><line x1="365.6" y1="528.9" x2="397.4" y2="528.9"/><line x1="361.9" y1="532.8" x2="401.1" y2="532.8"/><line x1="368.1" y1="536.7" x2="394.9" y2="536.7"/><line x1="362.4" y1="540.6" x2="400.6" y2="540.6"/><line x1="361.9" y1="544.5" x2="401.1" y2="544.5"/><line x1="360.6" y1="548.4" x2="402.4" y2="548.4"/><line x1="368.3" y1="552.3" x2="394.7" y2="552.3"/><line x1="361.2" y1="556.2" x2="401.8" y2="556.2"/><line x1="361.0" y1="560.1" x2="402.0" y2="560.1"/><line x1="357.5" y1="564.0" x2="405.5" y2="564.0"/><line x1="365.6" y1="567.9" x2="397.4" y2="567.9"/><line x1="362.5" y1="571.8" x2="400.5" y2="571.8"/><line x1="369.8" y1="575.7" x2="393.2" y2="575.7"/><line x1="370.2" y1="579.6" x2="392.8" y2="579.6"/><line x1="374.3" y1="583.5" x2="388.7" y2="583.5"/><line x1="372.9" y1="587.4" x2="390.1" y2="587.4"/><line x1="373.6" y1="591.3" x2="389.4" y2="591.3"/><line x1="370.2" y1="595.2" x2="392.8" y2="595.2"/><line x1="371.9" y1="599.1" x2="391.1" y2="599.1"/><line x1="366.4" y1="603.0" x2="396.6" y2="603.0"/><line x1="369.4" y1="606.9" x2="393.6" y2="606.9"/><line x1="364.3" y1="610.8" x2="398.7" y2="610.8"/><line x1="365.7" y1="614.7" x2="397.3" y2="614.7"/><line x1="363.8" y1="618.6" x2="399.2" y2="618.6"/><line x1="368.4" y1="622.5" x2="394.6" y2="622.5"/><line x1="360.9" y1="626.4" x2="402.1" y2="626.4"/><line x1="363.2" y1="630.3" x2="399.8" y2="630.3"/><line x1="358.8" y1="634.2" x2="404.2" y2="634.2"/><line x1="359.6" y1="638.1" x2="403.4" y2="638.1"/><line x1="354.9" y1="642.0" x2="408.1" y2="642.0"/><line x1="358.2" y1="645.9" x2="404.8" y2="645.9"/><line x1="355.3" y1="649.8" x2="407.7" y2="649.8"/><line x1="354.2" y1="653.7" x2="408.8" y2="653.7"/><line x1="349.2" y1="657.6" x2="413.8" y2="657.6"/><line x1="361.4" y1="661.5" x2="401.6" y2="661.5"/><line x1="351.3" y1="665.4" x2="411.7" y2="665.4"/><line x1="346.2" y1="669.3" x2="416.8" y2="669.3"/><line x1="325.2" y1="673.2" x2="437.8" y2="673.2"/><line x1="335.9" y1="677.1" x2="427.1" y2="677.1"/><line x1="331.3" y1="681.0" x2="431.7" y2="681.0"/><line x1="332.6" y1="684.9" x2="430.4" y2="684.9"/><line x1="327.5" y1="688.8" x2="435.5" y2="688.8"/><line x1="333.8" y1="692.7" x2="429.2" y2="692.7"/><line x1="332.5" y1="696.6" x2="430.5" y2="696.6"/><line x1="335.9" y1="700.5" x2="427.1" y2="700.5"/><line x1="329.8" y1="704.4" x2="433.2" y2="704.4"/><line x1="339.2" y1="708.3" x2="423.8" y2="708.3"/><line x1="325.4" y1="712.2" x2="437.6" y2="712.2"/><line x1="325.7" y1="716.1" x2="437.3" y2="716.1"/><line x1="319.1" y1="720.0" x2="443.9" y2="720.0"/><line x1="328.5" y1="723.9" x2="434.5" y2="723.9"/><line x1="314.1" y1="727.8" x2="448.9" y2="727.8"/><line x1="334.1" y1="731.7" x2="428.9" y2="731.7"/><line x1="327.2" y1="735.6" x2="435.8" y2="735.6"/><line x1="345.6" y1="739.5" x2="417.4" y2="739.5"/><line x1="343.3" y1="743.4" x2="419.7" y2="743.4"/><line x1="363.7" y1="747.3" x2="399.3" y2="747.3"/><line x1="365.4" y1="751.2" x2="397.6" y2="751.2"/><line x1="377.1" y1="755.1" x2="385.9" y2="755.1"/><line x1="378.0" y1="759.0" x2="385.0" y2="759.0"/><line x1="380.9" y1="762.9" x2="382.1" y2="762.9"/><line x1="381.3" y1="766.8" x2="381.7" y2="766.8"/><line x1="381.5" y1="770.7" x2="381.5" y2="770.7"/><line x1="381.5" y1="774.6" x2="381.5" y2="774.6"/><line x1="381.5" y1="778.5" x2="381.5" y2="778.5"/><line x1="381.5" y1="782.4" x2="381.5" y2="782.4"/></g>
<circle cx="381.5" cy="449.0" r="6.2" fill="#d0d0d0" stroke="#999" stroke-width="1.5" fill-opacity="0.8"/>
<circle cx="381.5" cy="449.0" r="2.5" fill="#00BFC4"/>
<line x1="133.7" y1="644.5" x2="277.0" y2="644.5" stroke="#8B0000" stroke-width="4" stroke-dasharray="21 19"/>
<line x1="305.0" y1="662.6" x2="448.3" y2="662.6" stroke="#8B0000" stroke-width="4" stroke-dasharray="21 19"/>
<line x1="108.6" y1="428.7" x2="108.6" y2="806.3" stroke="#000" stroke-width="3.3"/>
<line x1="107.0" y1="804.7" x2="485.7" y2="804.7" stroke="#000" stroke-width="3.3"/>
<line x1="97.5" y1="433.4" x2="108.6" y2="433.4" stroke="#000" stroke-width="3.3"/>
<text x="89.0" y="442.7" font-size="25.50" text-anchor="end">6</text>
<line x1="97.5" y1="511.4" x2="108.6" y2="511.4" stroke="#000" stroke-width="3.3"/>
<text x="89.0" y="520.7" font-size="25.50" text-anchor="end">4</text>
<line x1="97.5" y1="589.4" x2="108.6" y2="589.4" stroke="#000" stroke-width="3.3"/>
<text x="89.0" y="598.7" font-size="25.50" text-anchor="end">2</text>
<line x1="97.5" y1="667.4" x2="108.6" y2="667.4" stroke="#000" stroke-width="3.3"/>
<text x="89.0" y="676.7" font-size="25.50" text-anchor="end">0</text>
<line x1="97.5" y1="745.4" x2="108.6" y2="745.4" stroke="#000" stroke-width="3.3"/>
<text x="89.0" y="754.7" font-size="25.50" text-anchor="end">-2</text>
<line x1="210.8" y1="804.7" x2="210.8" y2="814.4" stroke="#000" stroke-width="3.3"/>
<text x="210.8" y="839.5" font-size="25.50" text-anchor="middle">ISTDs</text>
<line x1="381.5" y1="804.7" x2="381.5" y2="814.4" stroke="#000" stroke-width="3.3"/>
<text x="381.5" y="839.5" font-size="25.50" text-anchor="middle">Targets</text>
<text x="212.7" y="431.5" font-size="25.50" text-anchor="middle">n=672</text>
<text x="378.7" y="431.5" font-size="25.50" text-anchor="middle">n=2,256</text>
<text x="54.5" y="614.6" font-size="25.21" text-anchor="middle" transform="rotate(-90 54.5 614.6)">ΔRT (Obs.−Pred.) (min)</text><text x="486.6" y="405.7" font-size="38.00" font-weight="bold">d</text>
<line x1="683.4" y1="478.4" x2="683.4" y2="564.6" stroke="#333" stroke-width="3.8"/>
<line x1="842.0" y1="478.4" x2="842.0" y2="594.9" stroke="#333" stroke-width="3.8"/>
<rect x="627.0" y="488.0" width="115.5" height="46.8" fill="#FDE4E3" stroke="#333" stroke-width="4"/>
<rect x="784.3" y="487.3" width="117.1" height="45.1" fill="#CCF2F3" stroke="#333" stroke-width="4"/>
<line x1="626.0" y1="505.0" x2="743.5" y2="505.0" stroke="#333" stroke-width="8.5"/>
<line x1="783.0" y1="501.0" x2="902.5" y2="501.0" stroke="#333" stroke-width="8.5"/>
<circle cx="842.0" cy="632.7" r="6.8" fill="#999" stroke="#777" stroke-width="1.2" fill-opacity="0.45" stroke-opacity="0.5"/>
<circle cx="842.0" cy="637.3" r="6.8" fill="#999" stroke="#777" stroke-width="1.2" fill-opacity="0.45" stroke-opacity="0.5"/>
<circle cx="842.0" cy="734.1" r="6.8" fill="#999" stroke="#777" stroke-width="1.2" fill-opacity="0.45" stroke-opacity="0.5"/>
<polyline points="683.4,469.3 683.4,461.1 842.0,461.1 842.0,469.3" fill="none" stroke="#000" stroke-width="2"/>
<text x="762.7" y="457.2" font-size="20.00" text-anchor="middle">0.64</text>
<line x1="588.6" y1="424.8" x2="588.6" y2="802.3" stroke="#000" stroke-width="3.3"/>
<line x1="587.0" y1="800.7" x2="939.7" y2="800.7" stroke="#000" stroke-width="3.3"/>
<line x1="578.0" y1="474.2" x2="588.6" y2="474.2" stroke="#000" stroke-width="3.3"/>
<text x="568.5" y="483.0" font-size="25.00" text-anchor="end">1.00</text>
<line x1="578.0" y1="551.4" x2="588.6" y2="551.4" stroke="#000" stroke-width="3.3"/>
<text x="568.5" y="560.2" font-size="25.00" text-anchor="end">0.75</text>
<line x1="578.0" y1="628.7" x2="588.6" y2="628.7" stroke="#000" stroke-width="3.3"/>
<text x="568.5" y="637.5" font-size="25.00" text-anchor="end">0.50</text>
<line x1="578.0" y1="705.9" x2="588.6" y2="705.9" stroke="#000" stroke-width="3.3"/>
<text x="568.5" y="714.7" font-size="25.00" text-anchor="end">0.25</text>
<line x1="578.0" y1="783.1" x2="588.6" y2="783.1" stroke="#000" stroke-width="3.3"/>
<text x="568.5" y="791.9" font-size="25.00" text-anchor="end">0.00</text>
<line x1="683.4" y1="800.7" x2="683.4" y2="809.8" stroke="#000" stroke-width="3.3"/>
<text x="683.4" y="837.0" font-size="25.50" text-anchor="middle">ISTDs</text>
<line x1="842.0" y1="800.7" x2="842.0" y2="809.8" stroke="#000" stroke-width="3.3"/>
<text x="842.0" y="837.0" font-size="25.50" text-anchor="middle">Targets</text>
<text x="683.0" y="431.5" font-size="25.50" text-anchor="middle">n=14</text>
<text x="839.8" y="431.5" font-size="25.50" text-anchor="middle">n=47</text>
<text x="506.0" y="619.0" font-size="25.50" text-anchor="middle" transform="rotate(-90 506.0 619.0)">PCC</text></g>
<g id="pef"><text x="980.7" y="405.0" font-size="38.00" font-weight="bold">e</text>
<line x1="1086.7" y1="699.6" x2="1408.3" y2="699.6" stroke="#EBEBEB" stroke-width="1.4"/>
<line x1="1086.7" y1="581.2" x2="1408.3" y2="581.2" stroke="#EBEBEB" stroke-width="1.4"/>
<line x1="1086.7" y1="462.8" x2="1408.3" y2="462.8" stroke="#EBEBEB" stroke-width="1.4"/>
<line x1="1086.7" y1="640.4" x2="1408.3" y2="640.4" stroke="#EBEBEB" stroke-width="2.6"/>
<line x1="1086.7" y1="522.0" x2="1408.3" y2="522.0" stroke="#EBEBEB" stroke-width="2.6"/>
<line x1="1113.2" y1="416.0" x2="1113.2" y2="757.0" stroke="#EBEBEB" stroke-width="2.6"/>
<line x1="1158.3" y1="416.0" x2="1158.3" y2="757.0" stroke="#EBEBEB" stroke-width="2.6"/>
<line x1="1203.1" y1="416.0" x2="1203.1" y2="757.0" stroke="#EBEBEB" stroke-width="2.6"/>
<line x1="1247.4" y1="416.0" x2="1247.4" y2="757.0" stroke="#EBEBEB" stroke-width="2.6"/>
<line x1="1292.0" y1="416.0" x2="1292.0" y2="757.0" stroke="#EBEBEB" stroke-width="2.6"/>
<line x1="1336.5" y1="416.0" x2="1336.5" y2="757.0" stroke="#EBEBEB" stroke-width="2.6"/>
<line x1="1381.3" y1="416.0" x2="1381.3" y2="757.0" stroke="#EBEBEB" stroke-width="2.6"/>
<rect x="1096.2" y="638.5" width="34.0" height="6.5" fill="#333" stroke="#333" stroke-width="2" rx="2"/>
<rect x="1141.3" y="636.5" width="34.0" height="6.5" fill="#333" stroke="#333" stroke-width="2" rx="2"/>
<rect x="1186.1" y="638.0" width="34.0" height="7.0" fill="#333" stroke="#333" stroke-width="2" rx="2"/>
<circle cx="1203.1" cy="630.6" r="3.7" fill="#333"/>
<rect x="1229.9" y="633.5" width="35.0" height="7.0" fill="#333" stroke="#333" stroke-width="2" rx="2"/>
<circle cx="1247.4" cy="600.0" r="3.7" fill="#333"/>
<circle cx="1247.4" cy="608.9" r="3.7" fill="#333"/>
<circle cx="1247.4" cy="616.1" r="3.7" fill="#333"/>
<line x1="1292.0" y1="589.4" x2="1292.0" y2="599.4" stroke="#333" stroke-width="3.3"/>
<rect x="1274.6" y="599.4" width="34.8" height="41.0" fill="#00B6EB" stroke="#333" stroke-width="3.6"/>
<line x1="1274.6" y1="629.2" x2="1309.4" y2="629.2" stroke="#333" stroke-width="6.5"/>
<circle cx="1292.0" cy="523.4" r="3.7" fill="#333"/>
<circle cx="1292.0" cy="538.7" r="3.7" fill="#333"/>
<circle cx="1292.0" cy="701.0" r="3.7" fill="#333"/>
<line x1="1336.5" y1="530.4" x2="1336.5" y2="594.4" stroke="#333" stroke-width="3.3"/>
<rect x="1319.1" y="594.4" width="34.8" height="47.4" fill="#A58AFF" stroke="#333" stroke-width="3.6"/>
<line x1="1319.1" y1="639.6" x2="1353.9" y2="639.6" stroke="#333" stroke-width="6.5"/>
<circle cx="1336.5" cy="730.3" r="3.7" fill="#333"/>
<line x1="1381.3" y1="453.0" x2="1381.3" y2="547.0" stroke="#333" stroke-width="3.3"/>
<line x1="1381.3" y1="626.5" x2="1381.3" y2="641.8" stroke="#333" stroke-width="3.3"/>
<rect x="1363.9" y="547.0" width="34.8" height="79.5" fill="#FB61D7" stroke="#333" stroke-width="3.6"/>
<line x1="1363.9" y1="607.8" x2="1398.7" y2="607.8" stroke="#333" stroke-width="6.5"/>
<rect x="1088.4" y="417.8" width="318.3" height="337.8" fill="none" stroke="#333" stroke-width="3.3"/>
<line x1="1077.1" y1="640.4" x2="1086.7" y2="640.4" stroke="#333" stroke-width="3.6"/>
<text x="1068.7" y="651.1" font-size="28.00" text-anchor="end">0</text>
<line x1="1077.1" y1="522.0" x2="1086.7" y2="522.0" stroke="#333" stroke-width="3.6"/>
<text x="1068.7" y="532.7" font-size="28.00" text-anchor="end">10</text>
<line x1="1113.2" y1="757.3" x2="1113.2" y2="767.0" stroke="#333" stroke-width="3.6"/>
<text x="1113.2" y="795.0" font-size="28.00" text-anchor="middle">0</text>
<line x1="1158.3" y1="757.3" x2="1158.3" y2="767.0" stroke="#333" stroke-width="3.6"/>
<text x="1158.3" y="795.0" font-size="28.00" text-anchor="middle">3</text>
<line x1="1203.1" y1="757.3" x2="1203.1" y2="767.0" stroke="#333" stroke-width="3.6"/>
<text x="1203.1" y="795.0" font-size="28.00" text-anchor="middle">6</text>
<line x1="1247.4" y1="757.3" x2="1247.4" y2="767.0" stroke="#333" stroke-width="3.6"/>
<text x="1247.4" y="795.0" font-size="28.00" text-anchor="middle">12</text>
<line x1="1292.0" y1="757.3" x2="1292.0" y2="767.0" stroke="#333" stroke-width="3.6"/>
<text x="1292.0" y="795.0" font-size="28.00" text-anchor="middle">18</text>
<line x1="1336.5" y1="757.3" x2="1336.5" y2="767.0" stroke="#333" stroke-width="3.6"/>
<text x="1336.5" y="795.0" font-size="28.00" text-anchor="middle">24</text>
<line x1="1381.3" y1="757.3" x2="1381.3" y2="767.0" stroke="#333" stroke-width="3.6"/>
<text x="1381.3" y="795.0" font-size="28.00" text-anchor="middle">48</text>
<text x="1246.7" y="831.0" font-size="27.50" text-anchor="middle">Duration (h)</text>
<text x="1092.3" y="462.1" font-size="25.00">N=15</text>
<text x="1014.1" y="590" font-size="30" text-anchor="middle" transform="rotate(-90 1014.1 590)">Log<tspan font-size="19" dy="6">2</tspan><tspan dy="-6" font-size="35">(</tspan>MG132/MOCK<tspan font-size="35">)</tspan></text>
<polyline points="1203.1,504.1 1203.1,495.6 1247.4,495.6 1247.4,504.1" fill="none" stroke="#000" stroke-width="2.4"/>
<text x="1225.2" y="492.1" font-size="20.00" text-anchor="middle">0.031</text>
<polyline points="1247.4,474.8 1247.4,466.3 1292.0,466.3 1292.0,474.8" fill="none" stroke="#000" stroke-width="2.4"/>
<text x="1269.7" y="462.8" font-size="20.00" text-anchor="middle">0.21</text>
<polyline points="1247.4,445.0 1247.4,436.5 1336.5,436.5 1336.5,445.0" fill="none" stroke="#000" stroke-width="2.4"/>
<text x="1292.0" y="433.0" font-size="20.00" text-anchor="middle">0.28</text>
<text x="1431.1" y="405.0" font-size="38.00" font-weight="bold">f</text>
<line x1="1537.1" y1="699.6" x2="1858.7" y2="699.6" stroke="#EBEBEB" stroke-width="1.4"/>
<line x1="1537.1" y1="581.2" x2="1858.7" y2="581.2" stroke="#EBEBEB" stroke-width="1.4"/>
<line x1="1537.1" y1="462.8" x2="1858.7" y2="462.8" stroke="#EBEBEB" stroke-width="1.4"/>
<line x1="1537.1" y1="640.4" x2="1858.7" y2="640.4" stroke="#EBEBEB" stroke-width="2.6"/>
<line x1="1537.1" y1="522.0" x2="1858.7" y2="522.0" stroke="#EBEBEB" stroke-width="2.6"/>
<line x1="1563.6" y1="416.0" x2="1563.6" y2="757.0" stroke="#EBEBEB" stroke-width="2.6"/>
<line x1="1608.7" y1="416.0" x2="1608.7" y2="757.0" stroke="#EBEBEB" stroke-width="2.6"/>
<line x1="1653.5" y1="416.0" x2="1653.5" y2="757.0" stroke="#EBEBEB" stroke-width="2.6"/>
<line x1="1697.8" y1="416.0" x2="1697.8" y2="757.0" stroke="#EBEBEB" stroke-width="2.6"/>
<line x1="1742.4" y1="416.0" x2="1742.4" y2="757.0" stroke="#EBEBEB" stroke-width="2.6"/>
<line x1="1786.9" y1="416.0" x2="1786.9" y2="757.0" stroke="#EBEBEB" stroke-width="2.6"/>
<line x1="1831.7" y1="416.0" x2="1831.7" y2="757.0" stroke="#EBEBEB" stroke-width="2.6"/>
<rect x="1546.6" y="640.0" width="34.0" height="7.5" fill="#333" stroke="#333" stroke-width="2" rx="2"/>
<rect x="1591.7" y="638.0" width="34.0" height="6.5" fill="#333" stroke="#333" stroke-width="2" rx="2"/>
<line x1="1653.5" y1="636.2" x2="1653.5" y2="664.0" stroke="#333" stroke-width="3.3"/>
<rect x="1636.1" y="640.4" width="34.8" height="15.3" fill="#333" stroke="#333" stroke-width="3.6"/>
<line x1="1640.5" y1="645.1" x2="1666.5" y2="645.1" stroke="#53B400" stroke-width="2.2"/>
<line x1="1697.8" y1="533.2" x2="1697.8" y2="586.1" stroke="#333" stroke-width="3.3"/>
<rect x="1680.4" y="586.1" width="34.8" height="54.3" fill="#00C094" stroke="#333" stroke-width="3.6"/>
<line x1="1680.4" y1="635.6" x2="1715.2" y2="635.6" stroke="#333" stroke-width="6.5"/>
<circle cx="1697.8" cy="492.8" r="3.0" fill="#333"/>
<line x1="1742.4" y1="490.0" x2="1742.4" y2="567.1" stroke="#333" stroke-width="3.3"/>
<line x1="1742.4" y1="641.2" x2="1742.4" y2="686.3" stroke="#333" stroke-width="3.3"/>
<rect x="1725.2" y="567.1" width="34.4" height="74.1" fill="#00B6EB" stroke="#333" stroke-width="3.6"/>
<line x1="1725.2" y1="592.2" x2="1759.6" y2="592.2" stroke="#333" stroke-width="6.5"/>
<line x1="1786.9" y1="466.9" x2="1786.9" y2="559.6" stroke="#333" stroke-width="3.3"/>
<line x1="1786.9" y1="632.0" x2="1786.9" y2="729.5" stroke="#333" stroke-width="3.3"/>
<rect x="1769.7" y="559.6" width="34.4" height="72.4" fill="#A58AFF" stroke="#333" stroke-width="3.6"/>
<line x1="1769.7" y1="581.9" x2="1804.1" y2="581.9" stroke="#333" stroke-width="6.5"/>
<line x1="1831.7" y1="517.0" x2="1831.7" y2="545.1" stroke="#333" stroke-width="3.3"/>
<line x1="1831.7" y1="601.9" x2="1831.7" y2="643.2" stroke="#333" stroke-width="3.3"/>
<rect x="1814.5" y="545.1" width="34.4" height="56.8" fill="#FB61D7" stroke="#333" stroke-width="3.6"/>
<line x1="1814.5" y1="563.8" x2="1848.9" y2="563.8" stroke="#333" stroke-width="6.5"/>
<circle cx="1831.7" cy="445.4" r="3.7" fill="#333"/>
<rect x="1538.8" y="417.8" width="318.3" height="337.8" fill="none" stroke="#333" stroke-width="3.3"/>
<line x1="1527.5" y1="640.4" x2="1537.1" y2="640.4" stroke="#333" stroke-width="3.6"/>
<text x="1519.1" y="651.1" font-size="28.00" text-anchor="end">0</text>
<line x1="1527.5" y1="522.0" x2="1537.1" y2="522.0" stroke="#333" stroke-width="3.6"/>
<text x="1519.1" y="532.7" font-size="28.00" text-anchor="end">10</text>
<line x1="1563.6" y1="757.3" x2="1563.6" y2="767.0" stroke="#333" stroke-width="3.6"/>
<text x="1563.6" y="795.0" font-size="28.00" text-anchor="middle">0</text>
<line x1="1608.7" y1="757.3" x2="1608.7" y2="767.0" stroke="#333" stroke-width="3.6"/>
<text x="1608.7" y="795.0" font-size="28.00" text-anchor="middle">3</text>
<line x1="1653.5" y1="757.3" x2="1653.5" y2="767.0" stroke="#333" stroke-width="3.6"/>
<text x="1653.5" y="795.0" font-size="28.00" text-anchor="middle">6</text>
<line x1="1697.8" y1="757.3" x2="1697.8" y2="767.0" stroke="#333" stroke-width="3.6"/>
<text x="1697.8" y="795.0" font-size="28.00" text-anchor="middle">12</text>
<line x1="1742.4" y1="757.3" x2="1742.4" y2="767.0" stroke="#333" stroke-width="3.6"/>
<text x="1742.4" y="795.0" font-size="28.00" text-anchor="middle">18</text>
<line x1="1786.9" y1="757.3" x2="1786.9" y2="767.0" stroke="#333" stroke-width="3.6"/>
<text x="1786.9" y="795.0" font-size="28.00" text-anchor="middle">24</text>
<line x1="1831.7" y1="757.3" x2="1831.7" y2="767.0" stroke="#333" stroke-width="3.6"/>
<text x="1831.7" y="795.0" font-size="28.00" text-anchor="middle">48</text>
<text x="1697.1" y="831.0" font-size="27.50" text-anchor="middle">Duration (h)</text>
<text x="1542.7" y="466.3" font-size="25.00">N=15</text>
<text x="1464.5" y="590" font-size="30" text-anchor="middle" transform="rotate(-90 1464.5 590)">Log<tspan font-size="19" dy="6">2</tspan><tspan dy="-6" font-size="35">(</tspan>MGTG/MOCK<tspan font-size="35">)</tspan></text>
<polyline points="1653.5,504.1 1653.5,495.6 1697.8,495.6 1697.8,504.1" fill="none" stroke="#000" stroke-width="2.4"/>
<text x="1675.7" y="492.1" font-size="20.00" text-anchor="middle">0.0013</text>
<polyline points="1697.8,474.3 1697.8,465.8 1742.4,465.8 1742.4,474.3" fill="none" stroke="#000" stroke-width="2.4"/>
<text x="1720.1" y="462.3" font-size="20.00" text-anchor="middle">0.73</text>
<polyline points="1697.8,445.0 1697.8,436.5 1786.9,436.5 1786.9,445.0" fill="none" stroke="#000" stroke-width="2.4"/>
<text x="1742.4" y="433.0" font-size="20.00" text-anchor="middle">0.47</text></g>
<g id="pg"><text x="29.0" y="903.4" font-size="38.00" font-weight="bold">g</text>
<polyline points="153.0,1158.3 179.7,1162.5 206.5,1150.6 260.0,1149.8 313.4,1155.8 366.9,1159.2 580.8,1144.8" fill="none" stroke="#F9D0D1" stroke-width="3.4" stroke-linejoin="round"/>
<polyline points="153.0,1166.1 179.7,1115.0 206.5,982.2 260.0,947.2 313.4,946.1 366.9,978.1 580.8,1002.7" fill="none" stroke="#D5E3F0" stroke-width="3.4" stroke-linejoin="round"/>
<polyline points="153.0,1170.8 179.7,1057.0 206.5,1027.5 260.0,937.5 313.4,978.9 366.9,983.3 580.8,983.9" fill="none" stroke="#D8EDD7" stroke-width="3.4" stroke-linejoin="round"/>
<g stroke="#E41A1C" stroke-width="3" fill="none"><path d="M140.9,1154.5H165.1M153.0,1154.5V1161.9M140.9,1161.9H165.1"/><path d="M167.6,1160.3H191.8M179.7,1160.3V1164.7M167.6,1164.7H191.8"/><path d="M194.4,1142.9H218.6M206.5,1142.9V1159.2M194.4,1159.2H218.6"/><path d="M247.9,1134.3H272.1M260.0,1134.3V1166.9M247.9,1166.9H272.1"/><path d="M301.3,1150.9H325.5M313.4,1150.9V1161.4M301.3,1161.4H325.5"/><path d="M354.8,1157.8H379.0M366.9,1157.8V1160.5M354.8,1160.5H379.0"/><path d="M568.7,1125.5H592.9M580.8,1125.5V1165.0M568.7,1165.0H592.9"/></g>
<g fill="#E41A1C"><circle cx="153.0" cy="1158.3" r="6.8"/><circle cx="179.7" cy="1162.5" r="6.8"/><circle cx="206.5" cy="1150.6" r="6.8"/><circle cx="260.0" cy="1149.8" r="6.8"/><circle cx="313.4" cy="1155.8" r="6.8"/><circle cx="366.9" cy="1159.2" r="6.8"/><circle cx="580.8" cy="1144.8" r="6.8"/></g>
<g stroke="#377EB8" stroke-width="3" fill="none"><path d="M140.9,1163.3H165.1M153.0,1163.3V1167.4M140.9,1167.4H165.1"/><path d="M167.6,1047.1H191.8M179.7,1047.1V1182.3M167.6,1182.3H191.8"/><path d="M194.4,975.6H218.6M206.5,975.6V988.6M194.4,988.6H218.6"/><path d="M247.9,942.2H272.1M260.0,942.2V953.0M247.9,953.0H272.1"/><path d="M301.3,922.1H325.5M313.4,922.1V970.4M301.3,970.4H325.5"/><path d="M354.8,972.3H379.0M366.9,972.3V984.2M354.8,984.2H379.0"/><path d="M568.7,998.8H592.9M580.8,998.8V1006.5M568.7,1006.5H592.9"/></g>
<g fill="#377EB8"><circle cx="153.0" cy="1166.1" r="6.8"/><circle cx="179.7" cy="1115.0" r="6.8"/><circle cx="206.5" cy="982.2" r="6.8"/><circle cx="260.0" cy="947.2" r="6.8"/><circle cx="313.4" cy="946.1" r="6.8"/><circle cx="366.9" cy="978.1" r="6.8"/><circle cx="580.8" cy="1002.7" r="6.8"/></g>
<g stroke="#4DAF4A" stroke-width="3" fill="none"><path d="M140.9,1168.5H165.1M153.0,1168.5V1172.4M140.9,1172.4H165.1"/><path d="M167.6,1026.7H191.8M179.7,1026.7V1086.6M167.6,1086.6H191.8"/><path d="M194.4,1015.1H218.6M206.5,1015.1V1039.1M194.4,1039.1H218.6"/><path d="M247.9,916.3H272.1M260.0,916.3V958.8M247.9,958.8H272.1"/><path d="M301.3,931.7H325.5M313.4,931.7V1024.7M301.3,1024.7H325.5"/><path d="M354.8,969.3H379.0M366.9,969.3V997.7M354.8,997.7H379.0"/><path d="M568.7,980.9H592.9M580.8,980.9V987.2M568.7,987.2H592.9"/></g>
<g fill="#4DAF4A"><circle cx="153.0" cy="1170.8" r="6.8"/><circle cx="179.7" cy="1057.0" r="6.8"/><circle cx="206.5" cy="1027.5" r="6.8"/><circle cx="260.0" cy="937.5" r="6.8"/><circle cx="313.4" cy="978.9" r="6.8"/><circle cx="366.9" cy="983.3" r="6.8"/><circle cx="580.8" cy="983.9" r="6.8"/></g>
<line x1="118.6" y1="901.2" x2="118.6" y2="1197.8" stroke="#000" stroke-width="3.2"/>
<line x1="117.1" y1="1196.3" x2="616.0" y2="1196.3" stroke="#000" stroke-width="3.2"/>
<line x1="110.2" y1="935.6" x2="118.6" y2="935.6" stroke="#000" stroke-width="3.2"/>
<text x="103.3" y="942.3" font-size="19.20" text-anchor="end">20.0</text>
<line x1="110.2" y1="1004.6" x2="118.6" y2="1004.6" stroke="#000" stroke-width="3.2"/>
<text x="103.3" y="1011.3" font-size="19.20" text-anchor="end">17.5</text>
<line x1="110.2" y1="1073.6" x2="118.6" y2="1073.6" stroke="#000" stroke-width="3.2"/>
<text x="103.3" y="1080.3" font-size="19.20" text-anchor="end">15.0</text>
<line x1="110.2" y1="1142.6" x2="118.6" y2="1142.6" stroke="#000" stroke-width="3.2"/>
<text x="103.3" y="1149.3" font-size="19.20" text-anchor="end">12.5</text>
<line x1="153.0" y1="1196.3" x2="153.0" y2="1204.8" stroke="#000" stroke-width="3.2"/>
<text x="153.0" y="1226.1" font-size="19.20" text-anchor="middle">0</text>
<line x1="242.1" y1="1196.3" x2="242.1" y2="1204.8" stroke="#000" stroke-width="3.2"/>
<text x="242.1" y="1226.1" font-size="19.20" text-anchor="middle">10</text>
<line x1="331.3" y1="1196.3" x2="331.3" y2="1204.8" stroke="#000" stroke-width="3.2"/>
<text x="331.3" y="1226.1" font-size="19.20" text-anchor="middle">20</text>
<line x1="420.4" y1="1196.3" x2="420.4" y2="1204.8" stroke="#000" stroke-width="3.2"/>
<text x="420.4" y="1226.1" font-size="19.20" text-anchor="middle">30</text>
<line x1="509.5" y1="1196.3" x2="509.5" y2="1204.8" stroke="#000" stroke-width="3.2"/>
<text x="509.5" y="1226.1" font-size="19.20" text-anchor="middle">40</text>
<line x1="598.7" y1="1196.3" x2="598.7" y2="1204.8" stroke="#000" stroke-width="3.2"/>
<text x="598.7" y="1226.1" font-size="19.20" text-anchor="middle">50</text>
<text x="368.0" y="1249.4" font-size="19.20" text-anchor="middle">Treatment Duration (h)</text>
<text x="50.5" y="1047.8" font-size="18.8" text-anchor="middle" transform="rotate(-90 50.5 1047.8)">Log<tspan font-size="12.5" dy="4">10</tspan><tspan dy="-4" font-size="24.5">(</tspan>Normalized Intensity<tspan font-size="24.5">)</tspan></text>
<text x="126.0" y="923.2" font-size="25.50">ATF4</text>
<text x="126.0" y="950.2" font-size="25.50">n=2</text>
<line x1="408.8" y1="1046.7" x2="439.8" y2="1046.7" stroke="#E41A1C" stroke-width="3.2"/>
<circle cx="424.3" cy="1046.7" r="6.8" fill="#E41A1C"/>
<text x="444.8" y="1055.7" font-size="25.00">MOCK</text>
<line x1="408.8" y1="1078.0" x2="439.8" y2="1078.0" stroke="#377EB8" stroke-width="3.2"/>
<circle cx="424.3" cy="1078.0" r="6.8" fill="#377EB8"/>
<text x="444.8" y="1087.0" font-size="25.00">MG132</text>
<line x1="408.8" y1="1109.3" x2="439.8" y2="1109.3" stroke="#4DAF4A" stroke-width="3.2"/>
<circle cx="424.3" cy="1109.3" r="6.8" fill="#4DAF4A"/>
<text x="444.8" y="1118.3" font-size="25.00">MGTG</text>
<text x="643.2" y="908.4" font-size="38.00" font-weight="bold">h</text>
<polyline points="751.0,1136.3 778.6,1140.0 806.1,1131.4 861.3,1148.7 916.4,1134.4 971.6,1137.4 1192.2,1137.0" fill="none" stroke="#F9D0D1" stroke-width="3.4" stroke-linejoin="round"/>
<polyline points="751.0,1141.9 778.6,1138.9 806.1,1131.0 861.3,1141.5 916.4,1040.3 971.6,1088.5 1192.2,931.1" fill="none" stroke="#D5E3F0" stroke-width="3.4" stroke-linejoin="round"/>
<polyline points="751.0,1146.8 778.6,1145.7 806.1,1163.4 861.3,1045.9 916.4,978.9 971.6,999.6 1192.2,919.4" fill="none" stroke="#D8EDD7" stroke-width="3.4" stroke-linejoin="round"/>
<g stroke="#E41A1C" stroke-width="3" fill="none"><path d="M738.9,1133.6H763.1M751.0,1133.6V1138.5M738.9,1138.5H763.1"/><path d="M766.5,1138.2H790.7M778.6,1138.2V1141.9M766.5,1141.9H790.7"/><path d="M794.0,1124.6H818.2M806.1,1124.6V1138.2M794.0,1138.2H818.2"/><path d="M849.2,1135.9H873.4M861.3,1135.9V1163.0M849.2,1163.0H873.4"/><path d="M904.3,1130.6H928.5M916.4,1130.6V1138.9M904.3,1138.9H928.5"/><path d="M959.5,1135.9H983.7M971.6,1135.9V1138.9M959.5,1138.9H983.7"/><path d="M1180.1,1135.5H1204.3M1192.2,1135.5V1138.5M1180.1,1138.5H1204.3"/></g>
<g fill="#E41A1C"><circle cx="751.0" cy="1136.3" r="6.8"/><circle cx="778.6" cy="1140.0" r="6.8"/><circle cx="806.1" cy="1131.4" r="6.8"/><circle cx="861.3" cy="1148.7" r="6.8"/><circle cx="916.4" cy="1134.4" r="6.8"/><circle cx="971.6" cy="1137.4" r="6.8"/><circle cx="1192.2" cy="1137.0" r="6.8"/></g>
<g stroke="#377EB8" stroke-width="3" fill="none"><path d="M738.9,1140.0H763.1M751.0,1140.0V1143.8M738.9,1143.8H763.1"/><path d="M766.5,1137.0H790.7M778.6,1137.0V1140.8M766.5,1140.8H790.7"/><path d="M794.0,1127.2H818.2M806.1,1127.2V1134.8M794.0,1134.8H818.2"/><path d="M849.2,1137.4H873.4M861.3,1137.4V1146.1M849.2,1146.1H873.4"/><path d="M904.3,1036.5H928.5M916.4,1036.5V1043.6M904.3,1043.6H928.5"/><path d="M959.5,1070.4H983.7M971.6,1070.4V1108.0M959.5,1108.0H983.7"/><path d="M1180.1,918.3H1204.3M1192.2,918.3V945.4M1180.1,945.4H1204.3"/></g>
<g fill="#377EB8"><circle cx="751.0" cy="1141.9" r="6.8"/><circle cx="778.6" cy="1138.9" r="6.8"/><circle cx="806.1" cy="1131.0" r="6.8"/><circle cx="861.3" cy="1141.5" r="6.8"/><circle cx="916.4" cy="1040.3" r="6.8"/><circle cx="971.6" cy="1088.5" r="6.8"/><circle cx="1192.2" cy="931.1" r="6.8"/></g>
<g stroke="#4DAF4A" stroke-width="3" fill="none"><path d="M738.9,1144.6H763.1M751.0,1144.6V1148.7M738.9,1148.7H763.1"/><path d="M766.5,1143.8H790.7M778.6,1143.8V1147.6M766.5,1147.6H790.7"/><path d="M794.0,1144.9H818.2M806.1,1144.9V1182.2M794.0,1182.2H818.2"/><path d="M849.2,1043.3H873.4M861.3,1043.3V1048.5M849.2,1048.5H873.4"/><path d="M904.3,952.2H928.5M916.4,952.2V1005.2M904.3,1005.2H928.5"/><path d="M959.5,973.6H983.7M971.6,973.6V1026.7M959.5,1026.7H983.7"/><path d="M1180.1,916.8H1204.3M1192.2,916.8V922.4M1180.1,922.4H1204.3"/></g>
<g fill="#4DAF4A"><circle cx="751.0" cy="1146.8" r="6.8"/><circle cx="778.6" cy="1145.7" r="6.8"/><circle cx="806.1" cy="1163.4" r="6.8"/><circle cx="861.3" cy="1045.9" r="6.8"/><circle cx="916.4" cy="978.9" r="6.8"/><circle cx="971.6" cy="999.6" r="6.8"/><circle cx="1192.2" cy="919.4" r="6.8"/></g>
<line x1="714.9" y1="901.8" x2="714.9" y2="1197.8" stroke="#000" stroke-width="3.2"/>
<line x1="713.4" y1="1196.3" x2="1229.0" y2="1196.3" stroke="#000" stroke-width="3.2"/>
<line x1="706.5" y1="949.9" x2="714.9" y2="949.9" stroke="#000" stroke-width="3.2"/>
<text x="699.6" y="956.6" font-size="19.20" text-anchor="end">20</text>
<line x1="706.5" y1="1025.2" x2="714.9" y2="1025.2" stroke="#000" stroke-width="3.2"/>
<text x="699.6" y="1031.9" font-size="19.20" text-anchor="end">18</text>
<line x1="706.5" y1="1100.5" x2="714.9" y2="1100.5" stroke="#000" stroke-width="3.2"/>
<text x="699.6" y="1107.2" font-size="19.20" text-anchor="end">16</text>
<line x1="706.5" y1="1175.8" x2="714.9" y2="1175.8" stroke="#000" stroke-width="3.2"/>
<text x="699.6" y="1182.5" font-size="19.20" text-anchor="end">14</text>
<line x1="751.0" y1="1196.3" x2="751.0" y2="1204.8" stroke="#000" stroke-width="3.2"/>
<text x="751.0" y="1226.1" font-size="19.20" text-anchor="middle">0</text>
<line x1="842.9" y1="1196.3" x2="842.9" y2="1204.8" stroke="#000" stroke-width="3.2"/>
<text x="842.9" y="1226.1" font-size="19.20" text-anchor="middle">10</text>
<line x1="934.8" y1="1196.3" x2="934.8" y2="1204.8" stroke="#000" stroke-width="3.2"/>
<text x="934.8" y="1226.1" font-size="19.20" text-anchor="middle">20</text>
<line x1="1026.7" y1="1196.3" x2="1026.7" y2="1204.8" stroke="#000" stroke-width="3.2"/>
<text x="1026.7" y="1226.1" font-size="19.20" text-anchor="middle">30</text>
<line x1="1118.6" y1="1196.3" x2="1118.6" y2="1204.8" stroke="#000" stroke-width="3.2"/>
<text x="1118.6" y="1226.1" font-size="19.20" text-anchor="middle">40</text>
<line x1="1210.5" y1="1196.3" x2="1210.5" y2="1204.8" stroke="#000" stroke-width="3.2"/>
<text x="1210.5" y="1226.1" font-size="19.20" text-anchor="middle">50</text>
<text x="971.8" y="1249.4" font-size="19.20" text-anchor="middle">Treatment Duration (h)</text>
<text x="666.0" y="1048.0" font-size="18.8" text-anchor="middle" transform="rotate(-90 666.0 1048.0)">Log<tspan font-size="12.5" dy="4">10</tspan><tspan dy="-4" font-size="24.5">(</tspan>Normalized Intensity<tspan font-size="24.5">)</tspan></text>
<text x="722.7" y="923.8" font-size="25.50">R-CALR|18E</text>
<text x="722.7" y="950.8" font-size="25.50">n=2</text>
<text x="1269.7" y="911.0" font-size="38.00" font-weight="bold">i</text>
<polyline points="1377.4,1136.5 1405.0,1140.3 1432.6,1129.6 1487.8,1147.9 1543.0,1134.2 1598.2,1120.6 1819.0,1136.5" fill="none" stroke="#F9D0D1" stroke-width="3.4" stroke-linejoin="round"/>
<polyline points="1377.4,1142.2 1405.0,1140.3 1432.6,1121.8 1487.8,1141.1 1543.0,1010.4 1598.2,993.8 1819.0,928.5" fill="none" stroke="#D5E3F0" stroke-width="3.4" stroke-linejoin="round"/>
<polyline points="1377.4,1145.6 1405.0,1144.9 1432.6,1162.3 1487.8,984.2 1543.0,966.1 1598.2,920.8 1819.0,919.9" fill="none" stroke="#D8EDD7" stroke-width="3.4" stroke-linejoin="round"/>
<g stroke="#E41A1C" stroke-width="3" fill="none"><path d="M1365.3,1133.8H1389.5M1377.4,1133.8V1139.5M1365.3,1139.5H1389.5"/><path d="M1392.9,1138.4H1417.1M1405.0,1138.4V1142.4M1392.9,1142.4H1417.1"/><path d="M1420.5,1124.2H1444.7M1432.6,1124.2V1135.7M1420.5,1135.7H1444.7"/><path d="M1475.7,1135.3H1499.9M1487.8,1135.3V1162.3M1475.7,1162.3H1499.9"/><path d="M1530.9,1131.9H1555.1M1543.0,1131.9V1136.7M1530.9,1136.7H1555.1"/><path d="M1586.1,1097.5H1610.3M1598.2,1097.5V1143.7M1586.1,1143.7H1610.3"/><path d="M1806.9,1134.9H1831.1M1819.0,1134.9V1138.0M1806.9,1138.0H1831.1"/></g>
<g fill="#E41A1C"><circle cx="1377.4" cy="1136.5" r="6.8"/><circle cx="1405.0" cy="1140.3" r="6.8"/><circle cx="1432.6" cy="1129.6" r="6.8"/><circle cx="1487.8" cy="1147.9" r="6.8"/><circle cx="1543.0" cy="1134.2" r="6.8"/><circle cx="1598.2" cy="1120.6" r="6.8"/><circle cx="1819.0" cy="1136.5" r="6.8"/></g>
<g stroke="#377EB8" stroke-width="3" fill="none"><path d="M1365.3,1140.3H1389.5M1377.4,1140.3V1144.3M1365.3,1144.3H1389.5"/><path d="M1392.9,1138.4H1417.1M1405.0,1138.4V1142.2M1392.9,1142.2H1417.1"/><path d="M1420.5,1109.5H1444.7M1432.6,1109.5V1136.5M1420.5,1136.5H1444.7"/><path d="M1475.7,1139.1H1499.9M1487.8,1139.1V1143.4M1475.7,1143.4H1499.9"/><path d="M1530.9,986.2H1555.1M1543.0,986.2V1034.1M1530.9,1034.1H1555.1"/><path d="M1586.1,988.6H1610.3M1598.2,988.6V999.0M1586.1,999.0H1610.3"/><path d="M1806.9,925.6H1831.1M1819.0,925.6V931.3M1806.9,931.3H1831.1"/></g>
<g fill="#377EB8"><circle cx="1377.4" cy="1142.2" r="6.8"/><circle cx="1405.0" cy="1140.3" r="6.8"/><circle cx="1432.6" cy="1121.8" r="6.8"/><circle cx="1487.8" cy="1141.1" r="6.8"/><circle cx="1543.0" cy="1010.4" r="6.8"/><circle cx="1598.2" cy="993.8" r="6.8"/><circle cx="1819.0" cy="928.5" r="6.8"/></g>
<g stroke="#4DAF4A" stroke-width="3" fill="none"><path d="M1365.3,1143.7H1389.5M1377.4,1143.7V1147.6M1365.3,1147.6H1389.5"/><path d="M1392.9,1143.0H1417.1M1405.0,1143.0V1146.8M1392.9,1146.8H1417.1"/><path d="M1420.5,1144.1H1444.7M1432.6,1144.1V1180.2M1420.5,1180.2H1444.7"/><path d="M1475.7,973.0H1499.9M1487.8,973.0V994.9M1475.7,994.9H1499.9"/><path d="M1530.9,963.8H1555.1M1543.0,963.8V968.6M1530.9,968.6H1555.1"/><path d="M1586.1,915.3H1610.3M1598.2,915.3V926.4M1586.1,926.4H1610.3"/><path d="M1806.9,918.0H1831.1M1819.0,918.0V921.8M1806.9,921.8H1831.1"/></g>
<g fill="#4DAF4A"><circle cx="1377.4" cy="1145.6" r="6.8"/><circle cx="1405.0" cy="1144.9" r="6.8"/><circle cx="1432.6" cy="1162.3" r="6.8"/><circle cx="1487.8" cy="984.2" r="6.8"/><circle cx="1543.0" cy="966.1" r="6.8"/><circle cx="1598.2" cy="920.8" r="6.8"/><circle cx="1819.0" cy="919.9" r="6.8"/></g>
<line x1="1342.1" y1="901.8" x2="1342.1" y2="1197.8" stroke="#000" stroke-width="3.2"/>
<line x1="1340.6" y1="1196.3" x2="1855.9" y2="1196.3" stroke="#000" stroke-width="3.2"/>
<line x1="1333.7" y1="904.6" x2="1342.1" y2="904.6" stroke="#000" stroke-width="3.2"/>
<text x="1326.8" y="911.3" font-size="19.20" text-anchor="end">24</text>
<line x1="1333.7" y1="981.0" x2="1342.1" y2="981.0" stroke="#000" stroke-width="3.2"/>
<text x="1326.8" y="987.7" font-size="19.20" text-anchor="end">20</text>
<line x1="1333.7" y1="1057.4" x2="1342.1" y2="1057.4" stroke="#000" stroke-width="3.2"/>
<text x="1326.8" y="1064.1" font-size="19.20" text-anchor="end">16</text>
<line x1="1333.7" y1="1133.8" x2="1342.1" y2="1133.8" stroke="#000" stroke-width="3.2"/>
<text x="1326.8" y="1140.5" font-size="19.20" text-anchor="end">12</text>
<line x1="1377.4" y1="1196.3" x2="1377.4" y2="1204.8" stroke="#000" stroke-width="3.2"/>
<text x="1377.4" y="1226.1" font-size="19.20" text-anchor="middle">0</text>
<line x1="1469.4" y1="1196.3" x2="1469.4" y2="1204.8" stroke="#000" stroke-width="3.2"/>
<text x="1469.4" y="1226.1" font-size="19.20" text-anchor="middle">10</text>
<line x1="1561.4" y1="1196.3" x2="1561.4" y2="1204.8" stroke="#000" stroke-width="3.2"/>
<text x="1561.4" y="1226.1" font-size="19.20" text-anchor="middle">20</text>
<line x1="1653.4" y1="1196.3" x2="1653.4" y2="1204.8" stroke="#000" stroke-width="3.2"/>
<text x="1653.4" y="1226.1" font-size="19.20" text-anchor="middle">30</text>
<line x1="1745.4" y1="1196.3" x2="1745.4" y2="1204.8" stroke="#000" stroke-width="3.2"/>
<text x="1745.4" y="1226.1" font-size="19.20" text-anchor="middle">40</text>
<line x1="1837.4" y1="1196.3" x2="1837.4" y2="1204.8" stroke="#000" stroke-width="3.2"/>
<text x="1837.4" y="1226.1" font-size="19.20" text-anchor="middle">50</text>
<text x="1597.0" y="1249.4" font-size="19.20" text-anchor="middle">Treatment Duration (h)</text>
<text x="1291.0" y="1048.0" font-size="18.8" text-anchor="middle" transform="rotate(-90 1291.0 1048.0)">Log<tspan font-size="12.5" dy="4">10</tspan><tspan dy="-4" font-size="24.5">(</tspan>Normalized Intensity<tspan font-size="24.5">)</tspan></text>
<text x="1347.2" y="923.8" font-size="25.50">R-P4HB|18D</text>
<text x="1347.2" y="950.8" font-size="25.50">n=2</text>
<text x="30.2" y="1744.6" font-size="38.00" font-weight="bold">l</text>
<polyline points="132.9,1977.1 160.5,1980.6 188.1,1969.3 243.3,1988.7 298.5,1974.3 353.7,1977.8 574.5,1977.1" fill="none" stroke="#F9D0D1" stroke-width="3.4" stroke-linejoin="round"/>
<polyline points="132.9,1982.0 160.5,1978.8 188.1,1970.0 243.3,1981.7 298.5,1957.0 353.7,1852.1 574.5,1762.7" fill="none" stroke="#D5E3F0" stroke-width="3.4" stroke-linejoin="round"/>
<polyline points="132.9,1987.6 160.5,1985.9 188.1,2004.9 243.3,1919.7 298.5,1877.1 353.7,1802.5 574.5,1802.5" fill="none" stroke="#D8EDD7" stroke-width="3.4" stroke-linejoin="round"/>
<g stroke="#E41A1C" stroke-width="3" fill="none"><path d="M120.8,1973.6H145.0M132.9,1973.6V1980.6M120.8,1980.6H145.0"/><path d="M148.4,1978.8H172.6M160.5,1978.8V1982.4M148.4,1982.4H172.6"/><path d="M176.0,1963.4H200.2M188.1,1963.4V1977.1M176.0,1977.1H200.2"/><path d="M231.2,1975.0H255.4M243.3,1975.0V2004.2M231.2,2004.2H255.4"/><path d="M286.4,1970.0H310.6M298.5,1970.0V1978.8M286.4,1978.8H310.6"/><path d="M341.6,1976.0H365.8M353.7,1976.0V1979.5M341.6,1979.5H365.8"/><path d="M562.4,1975.3H586.6M574.5,1975.3V1978.8M562.4,1978.8H586.6"/></g>
<g fill="#E41A1C"><circle cx="132.9" cy="1977.1" r="6.8"/><circle cx="160.5" cy="1980.6" r="6.8"/><circle cx="188.1" cy="1969.3" r="6.8"/><circle cx="243.3" cy="1988.7" r="6.8"/><circle cx="298.5" cy="1974.3" r="6.8"/><circle cx="353.7" cy="1977.8" r="6.8"/><circle cx="574.5" cy="1977.1" r="6.8"/></g>
<g stroke="#377EB8" stroke-width="3" fill="none"><path d="M120.8,1979.9H145.0M132.9,1979.9V1984.1M120.8,1984.1H145.0"/><path d="M148.4,1977.1H172.6M160.5,1977.1V1980.6M148.4,1980.6H172.6"/><path d="M176.0,1967.2H200.2M188.1,1967.2V1972.9M176.0,1972.9H200.2"/><path d="M231.2,1977.8H255.4M243.3,1977.8V1985.5M231.2,1985.5H255.4"/><path d="M286.4,1934.5H310.6M298.5,1934.5V1978.8M286.4,1978.8H310.6"/><path d="M341.6,1850.4H365.8M353.7,1850.4V1853.9M341.6,1853.9H365.8"/><path d="M562.4,1757.8H586.6M574.5,1757.8V1767.6M562.4,1767.6H586.6"/></g>
<g fill="#377EB8"><circle cx="132.9" cy="1982.0" r="6.8"/><circle cx="160.5" cy="1978.8" r="6.8"/><circle cx="188.1" cy="1970.0" r="6.8"/><circle cx="243.3" cy="1981.7" r="6.8"/><circle cx="298.5" cy="1957.0" r="6.8"/><circle cx="353.7" cy="1852.1" r="6.8"/><circle cx="574.5" cy="1762.7" r="6.8"/></g>
<g stroke="#4DAF4A" stroke-width="3" fill="none"><path d="M120.8,1985.5H145.0M132.9,1985.5V1989.4M120.8,1989.4H145.0"/><path d="M148.4,1984.1H172.6M160.5,1984.1V1987.6M148.4,1987.6H172.6"/><path d="M176.0,1984.8H200.2M188.1,1984.8V2025.3M176.0,2025.3H200.2"/><path d="M231.2,1847.2H255.4M243.3,1847.2V1992.6M231.2,1992.6H255.4"/><path d="M286.4,1864.8H310.6M298.5,1864.8V1889.1M286.4,1889.1H310.6"/><path d="M341.6,1780.7H365.8M353.7,1780.7V1824.0M341.6,1824.0H365.8"/><path d="M562.4,1800.4H586.6M574.5,1800.4V1804.6M562.4,1804.6H586.6"/></g>
<g fill="#4DAF4A"><circle cx="132.9" cy="1987.6" r="6.8"/><circle cx="160.5" cy="1985.9" r="6.8"/><circle cx="188.1" cy="2004.9" r="6.8"/><circle cx="243.3" cy="1919.7" r="6.8"/><circle cx="298.5" cy="1877.1" r="6.8"/><circle cx="353.7" cy="1802.5" r="6.8"/><circle cx="574.5" cy="1802.5" r="6.8"/></g>
<line x1="97.6" y1="1743.4" x2="97.6" y2="2040.5" stroke="#000" stroke-width="3.2"/>
<line x1="96.1" y1="2039.0" x2="611.4" y2="2039.0" stroke="#000" stroke-width="3.2"/>
<line x1="89.2" y1="1804.6" x2="97.6" y2="1804.6" stroke="#000" stroke-width="3.2"/>
<text x="82.3" y="1811.3" font-size="19.20" text-anchor="end">18</text>
<line x1="89.2" y1="1875.0" x2="97.6" y2="1875.0" stroke="#000" stroke-width="3.2"/>
<text x="82.3" y="1881.7" font-size="19.20" text-anchor="end">16</text>
<line x1="89.2" y1="1945.4" x2="97.6" y2="1945.4" stroke="#000" stroke-width="3.2"/>
<text x="82.3" y="1952.1" font-size="19.20" text-anchor="end">14</text>
<line x1="89.2" y1="2015.8" x2="97.6" y2="2015.8" stroke="#000" stroke-width="3.2"/>
<text x="82.3" y="2022.5" font-size="19.20" text-anchor="end">12</text>
<line x1="132.9" y1="2039.0" x2="132.9" y2="2047.5" stroke="#000" stroke-width="3.2"/>
<text x="132.9" y="2066.1" font-size="19.20" text-anchor="middle">0</text>
<line x1="224.9" y1="2039.0" x2="224.9" y2="2047.5" stroke="#000" stroke-width="3.2"/>
<text x="224.9" y="2066.1" font-size="19.20" text-anchor="middle">10</text>
<line x1="316.9" y1="2039.0" x2="316.9" y2="2047.5" stroke="#000" stroke-width="3.2"/>
<text x="316.9" y="2066.1" font-size="19.20" text-anchor="middle">20</text>
<line x1="408.9" y1="2039.0" x2="408.9" y2="2047.5" stroke="#000" stroke-width="3.2"/>
<text x="408.9" y="2066.1" font-size="19.20" text-anchor="middle">30</text>
<line x1="500.9" y1="2039.0" x2="500.9" y2="2047.5" stroke="#000" stroke-width="3.2"/>
<text x="500.9" y="2066.1" font-size="19.20" text-anchor="middle">40</text>
<line x1="592.9" y1="2039.0" x2="592.9" y2="2047.5" stroke="#000" stroke-width="3.2"/>
<text x="592.9" y="2066.1" font-size="19.20" text-anchor="middle">50</text>
<text x="354.5" y="2092.1" font-size="19.20" text-anchor="middle">Treatment Duration (h)</text>
<text x="48.0" y="1890.2" font-size="18.8" text-anchor="middle" transform="rotate(-90 48.0 1890.2)">Log<tspan font-size="12.5" dy="4">10</tspan><tspan dy="-4" font-size="24.5">(</tspan>Normalized Intensity<tspan font-size="24.5">)</tspan></text>
<text x="105.4" y="1765.4" font-size="25.50">R-EIF4B|46D</text>
<text x="105.4" y="1792.4" font-size="25.50">n=2</text>
<line x1="408.8" y1="1873.2" x2="439.8" y2="1873.2" stroke="#E41A1C" stroke-width="3.2"/>
<circle cx="424.3" cy="1873.2" r="6.8" fill="#E41A1C"/>
<text x="444.8" y="1882.2" font-size="25.00">MOCK</text>
<line x1="408.8" y1="1904.5" x2="439.8" y2="1904.5" stroke="#377EB8" stroke-width="3.2"/>
<circle cx="424.3" cy="1904.5" r="6.8" fill="#377EB8"/>
<text x="444.8" y="1913.5" font-size="25.00">MG132</text>
<line x1="408.8" y1="1935.8" x2="439.8" y2="1935.8" stroke="#4DAF4A" stroke-width="3.2"/>
<circle cx="424.3" cy="1935.8" r="6.8" fill="#4DAF4A"/>
<text x="444.8" y="1944.8" font-size="25.00">MGTG</text>
<text x="631.6" y="1744.6" font-size="38.00" font-weight="bold">m</text>
<polyline points="769.2,1995.4 795.9,1998.4 822.7,1989.9 876.1,2003.6 929.6,1993.7 983.1,1996.4 1196.9,1995.7" fill="none" stroke="#F9D0D1" stroke-width="3.4" stroke-linejoin="round"/>
<polyline points="769.2,1999.1 795.9,1997.4 822.7,1991.3 876.1,1945.9 929.6,1791.1 983.1,1829.6 1196.9,1778.5" fill="none" stroke="#D5E3F0" stroke-width="3.4" stroke-linejoin="round"/>
<polyline points="769.2,2001.5 795.9,2001.5 822.7,2013.8 876.1,1789.1 929.6,1781.2 983.1,1855.9 1196.9,1765.2" fill="none" stroke="#D8EDD7" stroke-width="3.4" stroke-linejoin="round"/>
<g stroke="#E41A1C" stroke-width="3" fill="none"><path d="M757.1,1993.0H781.3M769.2,1993.0V1997.8M757.1,1997.8H781.3"/><path d="M783.8,1996.7H808.0M795.9,1996.7V2000.1M783.8,2000.1H808.0"/><path d="M810.6,1986.8H834.8M822.7,1986.8V1993.0M810.6,1993.0H834.8"/><path d="M864.0,1994.3H888.2M876.1,1994.3V2013.1M864.0,2013.1H888.2"/><path d="M917.5,1990.9H941.7M929.6,1990.9V1996.4M917.5,1996.4H941.7"/><path d="M971.0,1994.3H995.2M983.1,1994.3V1998.4M971.0,1998.4H995.2"/><path d="M1184.8,1993.7H1209.0M1196.9,1993.7V1997.8M1184.8,1997.8H1209.0"/></g>
<g fill="#E41A1C"><circle cx="769.2" cy="1995.4" r="6.8"/><circle cx="795.9" cy="1998.4" r="6.8"/><circle cx="822.7" cy="1989.9" r="6.8"/><circle cx="876.1" cy="2003.6" r="6.8"/><circle cx="929.6" cy="1993.7" r="6.8"/><circle cx="983.1" cy="1996.4" r="6.8"/><circle cx="1196.9" cy="1995.7" r="6.8"/></g>
<g stroke="#377EB8" stroke-width="3" fill="none"><path d="M757.1,1997.1H781.3M769.2,1997.1V2001.2M757.1,2001.2H781.3"/><path d="M783.8,1995.7H808.0M795.9,1995.7V1999.1M783.8,1999.1H808.0"/><path d="M810.6,1988.9H834.8M822.7,1988.9V1993.7M810.6,1993.7H834.8"/><path d="M864.0,1920.0H888.2M876.1,1920.0V1972.5M864.0,1972.5H888.2"/><path d="M917.5,1788.4H941.7M929.6,1788.4V1793.8M917.5,1793.8H941.7"/><path d="M971.0,1822.1H995.2M983.1,1822.1V1837.5M971.0,1837.5H995.2"/><path d="M1184.8,1776.4H1209.0M1196.9,1776.4V1780.5M1184.8,1780.5H1209.0"/></g>
<g fill="#377EB8"><circle cx="769.2" cy="1999.1" r="6.8"/><circle cx="795.9" cy="1997.4" r="6.8"/><circle cx="822.7" cy="1991.3" r="6.8"/><circle cx="876.1" cy="1945.9" r="6.8"/><circle cx="929.6" cy="1791.1" r="6.8"/><circle cx="983.1" cy="1829.6" r="6.8"/><circle cx="1196.9" cy="1778.5" r="6.8"/></g>
<g stroke="#4DAF4A" stroke-width="3" fill="none"><path d="M757.1,1999.5H781.3M769.2,1999.5V2003.6M757.1,2003.6H781.3"/><path d="M783.8,1999.5H808.0M795.9,1999.5V2003.6M783.8,2003.6H808.0"/><path d="M810.6,1999.1H834.8M822.7,1999.1V2027.4M810.6,2027.4H834.8"/><path d="M864.0,1786.7H888.2M876.1,1786.7V1791.5M864.0,1791.5H888.2"/><path d="M917.5,1771.0H941.7M929.6,1771.0V1791.8M917.5,1791.8H941.7"/><path d="M971.0,1823.2H995.2M983.1,1823.2V1888.0M971.0,1888.0H995.2"/><path d="M1184.8,1760.4H1209.0M1196.9,1760.4V1770.0M1184.8,1770.0H1209.0"/></g>
<g fill="#4DAF4A"><circle cx="769.2" cy="2001.5" r="6.8"/><circle cx="795.9" cy="2001.5" r="6.8"/><circle cx="822.7" cy="2013.8" r="6.8"/><circle cx="876.1" cy="1789.1" r="6.8"/><circle cx="929.6" cy="1781.2" r="6.8"/><circle cx="983.1" cy="1855.9" r="6.8"/><circle cx="1196.9" cy="1765.2" r="6.8"/></g>
<line x1="734.3" y1="1745.7" x2="734.3" y2="2043.2" stroke="#000" stroke-width="3.2"/>
<line x1="732.8" y1="2041.7" x2="1232.2" y2="2041.7" stroke="#000" stroke-width="3.2"/>
<line x1="725.9" y1="1814.3" x2="734.3" y2="1814.3" stroke="#000" stroke-width="3.2"/>
<text x="719.0" y="1821.0" font-size="19.20" text-anchor="end">17.5</text>
<line x1="725.9" y1="1899.5" x2="734.3" y2="1899.5" stroke="#000" stroke-width="3.2"/>
<text x="719.0" y="1906.2" font-size="19.20" text-anchor="end">15.0</text>
<line x1="725.9" y1="1984.8" x2="734.3" y2="1984.8" stroke="#000" stroke-width="3.2"/>
<text x="719.0" y="1991.5" font-size="19.20" text-anchor="end">12.5</text>
<line x1="769.2" y1="2041.7" x2="769.2" y2="2050.2" stroke="#000" stroke-width="3.2"/>
<text x="769.2" y="2068.1" font-size="19.20" text-anchor="middle">0</text>
<line x1="858.3" y1="2041.7" x2="858.3" y2="2050.2" stroke="#000" stroke-width="3.2"/>
<text x="858.3" y="2068.1" font-size="19.20" text-anchor="middle">10</text>
<line x1="947.4" y1="2041.7" x2="947.4" y2="2050.2" stroke="#000" stroke-width="3.2"/>
<text x="947.4" y="2068.1" font-size="19.20" text-anchor="middle">20</text>
<line x1="1036.5" y1="2041.7" x2="1036.5" y2="2050.2" stroke="#000" stroke-width="3.2"/>
<text x="1036.5" y="2068.1" font-size="19.20" text-anchor="middle">30</text>
<line x1="1125.6" y1="2041.7" x2="1125.6" y2="2050.2" stroke="#000" stroke-width="3.2"/>
<text x="1125.6" y="2068.1" font-size="19.20" text-anchor="middle">40</text>
<line x1="1214.8" y1="2041.7" x2="1214.8" y2="2050.2" stroke="#000" stroke-width="3.2"/>
<text x="1214.8" y="2068.1" font-size="19.20" text-anchor="middle">50</text>
<text x="984.2" y="2093.3" font-size="19.20" text-anchor="middle">Treatment Duration (h)</text>
<text x="670.0" y="1892.7" font-size="18.8" text-anchor="middle" transform="rotate(-90 670.0 1892.7)">Log<tspan font-size="12.5" dy="4">10</tspan><tspan dy="-4" font-size="24.5">(</tspan>Normalized Intensity<tspan font-size="24.5">)</tspan></text>
<text x="740.9" y="1767.7" font-size="25.50">R-FLNA|1502N</text>
<text x="740.9" y="1794.7" font-size="25.50">n=2</text>
<text x="1261.9" y="1744.6" font-size="38.00" font-weight="bold">n</text>
<polyline points="1367.7,1990.5 1395.3,1989.6 1422.9,1991.4 1478.1,1871.0 1533.3,1858.9 1588.5,1990.5 1809.3,1990.5" fill="none" stroke="#F9D0D1" stroke-width="3.4" stroke-linejoin="round"/>
<polyline points="1367.7,1989.6 1395.3,1989.6 1422.9,1913.0 1478.1,1857.6 1533.3,1909.1 1588.5,1907.4 1809.3,1769.7" fill="none" stroke="#D5E3F0" stroke-width="3.4" stroke-linejoin="round"/>
<polyline points="1367.7,1988.8 1395.3,1988.8 1422.9,1986.6 1478.1,1819.5 1533.3,1867.5 1588.5,1961.5 1809.3,1791.8" fill="none" stroke="#D8EDD7" stroke-width="3.4" stroke-linejoin="round"/>
<g stroke="#E41A1C" stroke-width="3" fill="none"><path d="M1355.6,1988.8H1379.8M1367.7,1988.8V1992.2M1355.6,1992.2H1379.8"/><path d="M1383.2,1987.9H1407.4M1395.3,1987.9V1991.4M1383.2,1991.4H1407.4"/><path d="M1410.8,1988.8H1435.0M1422.9,1988.8V1994.0M1410.8,1994.0H1435.0"/><path d="M1466.0,1838.5H1490.2M1478.1,1838.5V1902.2M1466.0,1902.2H1490.2"/><path d="M1521.2,1760.1H1545.4M1533.3,1760.1V1956.7M1521.2,1956.7H1545.4"/><path d="M1576.4,1987.9H1600.6M1588.5,1987.9V1993.1M1576.4,1993.1H1600.6"/><path d="M1797.2,1988.3H1821.4M1809.3,1988.3V1992.7M1797.2,1992.7H1821.4"/></g>
<g fill="#E41A1C"><circle cx="1367.7" cy="1990.5" r="6.8"/><circle cx="1395.3" cy="1989.6" r="6.8"/><circle cx="1422.9" cy="1991.4" r="6.8"/><circle cx="1478.1" cy="1871.0" r="6.8"/><circle cx="1533.3" cy="1858.9" r="6.8"/><circle cx="1588.5" cy="1990.5" r="6.8"/><circle cx="1809.3" cy="1990.5" r="6.8"/></g>
<g stroke="#377EB8" stroke-width="3" fill="none"><path d="M1355.6,1987.9H1379.8M1367.7,1987.9V1991.4M1355.6,1991.4H1379.8"/><path d="M1383.2,1987.9H1407.4M1395.3,1987.9V1991.4M1383.2,1991.4H1407.4"/><path d="M1410.8,1876.2H1435.0M1422.9,1876.2V1949.8M1410.8,1949.8H1435.0"/><path d="M1466.0,1821.2H1490.2M1478.1,1821.2V1894.4M1466.0,1894.4H1490.2"/><path d="M1521.2,1793.1H1545.4M1533.3,1793.1V2024.7M1521.2,2024.7H1545.4"/><path d="M1576.4,1868.4H1600.6M1588.5,1868.4V1945.0M1576.4,1945.0H1600.6"/><path d="M1797.2,1758.0H1821.4M1809.3,1758.0V1781.4M1797.2,1781.4H1821.4"/></g>
<g fill="#377EB8"><circle cx="1367.7" cy="1989.6" r="6.8"/><circle cx="1395.3" cy="1989.6" r="6.8"/><circle cx="1422.9" cy="1913.0" r="6.8"/><circle cx="1478.1" cy="1857.6" r="6.8"/><circle cx="1533.3" cy="1909.1" r="6.8"/><circle cx="1588.5" cy="1907.4" r="6.8"/><circle cx="1809.3" cy="1769.7" r="6.8"/></g>
<g stroke="#4DAF4A" stroke-width="3" fill="none"><path d="M1355.6,1987.0H1379.8M1367.7,1987.0V1990.5M1355.6,1990.5H1379.8"/><path d="M1383.2,1987.0H1407.4M1395.3,1987.0V1990.5M1383.2,1990.5H1407.4"/><path d="M1410.8,1983.6H1435.0M1422.9,1983.6V1989.6M1410.8,1989.6H1435.0"/><path d="M1466.0,1802.6H1490.2M1478.1,1802.6V1835.5M1466.0,1835.5H1490.2"/><path d="M1521.2,1854.1H1545.4M1533.3,1854.1V1881.4M1521.2,1881.4H1545.4"/><path d="M1576.4,1922.1H1600.6M1588.5,1922.1V2000.0M1576.4,2000.0H1600.6"/><path d="M1797.2,1782.2H1821.4M1809.3,1782.2V1800.0M1797.2,1800.0H1821.4"/></g>
<g fill="#4DAF4A"><circle cx="1367.7" cy="1988.8" r="6.8"/><circle cx="1395.3" cy="1988.8" r="6.8"/><circle cx="1422.9" cy="1986.6" r="6.8"/><circle cx="1478.1" cy="1819.5" r="6.8"/><circle cx="1533.3" cy="1867.5" r="6.8"/><circle cx="1588.5" cy="1961.5" r="6.8"/><circle cx="1809.3" cy="1791.8" r="6.8"/></g>
<line x1="1332.8" y1="1744.6" x2="1332.8" y2="2040.5" stroke="#000" stroke-width="3.2"/>
<line x1="1331.3" y1="2039.0" x2="1845.8" y2="2039.0" stroke="#000" stroke-width="3.2"/>
<line x1="1324.4" y1="1825.1" x2="1332.8" y2="1825.1" stroke="#000" stroke-width="3.2"/>
<text x="1317.5" y="1831.8" font-size="19.20" text-anchor="end">16</text>
<line x1="1324.4" y1="1911.7" x2="1332.8" y2="1911.7" stroke="#000" stroke-width="3.2"/>
<text x="1317.5" y="1918.4" font-size="19.20" text-anchor="end">14</text>
<line x1="1324.4" y1="1998.3" x2="1332.8" y2="1998.3" stroke="#000" stroke-width="3.2"/>
<text x="1317.5" y="2005.0" font-size="19.20" text-anchor="end">12</text>
<line x1="1367.7" y1="2039.0" x2="1367.7" y2="2047.5" stroke="#000" stroke-width="3.2"/>
<text x="1367.7" y="2066.1" font-size="19.20" text-anchor="middle">0</text>
<line x1="1459.7" y1="2039.0" x2="1459.7" y2="2047.5" stroke="#000" stroke-width="3.2"/>
<text x="1459.7" y="2066.1" font-size="19.20" text-anchor="middle">10</text>
<line x1="1551.7" y1="2039.0" x2="1551.7" y2="2047.5" stroke="#000" stroke-width="3.2"/>
<text x="1551.7" y="2066.1" font-size="19.20" text-anchor="middle">20</text>
<line x1="1643.7" y1="2039.0" x2="1643.7" y2="2047.5" stroke="#000" stroke-width="3.2"/>
<text x="1643.7" y="2066.1" font-size="19.20" text-anchor="middle">30</text>
<line x1="1735.7" y1="2039.0" x2="1735.7" y2="2047.5" stroke="#000" stroke-width="3.2"/>
<text x="1735.7" y="2066.1" font-size="19.20" text-anchor="middle">40</text>
<line x1="1827.7" y1="2039.0" x2="1827.7" y2="2047.5" stroke="#000" stroke-width="3.2"/>
<text x="1827.7" y="2066.1" font-size="19.20" text-anchor="middle">50</text>
<text x="1589.3" y="2092.0" font-size="19.20" text-anchor="middle">Treatment Duration (h)</text>
<text x="1285.0" y="1890.8" font-size="18.8" text-anchor="middle" transform="rotate(-90 1285.0 1890.8)">Log<tspan font-size="12.5" dy="4">10</tspan><tspan dy="-4" font-size="24.5">(</tspan>Normalized Intensity<tspan font-size="24.5">)</tspan></text>
<text x="1338.6" y="1766.6" font-size="25.50">FLNA|1502N</text>
<text x="1338.6" y="1793.6" font-size="25.50">n=2</text></g>
<g id="pj"><defs><filter id="bl" x="-20%" y="-100%" width="140%" height="300%"><feGaussianBlur stdDeviation="1.1"/></filter><filter id="nz" x="0" y="0" width="100%" height="100%" color-interpolation-filters="sRGB"><feTurbulence type="fractalNoise" baseFrequency="0.8" numOctaves="1" seed="4" result="n"/><feColorMatrix in="n" type="matrix" values="1 0 0 0 0  1 0 0 0 0  1 0 0 0 0  0 0 0 0 1" result="g"/><feComposite in="SourceGraphic" in2="g" operator="arithmetic" k1="0" k2="1" k3="0.7" k4="-0.35"/></filter><filter id="nz2" x="0" y="0" width="100%" height="100%" color-interpolation-filters="sRGB"><feTurbulence type="fractalNoise" baseFrequency="0.8" numOctaves="1" seed="9" result="n"/><feColorMatrix in="n" type="matrix" values="1 0 0 0 0  1 0 0 0 0  1 0 0 0 0  0 0 0 0 1" result="g"/><feComposite in="SourceGraphic" in2="g" operator="arithmetic" k1="0" k2="1" k3="0.25" k4="-0.125"/></filter></defs>
<text x="27.8" y="1294.0" font-size="38.00" font-weight="bold">j</text>
<text x="341.6" y="1282.0" font-size="25.00" text-anchor="middle">DMSO (h)</text>
<line x1="143.1" y1="1300.7" x2="518.2" y2="1300.7" stroke="#000" stroke-width="3.2"/>
<text x="715.5" y="1282.0" font-size="25.00" text-anchor="middle">MG132 (h)</text>
<line x1="523.2" y1="1300.7" x2="898.0" y2="1300.7" stroke="#000" stroke-width="3.2"/>
<text x="1100.0" y="1282.0" font-size="25.00" text-anchor="middle">MGTG (h)</text>
<line x1="904.0" y1="1300.7" x2="1279.2" y2="1300.7" stroke="#000" stroke-width="3.2"/>
<text x="177.5" y="1330.0" font-size="24.50" text-anchor="middle">0</text>
<text x="227.9" y="1330.0" font-size="24.50" text-anchor="middle">3</text>
<text x="276.9" y="1330.0" font-size="24.50" text-anchor="middle">6</text>
<text x="326.2" y="1330.0" font-size="24.50" text-anchor="middle">12</text>
<text x="375.3" y="1330.0" font-size="24.50" text-anchor="middle">18</text>
<text x="430.9" y="1330.0" font-size="24.50" text-anchor="middle">24</text>
<text x="480.6" y="1330.0" font-size="24.50" text-anchor="middle">48</text>
<text x="562.0" y="1330.0" font-size="24.50" text-anchor="middle">0</text>
<text x="612.0" y="1330.0" font-size="24.50" text-anchor="middle">3</text>
<text x="660.4" y="1330.0" font-size="24.50" text-anchor="middle">6</text>
<text x="710.4" y="1330.0" font-size="24.50" text-anchor="middle">12</text>
<text x="759.7" y="1330.0" font-size="24.50" text-anchor="middle">18</text>
<text x="815.4" y="1330.0" font-size="24.50" text-anchor="middle">24</text>
<text x="864.7" y="1330.0" font-size="24.50" text-anchor="middle">48</text>
<text x="943.0" y="1330.0" font-size="24.50" text-anchor="middle">0</text>
<text x="992.6" y="1330.0" font-size="24.50" text-anchor="middle">3</text>
<text x="1041.7" y="1330.0" font-size="24.50" text-anchor="middle">6</text>
<text x="1091.8" y="1330.0" font-size="24.50" text-anchor="middle">12</text>
<text x="1141.9" y="1330.0" font-size="24.50" text-anchor="middle">18</text>
<text x="1196.6" y="1330.0" font-size="24.50" text-anchor="middle">24</text>
<text x="1246.1" y="1330.0" font-size="24.50" text-anchor="middle">48</text>
<text x="108.5" y="1336.6" font-size="21.00">kDa</text>
<rect x="147.0" y="1348.0" width="371.0" height="34.0" fill="#d8d8d8" filter="url(#nz)"/>
<rect x="147.0" y="1388.0" width="371.0" height="34.0" fill="#999999" filter="url(#nz2)"/>
<rect x="147.0" y="1427.0" width="371.0" height="32.0" fill="#f2f2f2"/>
<rect x="147.0" y="1464.0" width="371.0" height="35.0" fill="#dadada" filter="url(#nz)"/>
<rect x="147.0" y="1504.0" width="371.0" height="35.0" fill="#ececec"/>
<rect x="147.0" y="1544.0" width="371.0" height="35.0" fill="#dcdcdc" filter="url(#nz)"/>
<rect x="147.0" y="1584.0" width="371.0" height="34.0" fill="#e8e8e8" filter="url(#nz)"/>
<rect x="147.0" y="1623.0" width="371.0" height="36.0" fill="#d9d9d9" filter="url(#nz)"/>
<rect x="147.0" y="1663.0" width="371.0" height="37.0" fill="#f3f3f3"/>
<g filter="url(#bl)"><rect x="199.5" y="1357.5" width="39.0" height="4.0" rx="2.0" fill="#000" fill-opacity="0.35"/><rect x="251.8" y="1357.5" width="39.0" height="4.0" rx="2.0" fill="#000" fill-opacity="0.35"/><rect x="305.8" y="1357.5" width="39.0" height="4.0" rx="2.0" fill="#000" fill-opacity="0.3"/><rect x="361.3" y="1359.0" width="39.0" height="4.0" rx="2.0" fill="#000" fill-opacity="0.2"/><rect x="415.3" y="1361.0" width="39.0" height="4.0" rx="2.0" fill="#000" fill-opacity="0.18"/><rect x="467.6" y="1365.7" width="39.0" height="4.0" rx="2.0" fill="#000" fill-opacity="0.3"/><rect x="153.8" y="1439.3" width="39.0" height="5.0" rx="2.5" fill="#000" fill-opacity="0.95"/><rect x="199.5" y="1438.5" width="39.0" height="5.0" rx="2.5" fill="#000" fill-opacity="0.92"/><rect x="251.8" y="1437.8" width="39.0" height="5.0" rx="2.5" fill="#000" fill-opacity="0.95"/><rect x="305.8" y="1437.5" width="39.0" height="5.0" rx="2.5" fill="#000" fill-opacity="0.95"/><rect x="361.3" y="1436.5" width="39.0" height="5.0" rx="2.5" fill="#000" fill-opacity="0.9"/><rect x="416.3" y="1435.2" width="37.0" height="4.5" rx="2.2" fill="#000" fill-opacity="0.8"/><rect x="468.6" y="1433.8" width="37.0" height="4.5" rx="2.2" fill="#000" fill-opacity="0.65"/><rect x="307.8" y="1470.0" width="35.0" height="4.0" rx="2.0" fill="#000" fill-opacity="0.15"/><rect x="363.3" y="1469.0" width="35.0" height="4.0" rx="2.0" fill="#000" fill-opacity="0.15"/><rect x="152.8" y="1527.8" width="41.0" height="9.5" rx="4.8" fill="#000" fill-opacity="1"/><rect x="199.5" y="1524.8" width="39.0" height="9.5" rx="4.8" fill="#000" fill-opacity="1"/><rect x="250.8" y="1521.2" width="41.0" height="9.5" rx="4.8" fill="#000" fill-opacity="1"/><rect x="303.8" y="1516.8" width="43.0" height="9.5" rx="4.8" fill="#000" fill-opacity="1"/><rect x="359.3" y="1514.8" width="43.0" height="9.5" rx="4.8" fill="#000" fill-opacity="1"/><rect x="413.3" y="1517.8" width="43.0" height="9.5" rx="4.8" fill="#000" fill-opacity="1"/><rect x="465.6" y="1519.8" width="43.0" height="9.5" rx="4.8" fill="#000" fill-opacity="1"/><rect x="305.8" y="1535.5" width="39.0" height="3.0" rx="1.5" fill="#000" fill-opacity="0.6"/><rect x="361.3" y="1535.0" width="39.0" height="3.0" rx="1.5" fill="#000" fill-opacity="0.5"/><rect x="415.3" y="1535.5" width="39.0" height="3.0" rx="1.5" fill="#000" fill-opacity="0.5"/><rect x="153.8" y="1558.6" width="39.0" height="4.0" rx="2.0" fill="#000" fill-opacity="0.28"/><rect x="199.5" y="1558.6" width="39.0" height="4.0" rx="2.0" fill="#000" fill-opacity="0.28"/><rect x="251.8" y="1558.6" width="39.0" height="4.0" rx="2.0" fill="#000" fill-opacity="0.28"/><rect x="305.8" y="1558.6" width="39.0" height="4.0" rx="2.0" fill="#000" fill-opacity="0.28"/><rect x="361.3" y="1558.6" width="39.0" height="4.0" rx="2.0" fill="#000" fill-opacity="0.28"/><rect x="415.3" y="1558.6" width="39.0" height="4.0" rx="2.0" fill="#000" fill-opacity="0.28"/><rect x="467.6" y="1558.6" width="39.0" height="4.0" rx="2.0" fill="#000" fill-opacity="0.28"/><rect x="154.8" y="1601.2" width="37.0" height="3.5" rx="1.8" fill="#000" fill-opacity="0.3"/><rect x="200.5" y="1601.2" width="37.0" height="3.5" rx="1.8" fill="#000" fill-opacity="0.28"/><rect x="252.8" y="1600.2" width="37.0" height="3.5" rx="1.8" fill="#000" fill-opacity="0.28"/><rect x="306.8" y="1599.2" width="37.0" height="3.5" rx="1.8" fill="#000" fill-opacity="0.35"/><rect x="362.3" y="1598.2" width="37.0" height="3.5" rx="1.8" fill="#000" fill-opacity="0.25"/><rect x="416.3" y="1598.2" width="37.0" height="3.5" rx="1.8" fill="#000" fill-opacity="0.3"/><rect x="467.6" y="1597.5" width="39.0" height="4.0" rx="2.0" fill="#000" fill-opacity="0.65"/><rect x="153.8" y="1680.5" width="39.0" height="5.0" rx="2.5" fill="#000" fill-opacity="1"/><rect x="199.5" y="1679.5" width="39.0" height="5.0" rx="2.5" fill="#000" fill-opacity="0.95"/><rect x="251.8" y="1679.5" width="39.0" height="5.0" rx="2.5" fill="#000" fill-opacity="0.95"/><rect x="304.8" y="1678.5" width="41.0" height="5.0" rx="2.5" fill="#000" fill-opacity="1"/><rect x="360.3" y="1678.5" width="41.0" height="5.0" rx="2.5" fill="#000" fill-opacity="1"/><rect x="414.3" y="1680.5" width="41.0" height="5.0" rx="2.5" fill="#000" fill-opacity="1"/><rect x="466.6" y="1684.5" width="41.0" height="5.0" rx="2.5" fill="#000" fill-opacity="1"/></g>
<rect x="527.0" y="1348.0" width="371.0" height="34.0" fill="#f6f6f6"/>
<rect x="527.0" y="1388.0" width="371.0" height="34.0" fill="#a4a4a4" filter="url(#nz2)"/>
<rect x="527.0" y="1427.0" width="371.0" height="32.0" fill="#f5f5f5"/>
<rect x="527.0" y="1464.0" width="371.0" height="35.0" fill="#d0d0d0" filter="url(#nz)"/>
<rect x="527.0" y="1504.0" width="371.0" height="35.0" fill="#ebebeb"/>
<rect x="527.0" y="1544.0" width="371.0" height="35.0" fill="#e0e0e0" filter="url(#nz)"/>
<rect x="527.0" y="1584.0" width="371.0" height="34.0" fill="#eaeaea" filter="url(#nz)"/>
<rect x="527.0" y="1623.0" width="371.0" height="36.0" fill="#d6d6d6" filter="url(#nz)"/>
<rect x="527.0" y="1663.0" width="371.0" height="37.0" fill="#f6f6f6"/>
<g filter="url(#bl)"><rect x="589.1" y="1363.2" width="41.0" height="5.5" rx="2.8" fill="#000" fill-opacity="0.85"/><rect x="635.9" y="1362.0" width="43.0" height="7.0" rx="3.5" fill="#000" fill-opacity="1"/><rect x="687.3" y="1361.0" width="43.0" height="8.0" rx="4.0" fill="#000" fill-opacity="1"/><rect x="738.4" y="1361.0" width="45.0" height="8.0" rx="4.0" fill="#000" fill-opacity="1"/><rect x="794.3" y="1362.8" width="41.0" height="5.5" rx="2.8" fill="#000" fill-opacity="0.75"/><rect x="740.4" y="1401.5" width="41.0" height="5.0" rx="2.5" fill="#000" fill-opacity="0.08"/><rect x="795.3" y="1405.0" width="39.0" height="6.0" rx="3.0" fill="#000" fill-opacity="0.3"/><rect x="848.7" y="1401.0" width="41.0" height="6.0" rx="3.0" fill="#000" fill-opacity="0.15"/><rect x="533.5" y="1437.0" width="39.0" height="4.0" rx="2.0" fill="#000" fill-opacity="0.85"/><rect x="590.1" y="1436.5" width="39.0" height="4.0" rx="2.0" fill="#000" fill-opacity="0.8"/><rect x="637.9" y="1436.5" width="39.0" height="4.0" rx="2.0" fill="#000" fill-opacity="0.8"/><rect x="688.3" y="1436.8" width="41.0" height="4.5" rx="2.2" fill="#000" fill-opacity="0.9"/><rect x="738.4" y="1436.0" width="45.0" height="6.0" rx="3.0" fill="#000" fill-opacity="1"/><rect x="792.3" y="1436.5" width="45.0" height="6.0" rx="3.0" fill="#000" fill-opacity="1"/><rect x="846.7" y="1436.5" width="45.0" height="7.0" rx="3.5" fill="#000" fill-opacity="1"/><rect x="795.3" y="1475.0" width="39.0" height="4.0" rx="2.0" fill="#000" fill-opacity="0.3"/><rect x="846.7" y="1474.0" width="45.0" height="6.0" rx="3.0" fill="#000" fill-opacity="1"/><rect x="531.5" y="1521.5" width="43.0" height="9.0" rx="4.5" fill="#000" fill-opacity="1"/><rect x="589.1" y="1518.0" width="41.0" height="9.0" rx="4.5" fill="#000" fill-opacity="1"/><rect x="635.9" y="1515.0" width="43.0" height="9.0" rx="4.5" fill="#000" fill-opacity="1"/><rect x="686.3" y="1517.5" width="45.0" height="9.0" rx="4.5" fill="#000" fill-opacity="1"/><rect x="738.4" y="1516.5" width="45.0" height="9.0" rx="4.5" fill="#000" fill-opacity="1"/><rect x="793.3" y="1517.0" width="43.0" height="8.0" rx="4.0" fill="#000" fill-opacity="1"/><rect x="847.7" y="1519.5" width="43.0" height="9.0" rx="4.5" fill="#000" fill-opacity="1"/><rect x="533.5" y="1556.7" width="39.0" height="4.0" rx="2.0" fill="#000" fill-opacity="0.3"/><rect x="590.1" y="1556.7" width="39.0" height="4.0" rx="2.0" fill="#000" fill-opacity="0.35"/><rect x="637.9" y="1556.0" width="39.0" height="4.0" rx="2.0" fill="#000" fill-opacity="0.3"/><rect x="689.3" y="1555.5" width="39.0" height="4.0" rx="2.0" fill="#000" fill-opacity="0.25"/><rect x="741.4" y="1555.5" width="39.0" height="4.0" rx="2.0" fill="#000" fill-opacity="0.3"/><rect x="794.3" y="1556.0" width="41.0" height="6.0" rx="3.0" fill="#000" fill-opacity="0.8"/><rect x="848.7" y="1556.0" width="41.0" height="6.0" rx="3.0" fill="#000" fill-opacity="0.7"/><rect x="534.5" y="1603.5" width="37.0" height="3.0" rx="1.5" fill="#000" fill-opacity="0.25"/><rect x="590.1" y="1602.2" width="39.0" height="3.5" rx="1.8" fill="#000" fill-opacity="0.3"/><rect x="637.9" y="1601.2" width="39.0" height="3.5" rx="1.8" fill="#000" fill-opacity="0.25"/><rect x="689.3" y="1600.2" width="39.0" height="3.5" rx="1.8" fill="#000" fill-opacity="0.28"/><rect x="741.4" y="1599.5" width="39.0" height="3.0" rx="1.5" fill="#000" fill-opacity="0.2"/><rect x="795.3" y="1599.5" width="39.0" height="3.0" rx="1.5" fill="#000" fill-opacity="0.25"/><rect x="849.7" y="1599.5" width="39.0" height="3.0" rx="1.5" fill="#000" fill-opacity="0.3"/><rect x="848.7" y="1630.5" width="41.0" height="5.0" rx="2.5" fill="#000" fill-opacity="0.4"/><rect x="531.5" y="1679.2" width="43.0" height="5.5" rx="2.8" fill="#000" fill-opacity="1"/><rect x="588.1" y="1678.2" width="43.0" height="5.5" rx="2.8" fill="#000" fill-opacity="1"/><rect x="635.9" y="1677.8" width="43.0" height="5.5" rx="2.8" fill="#000" fill-opacity="1"/><rect x="687.3" y="1677.2" width="43.0" height="5.5" rx="2.8" fill="#000" fill-opacity="1"/><rect x="739.4" y="1678.0" width="43.0" height="5.0" rx="2.5" fill="#000" fill-opacity="0.95"/><rect x="794.3" y="1679.0" width="41.0" height="5.0" rx="2.5" fill="#000" fill-opacity="0.9"/><rect x="849.7" y="1680.5" width="39.0" height="4.0" rx="2.0" fill="#000" fill-opacity="0.6"/></g>
<rect x="908.0" y="1348.0" width="371.0" height="34.0" fill="#f9f9f9"/>
<rect x="908.0" y="1388.0" width="371.0" height="34.0" fill="#cbcbcb"/>
<rect x="908.0" y="1427.0" width="371.0" height="32.0" fill="#f7f7f7"/>
<rect x="908.0" y="1464.0" width="371.0" height="35.0" fill="#f6f6f6" filter="url(#nz2)"/>
<rect x="908.0" y="1504.0" width="371.0" height="35.0" fill="#f3f3f3"/>
<rect x="908.0" y="1544.0" width="371.0" height="35.0" fill="#dddddd" filter="url(#nz)"/>
<rect x="908.0" y="1584.0" width="371.0" height="34.0" fill="#d8d8d8" filter="url(#nz)"/>
<rect x="908.0" y="1623.0" width="371.0" height="36.0" fill="#dadada" filter="url(#nz)"/>
<rect x="908.0" y="1663.0" width="371.0" height="37.0" fill="#f5f5f5"/>
<g filter="url(#bl)"><rect x="973.6" y="1363.8" width="39.0" height="6.5" rx="3.2" fill="#000" fill-opacity="0.85"/><rect x="1019.0" y="1360.5" width="45.0" height="10.0" rx="5.0" fill="#000" fill-opacity="1"/><rect x="1066.3" y="1360.5" width="47.0" height="10.0" rx="5.0" fill="#000" fill-opacity="1"/><rect x="1119.4" y="1360.2" width="45.0" height="8.5" rx="4.2" fill="#000" fill-opacity="1"/><rect x="1174.8" y="1362.2" width="41.0" height="6.5" rx="3.2" fill="#000" fill-opacity="0.85"/><rect x="1069.3" y="1402.5" width="41.0" height="5.0" rx="2.5" fill="#000" fill-opacity="0.08"/><rect x="1119.4" y="1397.5" width="45.0" height="7.0" rx="3.5" fill="#000" fill-opacity="0.12"/><rect x="1172.8" y="1398.5" width="45.0" height="7.0" rx="3.5" fill="#000" fill-opacity="0.25"/><rect x="1224.6" y="1398.5" width="43.0" height="7.0" rx="3.5" fill="#000" fill-opacity="0.15"/><rect x="920.3" y="1444.0" width="39.0" height="4.0" rx="2.0" fill="#000" fill-opacity="0.45"/><rect x="973.6" y="1443.0" width="39.0" height="4.0" rx="2.0" fill="#000" fill-opacity="0.45"/><rect x="1021.0" y="1441.0" width="41.0" height="5.0" rx="2.5" fill="#000" fill-opacity="0.95"/><rect x="1067.3" y="1438.0" width="45.0" height="7.0" rx="3.5" fill="#000" fill-opacity="1"/><rect x="1120.4" y="1435.5" width="43.0" height="6.0" rx="3.0" fill="#000" fill-opacity="1"/><rect x="1175.8" y="1435.0" width="39.0" height="4.0" rx="2.0" fill="#000" fill-opacity="0.6"/><rect x="1225.6" y="1433.0" width="41.0" height="4.0" rx="2.0" fill="#000" fill-opacity="0.6"/><rect x="1122.4" y="1476.5" width="39.0" height="3.0" rx="1.5" fill="#000" fill-opacity="0.1"/><rect x="1174.8" y="1473.3" width="41.0" height="6.0" rx="3.0" fill="#000" fill-opacity="1"/><rect x="1223.6" y="1471.5" width="45.0" height="7.0" rx="3.5" fill="#000" fill-opacity="1"/><rect x="918.3" y="1525.4" width="43.0" height="6.0" rx="3.0" fill="#000" fill-opacity="1"/><rect x="971.6" y="1523.5" width="43.0" height="6.0" rx="3.0" fill="#000" fill-opacity="1"/><rect x="1020.0" y="1521.5" width="43.0" height="6.0" rx="3.0" fill="#000" fill-opacity="1"/><rect x="1067.3" y="1519.5" width="45.0" height="6.0" rx="3.0" fill="#000" fill-opacity="1"/><rect x="1119.4" y="1518.2" width="45.0" height="5.5" rx="2.8" fill="#000" fill-opacity="1"/><rect x="1173.8" y="1518.5" width="43.0" height="5.0" rx="2.5" fill="#000" fill-opacity="0.95"/><rect x="1225.6" y="1518.8" width="41.0" height="4.5" rx="2.2" fill="#000" fill-opacity="0.6"/><rect x="920.3" y="1533.5" width="39.0" height="3.0" rx="1.5" fill="#000" fill-opacity="0.2"/><rect x="973.6" y="1532.5" width="39.0" height="3.0" rx="1.5" fill="#000" fill-opacity="0.2"/><rect x="1120.4" y="1559.0" width="43.0" height="5.0" rx="2.5" fill="#000" fill-opacity="0.85"/><rect x="1173.8" y="1558.0" width="43.0" height="7.0" rx="3.5" fill="#000" fill-opacity="1"/><rect x="920.3" y="1602.7" width="39.0" height="4.0" rx="2.0" fill="#000" fill-opacity="0.35"/><rect x="973.6" y="1601.5" width="39.0" height="4.0" rx="2.0" fill="#000" fill-opacity="0.35"/><rect x="1022.0" y="1599.0" width="39.0" height="4.0" rx="2.0" fill="#000" fill-opacity="0.3"/><rect x="1070.3" y="1596.3" width="39.0" height="4.0" rx="2.0" fill="#000" fill-opacity="0.35"/><rect x="1122.4" y="1596.8" width="39.0" height="3.0" rx="1.5" fill="#000" fill-opacity="0.25"/><rect x="1175.8" y="1596.3" width="39.0" height="4.0" rx="2.0" fill="#000" fill-opacity="0.3"/><rect x="1226.6" y="1596.3" width="39.0" height="4.0" rx="2.0" fill="#000" fill-opacity="0.3"/><rect x="1121.4" y="1635.7" width="41.0" height="4.0" rx="2.0" fill="#000" fill-opacity="0.3"/><rect x="1172.8" y="1633.7" width="45.0" height="8.0" rx="4.0" fill="#000" fill-opacity="1"/><rect x="1223.6" y="1634.5" width="45.0" height="7.0" rx="3.5" fill="#000" fill-opacity="1"/><rect x="917.3" y="1675.4" width="45.0" height="6.0" rx="3.0" fill="#000" fill-opacity="1"/><rect x="971.6" y="1675.4" width="43.0" height="6.0" rx="3.0" fill="#000" fill-opacity="0.95"/><rect x="1020.0" y="1675.4" width="43.0" height="6.0" rx="3.0" fill="#000" fill-opacity="1"/><rect x="1068.3" y="1675.7" width="43.0" height="5.5" rx="2.8" fill="#000" fill-opacity="0.8"/><rect x="1120.4" y="1675.7" width="43.0" height="5.5" rx="2.8" fill="#000" fill-opacity="0.75"/><rect x="1173.8" y="1675.4" width="43.0" height="6.0" rx="3.0" fill="#000" fill-opacity="0.9"/><rect x="1223.6" y="1675.0" width="45.0" height="6.0" rx="3.0" fill="#000" fill-opacity="1"/></g>
<circle cx="563.0" cy="1362.0" r="2.6" fill="#000"/>
<text x="104.0" y="1371.0" font-size="23.50" text-anchor="end">ATF4</text>
<text x="102.0" y="1408.5" font-size="23.50" text-anchor="end">CASP3</text>
<text x="102.2" y="1448.1" font-size="23.50" text-anchor="end">HSPA5</text>
<text x="99.8" y="1487.8" font-size="23.50" text-anchor="end">R-HSPA5</text>
<text x="103.1" y="1527.7" font-size="23.50" text-anchor="end">CALR</text>
<text x="100.7" y="1568.7" font-size="23.50" text-anchor="end">R-CALR</text>
<text x="104.0" y="1606.3" font-size="23.50" text-anchor="end">P4HB</text>
<text x="100.7" y="1647.2" font-size="23.50" text-anchor="end">R-P4HB</text>
<text x="100.7" y="1688.0" font-size="23.50" text-anchor="end">GAPDH</text>
<line x1="139.0" y1="1371.0" x2="147.5" y2="1371.0" stroke="#000" stroke-width="3.9"/>
<text x="137.5" y="1379.3" font-size="22.00" text-anchor="end">48</text>
<line x1="139.0" y1="1410.2" x2="147.5" y2="1410.2" stroke="#000" stroke-width="3.9"/>
<text x="137.5" y="1418.5" font-size="22.00" text-anchor="end">17</text>
<line x1="139.0" y1="1438.4" x2="147.5" y2="1438.4" stroke="#000" stroke-width="3.9"/>
<text x="137.5" y="1446.7" font-size="22.00" text-anchor="end">75</text>
<line x1="139.0" y1="1473.3" x2="147.5" y2="1473.3" stroke="#000" stroke-width="3.9"/>
<text x="137.5" y="1481.6" font-size="22.00" text-anchor="end">75</text>
<line x1="139.0" y1="1510.6" x2="147.5" y2="1510.6" stroke="#000" stroke-width="3.9"/>
<text x="137.5" y="1518.9" font-size="22.00" text-anchor="end">63</text>
<line x1="139.0" y1="1552.4" x2="147.5" y2="1552.4" stroke="#000" stroke-width="3.9"/>
<text x="137.5" y="1560.7" font-size="22.00" text-anchor="end">63</text>
<line x1="139.0" y1="1590.6" x2="147.5" y2="1590.6" stroke="#000" stroke-width="3.9"/>
<text x="137.5" y="1598.9" font-size="22.00" text-anchor="end">63</text>
<line x1="139.0" y1="1628.6" x2="147.5" y2="1628.6" stroke="#000" stroke-width="3.9"/>
<text x="137.5" y="1636.9" font-size="22.00" text-anchor="end">63</text>
<line x1="139.0" y1="1668.4" x2="147.5" y2="1668.4" stroke="#000" stroke-width="3.9"/>
<text x="137.5" y="1676.7" font-size="22.00" text-anchor="end">48</text>
<line x1="139.0" y1="1693.0" x2="147.5" y2="1693.0" stroke="#000" stroke-width="3.9"/>
<text x="137.5" y="1701.3" font-size="22.00" text-anchor="end">35</text></g>
<g id="pk"><text x="1294.3" y="1315.0" font-size="38.00" font-weight="bold">k</text>
<rect x="1350.2" y="1305.0" width="143.1" height="58.8" fill="#B4E1D4" stroke="#000" stroke-width="3.5" rx="29.399999999999977"/>
<text x="1425.0" y="1346.6" font-size="36.50" text-anchor="middle">UPR</text>
<polygon points="1326.3,1314.6 1351.3,1303.9 1364.5,1323.5 1359.1,1327.0 1374.5,1337.7 1368.1,1341.3 1391.2,1367.0 1353.1,1344.9 1360.2,1340.6 1338.8,1330.6 1346.0,1326.3" fill="#FFD966" stroke="#000" stroke-width="2.8" stroke-linejoin="miter"/>
<line x1="1422.6" y1="1365.5" x2="1422.6" y2="1406.0" stroke="#000" stroke-width="3.2"/>
<polygon points="1411.9,1404.8 1433.3,1404.8 1422.6,1425.5" fill="#000"/>
<rect x="1350.2" y="1427.8" width="143.1" height="57.9" fill="#4472C4" stroke="#000" stroke-width="3.5" rx="28.950000000000045"/>
<text x="1422.6" y="1471.4" font-size="37.00" text-anchor="middle" fill="#fff">ATF4</text>
<text x="1422.6" y="1515.3" font-size="25.20" text-anchor="middle">Transcription</text>
<text x="1422.6" y="1544.5" font-size="25.20" text-anchor="middle">factor</text>
<line x1="1495.0" y1="1456.1" x2="1545.0" y2="1456.1" stroke="#000" stroke-width="3.2"/>
<polygon points="1543.1,1445.4 1563.8,1456.1 1543.1,1466.8" fill="#000"/>
<rect x="1565.8" y="1427.8" width="171.2" height="57.9" fill="#F8CBAD" stroke="#000" stroke-width="3.5" rx="28.950000000000045"/>
<text x="1651.4" y="1469.6" font-size="36.50" text-anchor="middle">Caspase</text>
<line x1="1650.8" y1="1488.0" x2="1534.9" y2="1583.0" stroke="#000" stroke-width="3.2"/>
<line x1="1650.8" y1="1488.0" x2="1755.2" y2="1581.0" stroke="#000" stroke-width="3.2"/>
<line x1="1512.4" y1="1583.0" x2="1559.9" y2="1583.0" stroke="#000" stroke-width="3.6"/>
<line x1="1730.3" y1="1583.0" x2="1778.0" y2="1583.0" stroke="#000" stroke-width="3.6"/>
<rect x="1447.5" y="1603.3" width="142.7" height="58.1" fill="#C5CDE6" stroke="#000" stroke-width="3.5" rx="29.050000000000068"/>
<text x="1518.9" y="1644.3" font-size="36.50" text-anchor="middle">eIF4β</text>
<rect x="1683.5" y="1603.3" width="141.9" height="58.1" fill="#C5CDE6" stroke="#000" stroke-width="3.5" rx="29.050000000000068"/>
<text x="1754.5" y="1644.3" font-size="36.50" text-anchor="middle">FLNA</text>
<text x="1514.7" y="1693.3" font-size="24.91" text-anchor="middle">Reduces global</text>
<text x="1514.9" y="1724.4" font-size="24.92" text-anchor="middle">protein synthesis</text>
<text x="1755.2" y="1696.2" font-size="25.17" text-anchor="middle">Facilitates cellular</text>
<text x="1754.5" y="1727.3" font-size="24.50" text-anchor="middle">disassembly</text></g>
<g id="po"><text x="29.2" y="2138.3" font-size="38.00" font-weight="bold">o</text>
<text x="133.5" y="2194.2" font-size="25.40" text-anchor="end">shC</text>
<text x="175.4" y="2191.2" font-size="24.50" text-anchor="middle">+</text>
<text x="222.0" y="2191.2" font-size="24.50" text-anchor="middle">+</text>
<line x1="266.8" y1="2186.2" x2="273.8" y2="2186.2" stroke="#000" stroke-width="2.2"/>
<line x1="318.9" y1="2186.2" x2="325.9" y2="2186.2" stroke="#000" stroke-width="2.2"/>
<text x="133.5" y="2226.0" font-size="25.40" text-anchor="end">shATE1</text>
<line x1="171.9" y1="2218.0" x2="178.9" y2="2218.0" stroke="#000" stroke-width="2.2"/>
<line x1="218.5" y1="2218.0" x2="225.5" y2="2218.0" stroke="#000" stroke-width="2.2"/>
<text x="270.3" y="2223.0" font-size="24.50" text-anchor="middle">+</text>
<text x="322.4" y="2223.0" font-size="24.50" text-anchor="middle">+</text>
<text x="133.5" y="2257.8" font-size="25.40" text-anchor="end">MG132</text>
<line x1="171.9" y1="2249.8" x2="178.9" y2="2249.8" stroke="#000" stroke-width="2.2"/>
<text x="222.0" y="2254.8" font-size="24.50" text-anchor="middle">+</text>
<line x1="266.8" y1="2249.8" x2="273.8" y2="2249.8" stroke="#000" stroke-width="2.2"/>
<text x="322.4" y="2254.8" font-size="24.50" text-anchor="middle">+</text>
<text x="133.5" y="2287.8" font-size="25.40" text-anchor="end">TG</text>
<line x1="171.9" y1="2279.8" x2="178.9" y2="2279.8" stroke="#000" stroke-width="2.2"/>
<text x="222.0" y="2284.8" font-size="24.50" text-anchor="middle">+</text>
<line x1="266.8" y1="2279.8" x2="273.8" y2="2279.8" stroke="#000" stroke-width="2.2"/>
<text x="322.4" y="2284.8" font-size="24.50" text-anchor="middle">+</text>
<text x="354.7" y="2297.2" font-size="21.50">kDa</text>
<defs><filter id="bl2" x="-20%" y="-100%" width="140%" height="300%"><feGaussianBlur stdDeviation="1.6"/></filter></defs>
<rect x="144.2" y="2306.1" width="205.4" height="21.6" fill="#a9a9a9"/>
<rect x="144.2" y="2349.3" width="205.4" height="20.4" fill="#aaaaaa"/>
<g filter="url(#bl2)"><rect x="155.4" y="2313.5" width="40" height="8" rx="4.0" fill="#000" fill-opacity="1"/><rect x="202.8" y="2314.0" width="40" height="7" rx="3.5" fill="#000" fill-opacity="1"/><rect x="253.0" y="2316.0" width="38" height="3" rx="1.5" fill="#000" fill-opacity="0.18"/><rect x="304.0" y="2316.0" width="38" height="3" rx="1.5" fill="#000" fill-opacity="0.14"/><rect x="153.4" y="2355.5" width="44" height="7" rx="3.5" fill="#000" fill-opacity="0.95"/><rect x="200.5" y="2355.5" width="44" height="7" rx="3.5" fill="#000" fill-opacity="0.85"/><rect x="249.0" y="2355.5" width="44" height="7" rx="3.5" fill="#000" fill-opacity="0.85"/><rect x="301.0" y="2355.5" width="44" height="7" rx="3.5" fill="#000" fill-opacity="0.85"/></g>
<text x="142.9" y="2325.6" font-size="25.00" text-anchor="end">ATE1</text>
<text x="141.2" y="2367.5" font-size="25.00" text-anchor="end">β-actin</text>
<text x="56.0" y="2339.4" font-size="24.50" text-anchor="middle" transform="rotate(-90 56.0 2339.4)">IB</text>
<line x1="61.1" y1="2308.2" x2="61.1" y2="2370.5" stroke="#000" stroke-width="3.4"/>
<line x1="350.9" y1="2322.1" x2="359.8" y2="2322.1" stroke="#000" stroke-width="3.6"/>
<text x="361.6" y="2330.3" font-size="24.50">55</text>
<line x1="350.9" y1="2359.5" x2="359.8" y2="2359.5" stroke="#000" stroke-width="3.6"/>
<text x="361.6" y="2368.4" font-size="24.50">40</text>
<text x="182.6" y="2390.0" font-size="24.50" text-anchor="end" transform="rotate(-31 182.6 2390.0)">MOCK</text>
<text x="230.1" y="2391.0" font-size="24.50" text-anchor="end" transform="rotate(-31 230.1 2391.0)">MGTG</text>
<text x="278.4" y="2387.5" font-size="24.50" text-anchor="end" transform="rotate(-31 278.4 2387.5)">shATE1</text>
<text x="329.3" y="2385.0" font-size="24.50" text-anchor="end" transform="rotate(-31 329.3 2385.0)">shATE1+MGTG</text></g>
<g id="pp"><text x="392.8" y="2138.3" font-size="38.00" font-weight="bold">p</text>
<text x="704.3" y="2129.3" font-size="21.50" text-anchor="middle">SSBP1|17E</text>
<text x="620.0" y="2155.0" font-size="21.50" text-anchor="middle">Cytosol</text>
<text x="806.8" y="2153.0" font-size="21.50" text-anchor="middle">Mitochondria</text>
<line x1="708.0" y1="2143.2" x2="708.0" y2="2385.6" stroke="#000" stroke-width="2.2" stroke-dasharray="7.5 4.5"/>
<line x1="549.9" y1="2309.3" x2="549.9" y2="2314.7" stroke="#333" stroke-width="1.8"/>
<line x1="549.9" y1="2344.2" x2="549.9" y2="2365.2" stroke="#333" stroke-width="1.8"/>
<rect x="532.4" y="2314.7" width="35.0" height="29.5" fill="#984EA3" stroke="#444" stroke-width="2.2"/>
<line x1="532.4" y1="2320.7" x2="567.4" y2="2320.7" stroke="#444" stroke-width="3.6"/>
<circle cx="549.9" cy="2309.3" r="3.9" fill="#000"/>
<circle cx="549.9" cy="2320.7" r="3.9" fill="#000"/>
<circle cx="549.9" cy="2365.2" r="3.9" fill="#000"/>
<rect x="578.4" y="2358.6" width="35.0" height="6.6" fill="#E41A1C" stroke="#444" stroke-width="2.2"/>
<line x1="578.4" y1="2361.3" x2="613.4" y2="2361.3" stroke="#444" stroke-width="3.6"/>
<circle cx="595.9" cy="2356.8" r="3.9" fill="#000"/>
<circle cx="595.9" cy="2361.9" r="3.9" fill="#000"/>
<circle cx="595.9" cy="2368.9" r="3.9" fill="#000"/>
<line x1="642.2" y1="2328.8" x2="642.2" y2="2334.2" stroke="#333" stroke-width="1.8"/>
<rect x="624.7" y="2321.6" width="35.0" height="7.2" fill="#377EB8" stroke="#444" stroke-width="2.2"/>
<line x1="624.7" y1="2321.6" x2="659.7" y2="2321.6" stroke="#444" stroke-width="3.6"/>
<circle cx="642.2" cy="2321.6" r="3.9" fill="#000"/>
<circle cx="642.2" cy="2334.5" r="3.9" fill="#000"/>
<line x1="687.9" y1="2353.8" x2="687.9" y2="2360.7" stroke="#333" stroke-width="1.8"/>
<line x1="687.9" y1="2371.9" x2="687.9" y2="2377.3" stroke="#333" stroke-width="1.8"/>
<rect x="670.4" y="2360.7" width="35.0" height="11.1" fill="#4DAF4A" stroke="#444" stroke-width="2.2"/>
<line x1="670.4" y1="2366.8" x2="705.4" y2="2366.8" stroke="#444" stroke-width="3.6"/>
<circle cx="687.9" cy="2353.8" r="3.9" fill="#000"/>
<circle cx="687.9" cy="2366.8" r="3.9" fill="#000"/>
<circle cx="687.9" cy="2377.3" r="3.9" fill="#000"/>
<line x1="734.2" y1="2231.6" x2="734.2" y2="2293.6" stroke="#333" stroke-width="1.8"/>
<line x1="734.2" y1="2362.2" x2="734.2" y2="2367.4" stroke="#333" stroke-width="1.8"/>
<rect x="716.7" y="2293.6" width="35.0" height="68.6" fill="#984EA3" stroke="#444" stroke-width="2.2"/>
<line x1="716.7" y1="2356.2" x2="751.7" y2="2356.2" stroke="#444" stroke-width="3.6"/>
<circle cx="734.2" cy="2231.6" r="3.9" fill="#000"/>
<circle cx="734.2" cy="2356.2" r="3.9" fill="#000"/>
<circle cx="734.2" cy="2367.4" r="3.9" fill="#000"/>
<line x1="779.9" y1="2259.6" x2="779.9" y2="2273.7" stroke="#333" stroke-width="1.8"/>
<line x1="779.9" y1="2294.5" x2="779.9" y2="2300.2" stroke="#333" stroke-width="1.8"/>
<rect x="762.4" y="2273.7" width="35.0" height="20.8" fill="#E41A1C" stroke="#444" stroke-width="2.2"/>
<line x1="762.4" y1="2287.9" x2="797.4" y2="2287.9" stroke="#444" stroke-width="3.6"/>
<circle cx="779.9" cy="2259.6" r="3.9" fill="#000"/>
<circle cx="779.9" cy="2287.9" r="3.9" fill="#000"/>
<circle cx="779.9" cy="2300.2" r="3.9" fill="#000"/>
<line x1="826.2" y1="2344.5" x2="826.2" y2="2349.3" stroke="#333" stroke-width="1.8"/>
<line x1="826.2" y1="2366.8" x2="826.2" y2="2379.4" stroke="#333" stroke-width="1.8"/>
<rect x="808.7" y="2349.3" width="35.0" height="17.5" fill="#377EB8" stroke="#444" stroke-width="2.2"/>
<line x1="808.7" y1="2354.7" x2="843.7" y2="2354.7" stroke="#444" stroke-width="3.6"/>
<circle cx="826.2" cy="2344.5" r="3.9" fill="#000"/>
<circle cx="826.2" cy="2354.7" r="3.9" fill="#000"/>
<circle cx="826.2" cy="2379.4" r="3.9" fill="#000"/>
<line x1="872.6" y1="2354.7" x2="872.6" y2="2367.1" stroke="#333" stroke-width="1.8"/>
<line x1="872.6" y1="2381.8" x2="872.6" y2="2383.9" stroke="#333" stroke-width="1.8"/>
<rect x="855.1" y="2367.1" width="35.0" height="14.7" fill="#4DAF4A" stroke="#444" stroke-width="2.2"/>
<line x1="855.1" y1="2379.4" x2="890.1" y2="2379.4" stroke="#444" stroke-width="3.6"/>
<circle cx="872.6" cy="2354.7" r="3.9" fill="#000"/>
<circle cx="872.6" cy="2379.4" r="3.9" fill="#000"/>
<circle cx="872.6" cy="2383.9" r="3.9" fill="#000"/>
<polyline points="549.9,2229.5 549.9,2223.5 595.9,2223.5 595.9,2229.5" fill="none" stroke="#000" stroke-width="2.2"/>
<text x="572.9" y="2221.0" font-size="13.00" text-anchor="middle">0.16</text>
<polyline points="595.9,2206.3 595.9,2200.3 642.2,2200.3 642.2,2206.3" fill="none" stroke="#000" stroke-width="2.2"/>
<text x="619.0" y="2197.8" font-size="13.00" text-anchor="middle">0.0031</text>
<polyline points="595.9,2183.8 595.9,2177.8 687.9,2177.8 687.9,2183.8" fill="none" stroke="#000" stroke-width="2.2"/>
<text x="641.9" y="2175.3" font-size="13.00" text-anchor="middle">0.66</text>
<polyline points="734.2,2229.5 734.2,2223.5 779.9,2223.5 779.9,2229.5" fill="none" stroke="#000" stroke-width="2.2"/>
<text x="757.0" y="2221.0" font-size="13.00" text-anchor="middle">0.47</text>
<polyline points="779.9,2206.3 779.9,2200.3 826.2,2200.3 826.2,2206.3" fill="none" stroke="#000" stroke-width="2.2"/>
<text x="803.0" y="2197.8" font-size="13.00" text-anchor="middle">0.0086</text>
<polyline points="779.9,2183.8 779.9,2177.8 872.6,2177.8 872.6,2183.8" fill="none" stroke="#000" stroke-width="2.2"/>
<text x="826.2" y="2175.3" font-size="13.00" text-anchor="middle">0.0041</text>
<line x1="522.8" y1="2167.9" x2="522.8" y2="2395.0" stroke="#000" stroke-width="2.2"/>
<line x1="521.8" y1="2393.9" x2="900.0" y2="2393.9" stroke="#000" stroke-width="2.2"/>
<line x1="512.3" y1="2200.3" x2="522.8" y2="2200.3" stroke="#333" stroke-width="2.2"/>
<text x="503.0" y="2207.9" font-size="21.00" text-anchor="end">4</text>
<line x1="512.3" y1="2260.5" x2="522.8" y2="2260.5" stroke="#333" stroke-width="2.2"/>
<text x="503.0" y="2268.1" font-size="21.00" text-anchor="end">2</text>
<line x1="512.3" y1="2320.7" x2="522.8" y2="2320.7" stroke="#333" stroke-width="2.2"/>
<text x="503.0" y="2328.3" font-size="21.00" text-anchor="end">0</text>
<line x1="512.3" y1="2380.9" x2="522.8" y2="2380.9" stroke="#333" stroke-width="2.2"/>
<text x="503.0" y="2388.5" font-size="21.00" text-anchor="end">-2</text>
<line x1="549.9" y1="2393.9" x2="549.9" y2="2404.1" stroke="#333" stroke-width="2.2"/>
<text x="557.4" y="2423.0" font-size="22.70" text-anchor="end" transform="rotate(-31 557.4 2423.0)">MOCK</text>
<line x1="595.9" y1="2393.9" x2="595.9" y2="2404.1" stroke="#333" stroke-width="2.2"/>
<text x="603.4" y="2423.0" font-size="22.70" text-anchor="end" transform="rotate(-31 603.4 2423.0)">MGTG</text>
<line x1="642.2" y1="2393.9" x2="642.2" y2="2404.1" stroke="#333" stroke-width="2.2"/>
<text x="649.7" y="2423.0" font-size="22.70" text-anchor="end" transform="rotate(-31 649.7 2423.0)">shATE1</text>
<line x1="687.9" y1="2393.9" x2="687.9" y2="2404.1" stroke="#333" stroke-width="2.2"/>
<text x="695.4" y="2423.0" font-size="22.70" text-anchor="end" transform="rotate(-31 695.4 2423.0)">shATE1+MGTG</text>
<line x1="734.2" y1="2393.9" x2="734.2" y2="2404.1" stroke="#333" stroke-width="2.2"/>
<text x="741.7" y="2423.0" font-size="22.70" text-anchor="end" transform="rotate(-31 741.7 2423.0)">MOCK</text>
<line x1="779.9" y1="2393.9" x2="779.9" y2="2404.1" stroke="#333" stroke-width="2.2"/>
<text x="787.4" y="2423.0" font-size="22.70" text-anchor="end" transform="rotate(-31 787.4 2423.0)">MGTG</text>
<line x1="826.2" y1="2393.9" x2="826.2" y2="2404.1" stroke="#333" stroke-width="2.2"/>
<text x="833.7" y="2423.0" font-size="22.70" text-anchor="end" transform="rotate(-31 833.7 2423.0)">shATE1</text>
<line x1="872.6" y1="2393.9" x2="872.6" y2="2404.1" stroke="#333" stroke-width="2.2"/>
<text x="880.1" y="2423.0" font-size="22.70" text-anchor="end" transform="rotate(-31 880.1 2423.0)">shATE1+MGTG</text>
<text x="1164.0" y="2129.3" font-size="21.50" text-anchor="middle">MTHFD2|36E</text>
<text x="1077.6" y="2155.0" font-size="21.50" text-anchor="middle">Cytosol</text>
<text x="1264.4" y="2153.0" font-size="21.50" text-anchor="middle">Mitochondria</text>
<line x1="1202.0" y1="2143.2" x2="1202.0" y2="2385.6" stroke="#000" stroke-width="2.2" stroke-dasharray="7.5 4.5"/>
<line x1="1012.8" y1="2292.9" x2="1012.8" y2="2301.3" stroke="#333" stroke-width="1.8"/>
<line x1="1012.8" y1="2317.9" x2="1012.8" y2="2324.8" stroke="#333" stroke-width="1.8"/>
<rect x="995.3" y="2301.3" width="35.0" height="16.6" fill="#984EA3" stroke="#444" stroke-width="2.2"/>
<line x1="995.3" y1="2309.3" x2="1030.3" y2="2309.3" stroke="#444" stroke-width="3.6"/>
<circle cx="1012.8" cy="2292.9" r="3.9" fill="#000"/>
<circle cx="1012.8" cy="2309.9" r="3.9" fill="#000"/>
<circle cx="1012.8" cy="2324.8" r="3.9" fill="#000"/>
<rect x="1041.6" y="2309.1" width="35.0" height="2.4" fill="#E41A1C" stroke="#444" stroke-width="2.2"/>
<line x1="1041.6" y1="2309.9" x2="1076.6" y2="2309.9" stroke="#444" stroke-width="3.6"/>
<circle cx="1059.1" cy="2307.5" r="3.9" fill="#000"/>
<circle cx="1059.1" cy="2310.4" r="3.9" fill="#000"/>
<line x1="1105.4" y1="2267.5" x2="1105.4" y2="2273.7" stroke="#333" stroke-width="1.8"/>
<line x1="1105.4" y1="2285.3" x2="1105.4" y2="2290.4" stroke="#333" stroke-width="1.8"/>
<rect x="1087.9" y="2273.7" width="35.0" height="11.5" fill="#377EB8" stroke="#444" stroke-width="2.2"/>
<line x1="1087.9" y1="2280.1" x2="1122.9" y2="2280.1" stroke="#444" stroke-width="3.6"/>
<circle cx="1105.4" cy="2267.5" r="3.9" fill="#000"/>
<circle cx="1105.4" cy="2280.1" r="3.9" fill="#000"/>
<circle cx="1105.4" cy="2290.4" r="3.9" fill="#000"/>
<line x1="1151.1" y1="2265.1" x2="1151.1" y2="2276.0" stroke="#333" stroke-width="1.8"/>
<line x1="1151.1" y1="2290.9" x2="1151.1" y2="2296.1" stroke="#333" stroke-width="1.8"/>
<rect x="1133.6" y="2276.0" width="35.0" height="14.9" fill="#4DAF4A" stroke="#444" stroke-width="2.2"/>
<line x1="1133.6" y1="2284.6" x2="1168.6" y2="2284.6" stroke="#444" stroke-width="3.6"/>
<circle cx="1151.1" cy="2265.1" r="3.9" fill="#000"/>
<circle cx="1151.1" cy="2284.6" r="3.9" fill="#000"/>
<circle cx="1151.1" cy="2296.1" r="3.9" fill="#000"/>
<line x1="1197.1" y1="2233.6" x2="1197.1" y2="2261.1" stroke="#333" stroke-width="1.8"/>
<line x1="1197.1" y1="2295.2" x2="1197.1" y2="2300.8" stroke="#333" stroke-width="1.8"/>
<rect x="1179.6" y="2261.1" width="35.0" height="34.1" fill="#984EA3" stroke="#444" stroke-width="2.2"/>
<line x1="1179.6" y1="2289.4" x2="1214.6" y2="2289.4" stroke="#444" stroke-width="3.6"/>
<circle cx="1197.1" cy="2233.6" r="3.9" fill="#000"/>
<circle cx="1197.1" cy="2289.4" r="3.9" fill="#000"/>
<circle cx="1197.1" cy="2300.8" r="3.9" fill="#000"/>
<line x1="1243.4" y1="2232.3" x2="1243.4" y2="2241.1" stroke="#333" stroke-width="1.8"/>
<line x1="1243.4" y1="2259.0" x2="1243.4" y2="2268.3" stroke="#333" stroke-width="1.8"/>
<rect x="1225.9" y="2241.1" width="35.0" height="17.9" fill="#E41A1C" stroke="#444" stroke-width="2.2"/>
<line x1="1225.9" y1="2250.4" x2="1260.9" y2="2250.4" stroke="#444" stroke-width="3.6"/>
<circle cx="1243.4" cy="2232.3" r="3.9" fill="#000"/>
<circle cx="1243.4" cy="2250.4" r="3.9" fill="#000"/>
<circle cx="1243.4" cy="2268.3" r="3.9" fill="#000"/>
<line x1="1289.1" y1="2312.8" x2="1289.1" y2="2318.4" stroke="#333" stroke-width="1.8"/>
<line x1="1289.1" y1="2349.3" x2="1289.1" y2="2374.7" stroke="#333" stroke-width="1.8"/>
<rect x="1271.6" y="2318.4" width="35.0" height="30.9" fill="#377EB8" stroke="#444" stroke-width="2.2"/>
<line x1="1271.6" y1="2323.8" x2="1306.6" y2="2323.8" stroke="#444" stroke-width="3.6"/>
<circle cx="1289.1" cy="2312.8" r="3.9" fill="#000"/>
<circle cx="1289.1" cy="2323.8" r="3.9" fill="#000"/>
<circle cx="1289.1" cy="2374.7" r="3.9" fill="#000"/>
<line x1="1335.4" y1="2260.5" x2="1335.4" y2="2314.2" stroke="#333" stroke-width="1.8"/>
<line x1="1335.4" y1="2375.7" x2="1335.4" y2="2383.5" stroke="#333" stroke-width="1.8"/>
<rect x="1317.9" y="2314.2" width="35.0" height="61.4" fill="#4DAF4A" stroke="#444" stroke-width="2.2"/>
<line x1="1317.9" y1="2367.5" x2="1352.9" y2="2367.5" stroke="#444" stroke-width="3.6"/>
<circle cx="1335.4" cy="2260.5" r="3.9" fill="#000"/>
<circle cx="1335.4" cy="2367.5" r="3.9" fill="#000"/>
<circle cx="1335.4" cy="2383.5" r="3.9" fill="#000"/>
<polyline points="1012.8,2229.5 1012.8,2223.5 1059.1,2223.5 1059.1,2229.5" fill="none" stroke="#000" stroke-width="2.2"/>
<text x="1035.9" y="2221.0" font-size="13.00" text-anchor="middle">0.99</text>
<polyline points="1059.1,2206.3 1059.1,2200.3 1105.4,2200.3 1105.4,2206.3" fill="none" stroke="#000" stroke-width="2.2"/>
<text x="1082.2" y="2197.8" font-size="13.00" text-anchor="middle">0.01</text>
<polyline points="1059.1,2183.8 1059.1,2177.8 1151.1,2177.8 1151.1,2183.8" fill="none" stroke="#000" stroke-width="2.2"/>
<text x="1105.1" y="2175.3" font-size="13.00" text-anchor="middle">0.038</text>
<polyline points="1197.1,2229.5 1197.1,2223.5 1243.4,2223.5 1243.4,2229.5" fill="none" stroke="#000" stroke-width="2.2"/>
<text x="1220.2" y="2221.0" font-size="13.00" text-anchor="middle">0.35</text>
<polyline points="1243.4,2206.3 1243.4,2200.3 1289.1,2200.3 1289.1,2206.3" fill="none" stroke="#000" stroke-width="2.2"/>
<text x="1266.2" y="2197.8" font-size="13.00" text-anchor="middle">0.016</text>
<polyline points="1243.4,2183.8 1243.4,2177.8 1335.4,2177.8 1335.4,2183.8" fill="none" stroke="#000" stroke-width="2.2"/>
<text x="1289.4" y="2175.3" font-size="13.00" text-anchor="middle">0.094</text>
<line x1="985.6" y1="2167.9" x2="985.6" y2="2395.0" stroke="#000" stroke-width="2.2"/>
<line x1="984.6" y1="2393.9" x2="1362.2" y2="2393.9" stroke="#000" stroke-width="2.2"/>
<line x1="975.1" y1="2229.9" x2="985.6" y2="2229.9" stroke="#333" stroke-width="2.2"/>
<text x="966.0" y="2237.5" font-size="21.00" text-anchor="end">5</text>
<line x1="975.1" y1="2309.9" x2="985.6" y2="2309.9" stroke="#333" stroke-width="2.2"/>
<text x="966.0" y="2317.5" font-size="21.00" text-anchor="end">0</text>
<line x1="975.1" y1="2389.9" x2="985.6" y2="2389.9" stroke="#333" stroke-width="2.2"/>
<text x="966.0" y="2397.5" font-size="21.00" text-anchor="end">-5</text>
<line x1="1012.8" y1="2393.9" x2="1012.8" y2="2404.1" stroke="#333" stroke-width="2.2"/>
<text x="1020.3" y="2423.0" font-size="22.70" text-anchor="end" transform="rotate(-31 1020.3 2423.0)">MOCK</text>
<line x1="1059.1" y1="2393.9" x2="1059.1" y2="2404.1" stroke="#333" stroke-width="2.2"/>
<text x="1066.6" y="2423.0" font-size="22.70" text-anchor="end" transform="rotate(-31 1066.6 2423.0)">MGTG</text>
<line x1="1105.4" y1="2393.9" x2="1105.4" y2="2404.1" stroke="#333" stroke-width="2.2"/>
<text x="1112.9" y="2423.0" font-size="22.70" text-anchor="end" transform="rotate(-31 1112.9 2423.0)">shATE1</text>
<line x1="1151.1" y1="2393.9" x2="1151.1" y2="2404.1" stroke="#333" stroke-width="2.2"/>
<text x="1158.6" y="2423.0" font-size="22.70" text-anchor="end" transform="rotate(-31 1158.6 2423.0)">shATE1+MGTG</text>
<line x1="1197.1" y1="2393.9" x2="1197.1" y2="2404.1" stroke="#333" stroke-width="2.2"/>
<text x="1204.6" y="2423.0" font-size="22.70" text-anchor="end" transform="rotate(-31 1204.6 2423.0)">MOCK</text>
<line x1="1243.4" y1="2393.9" x2="1243.4" y2="2404.1" stroke="#333" stroke-width="2.2"/>
<text x="1250.9" y="2423.0" font-size="22.70" text-anchor="end" transform="rotate(-31 1250.9 2423.0)">MGTG</text>
<line x1="1289.1" y1="2393.9" x2="1289.1" y2="2404.1" stroke="#333" stroke-width="2.2"/>
<text x="1296.6" y="2423.0" font-size="22.70" text-anchor="end" transform="rotate(-31 1296.6 2423.0)">shATE1</text>
<line x1="1335.4" y1="2393.9" x2="1335.4" y2="2404.1" stroke="#333" stroke-width="2.2"/>
<text x="1342.9" y="2423.0" font-size="22.70" text-anchor="end" transform="rotate(-31 1342.9 2423.0)">shATE1+MGTG</text>
<text x="1643.4" y="2129.3" font-size="21.50" text-anchor="middle">UQCRHL|15D</text>
<text x="1554.1" y="2155.0" font-size="21.50" text-anchor="middle">Cytosol</text>
<text x="1738.9" y="2153.0" font-size="21.50" text-anchor="middle">Mitochondria</text>
<line x1="1645.9" y1="2143.2" x2="1645.9" y2="2385.6" stroke="#000" stroke-width="2.2" stroke-dasharray="7.5 4.5"/>
<line x1="1492.5" y1="2300.7" x2="1492.5" y2="2304.2" stroke="#333" stroke-width="1.8"/>
<line x1="1492.5" y1="2311.4" x2="1492.5" y2="2312.4" stroke="#333" stroke-width="1.8"/>
<rect x="1475.0" y="2304.2" width="35.0" height="7.2" fill="#984EA3" stroke="#444" stroke-width="2.2"/>
<line x1="1475.0" y1="2307.0" x2="1510.0" y2="2307.0" stroke="#444" stroke-width="3.6"/>
<circle cx="1492.5" cy="2300.7" r="3.9" fill="#000"/>
<circle cx="1492.5" cy="2309.5" r="3.9" fill="#000"/>
<circle cx="1492.5" cy="2312.4" r="3.9" fill="#000"/>
<line x1="1536.5" y1="2308.5" x2="1536.5" y2="2310.5" stroke="#333" stroke-width="1.8"/>
<line x1="1536.5" y1="2317.9" x2="1536.5" y2="2321.2" stroke="#333" stroke-width="1.8"/>
<rect x="1519.0" y="2310.5" width="35.0" height="7.4" fill="#E41A1C" stroke="#444" stroke-width="2.2"/>
<line x1="1519.0" y1="2315.1" x2="1554.0" y2="2315.1" stroke="#444" stroke-width="3.6"/>
<circle cx="1536.5" cy="2308.5" r="3.9" fill="#000"/>
<circle cx="1536.5" cy="2312.4" r="3.9" fill="#000"/>
<circle cx="1536.5" cy="2321.2" r="3.9" fill="#000"/>
<line x1="1580.3" y1="2309.5" x2="1580.3" y2="2309.9" stroke="#333" stroke-width="1.8"/>
<line x1="1580.3" y1="2312.4" x2="1580.3" y2="2314.4" stroke="#333" stroke-width="1.8"/>
<rect x="1562.8" y="2309.9" width="35.0" height="2.5" fill="#377EB8" stroke="#444" stroke-width="2.2"/>
<line x1="1562.8" y1="2311.4" x2="1597.8" y2="2311.4" stroke="#444" stroke-width="3.6"/>
<circle cx="1580.3" cy="2311.4" r="3.9" fill="#000"/>
<circle cx="1580.3" cy="2313.8" r="3.9" fill="#000"/>
<line x1="1624.0" y1="2302.7" x2="1624.0" y2="2304.2" stroke="#333" stroke-width="1.8"/>
<line x1="1624.0" y1="2307.9" x2="1624.0" y2="2308.5" stroke="#333" stroke-width="1.8"/>
<rect x="1606.5" y="2304.2" width="35.0" height="3.7" fill="#4DAF4A" stroke="#444" stroke-width="2.2"/>
<line x1="1606.5" y1="2306.6" x2="1641.5" y2="2306.6" stroke="#444" stroke-width="3.6"/>
<circle cx="1624.0" cy="2302.7" r="3.9" fill="#000"/>
<circle cx="1624.0" cy="2307.6" r="3.9" fill="#000"/>
<line x1="1668.1" y1="2255.3" x2="1668.1" y2="2278.1" stroke="#333" stroke-width="1.8"/>
<line x1="1668.1" y1="2324.3" x2="1668.1" y2="2346.7" stroke="#333" stroke-width="1.8"/>
<rect x="1650.6" y="2278.1" width="35.0" height="46.2" fill="#984EA3" stroke="#444" stroke-width="2.2"/>
<line x1="1650.6" y1="2301.7" x2="1685.6" y2="2301.7" stroke="#444" stroke-width="3.6"/>
<circle cx="1668.1" cy="2255.3" r="3.9" fill="#000"/>
<circle cx="1668.1" cy="2301.7" r="3.9" fill="#000"/>
<circle cx="1668.1" cy="2346.7" r="3.9" fill="#000"/>
<line x1="1711.8" y1="2231.0" x2="1711.8" y2="2235.5" stroke="#333" stroke-width="1.8"/>
<line x1="1711.8" y1="2253.2" x2="1711.8" y2="2266.6" stroke="#333" stroke-width="1.8"/>
<rect x="1694.3" y="2235.5" width="35.0" height="17.7" fill="#E41A1C" stroke="#444" stroke-width="2.2"/>
<line x1="1694.3" y1="2241.9" x2="1729.3" y2="2241.9" stroke="#444" stroke-width="3.6"/>
<circle cx="1711.8" cy="2231.0" r="3.9" fill="#000"/>
<circle cx="1711.8" cy="2241.3" r="3.9" fill="#000"/>
<circle cx="1711.8" cy="2266.6" r="3.9" fill="#000"/>
<line x1="1755.9" y1="2319.2" x2="1755.9" y2="2322.6" stroke="#333" stroke-width="1.8"/>
<line x1="1755.9" y1="2343.4" x2="1755.9" y2="2360.1" stroke="#333" stroke-width="1.8"/>
<rect x="1738.4" y="2322.6" width="35.0" height="20.8" fill="#377EB8" stroke="#444" stroke-width="2.2"/>
<line x1="1738.4" y1="2325.9" x2="1773.4" y2="2325.9" stroke="#444" stroke-width="3.6"/>
<circle cx="1755.9" cy="2319.2" r="3.9" fill="#000"/>
<circle cx="1755.9" cy="2325.9" r="3.9" fill="#000"/>
<circle cx="1755.9" cy="2360.1" r="3.9" fill="#000"/>
<line x1="1799.6" y1="2273.5" x2="1799.6" y2="2316.5" stroke="#333" stroke-width="1.8"/>
<line x1="1799.6" y1="2371.6" x2="1799.6" y2="2383.9" stroke="#333" stroke-width="1.8"/>
<rect x="1782.1" y="2316.5" width="35.0" height="55.1" fill="#4DAF4A" stroke="#444" stroke-width="2.2"/>
<line x1="1782.1" y1="2359.6" x2="1817.1" y2="2359.6" stroke="#444" stroke-width="3.6"/>
<circle cx="1799.6" cy="2273.5" r="3.9" fill="#000"/>
<circle cx="1799.6" cy="2359.6" r="3.9" fill="#000"/>
<circle cx="1799.6" cy="2383.9" r="3.9" fill="#000"/>
<polyline points="1492.5,2229.8 1492.5,2223.8 1536.5,2223.8 1536.5,2229.8" fill="none" stroke="#000" stroke-width="2.2"/>
<text x="1514.5" y="2221.3" font-size="13.00" text-anchor="middle">0.24</text>
<polyline points="1536.5,2206.7 1536.5,2200.7 1580.3,2200.7 1580.3,2206.7" fill="none" stroke="#000" stroke-width="2.2"/>
<text x="1558.4" y="2198.2" font-size="13.00" text-anchor="middle">0.52</text>
<polyline points="1536.5,2183.9 1536.5,2177.9 1624.0,2177.9 1624.0,2183.9" fill="none" stroke="#000" stroke-width="2.2"/>
<text x="1580.2" y="2175.4" font-size="13.00" text-anchor="middle">0.095</text>
<polyline points="1668.1,2229.8 1668.1,2223.8 1711.8,2223.8 1711.8,2229.8" fill="none" stroke="#000" stroke-width="2.2"/>
<text x="1689.9" y="2221.3" font-size="13.00" text-anchor="middle">0.12</text>
<polyline points="1711.8,2206.7 1711.8,2200.7 1755.9,2200.7 1755.9,2206.7" fill="none" stroke="#000" stroke-width="2.2"/>
<text x="1733.8" y="2198.2" font-size="13.00" text-anchor="middle">0.0052</text>
<polyline points="1711.8,2183.9 1711.8,2177.9 1799.6,2177.9 1799.6,2183.9" fill="none" stroke="#000" stroke-width="2.2"/>
<text x="1755.7" y="2175.4" font-size="13.00" text-anchor="middle">0.056</text>
<line x1="1466.3" y1="2167.9" x2="1466.3" y2="2395.0" stroke="#000" stroke-width="2.2"/>
<line x1="1465.3" y1="2393.9" x2="1825.2" y2="2393.9" stroke="#000" stroke-width="2.2"/>
<line x1="1455.8" y1="2212.1" x2="1466.3" y2="2212.1" stroke="#333" stroke-width="2.2"/>
<text x="1447.8" y="2219.7" font-size="21.00" text-anchor="end">5.0</text>
<line x1="1455.8" y1="2260.8" x2="1466.3" y2="2260.8" stroke="#333" stroke-width="2.2"/>
<text x="1447.8" y="2268.4" font-size="21.00" text-anchor="end">2.5</text>
<line x1="1455.8" y1="2309.5" x2="1466.3" y2="2309.5" stroke="#333" stroke-width="2.2"/>
<text x="1447.8" y="2317.1" font-size="21.00" text-anchor="end">0.0</text>
<line x1="1455.8" y1="2358.2" x2="1466.3" y2="2358.2" stroke="#333" stroke-width="2.2"/>
<text x="1447.8" y="2365.8" font-size="21.00" text-anchor="end">-2.5</text>
<line x1="1492.5" y1="2393.9" x2="1492.5" y2="2404.1" stroke="#333" stroke-width="2.2"/>
<text x="1500.0" y="2423.0" font-size="22.70" text-anchor="end" transform="rotate(-31 1500.0 2423.0)">MOCK</text>
<line x1="1536.5" y1="2393.9" x2="1536.5" y2="2404.1" stroke="#333" stroke-width="2.2"/>
<text x="1544.0" y="2423.0" font-size="22.70" text-anchor="end" transform="rotate(-31 1544.0 2423.0)">MGTG</text>
<line x1="1580.3" y1="2393.9" x2="1580.3" y2="2404.1" stroke="#333" stroke-width="2.2"/>
<text x="1587.8" y="2423.0" font-size="22.70" text-anchor="end" transform="rotate(-31 1587.8 2423.0)">shATE1</text>
<line x1="1624.0" y1="2393.9" x2="1624.0" y2="2404.1" stroke="#333" stroke-width="2.2"/>
<text x="1631.5" y="2423.0" font-size="22.70" text-anchor="end" transform="rotate(-31 1631.5 2423.0)">shATE1+MGTG</text>
<line x1="1668.1" y1="2393.9" x2="1668.1" y2="2404.1" stroke="#333" stroke-width="2.2"/>
<text x="1675.6" y="2423.0" font-size="22.70" text-anchor="end" transform="rotate(-31 1675.6 2423.0)">MOCK</text>
<line x1="1711.8" y1="2393.9" x2="1711.8" y2="2404.1" stroke="#333" stroke-width="2.2"/>
<text x="1719.3" y="2423.0" font-size="22.70" text-anchor="end" transform="rotate(-31 1719.3 2423.0)">MGTG</text>
<line x1="1755.9" y1="2393.9" x2="1755.9" y2="2404.1" stroke="#333" stroke-width="2.2"/>
<text x="1763.4" y="2423.0" font-size="22.70" text-anchor="end" transform="rotate(-31 1763.4 2423.0)">shATE1</text>
<line x1="1799.6" y1="2393.9" x2="1799.6" y2="2404.1" stroke="#333" stroke-width="2.2"/>
<text x="1807.1" y="2423.0" font-size="22.70" text-anchor="end" transform="rotate(-31 1807.1 2423.0)">shATE1+MGTG</text>
<text x="437.0" y="2276.0" font-size="24.50" text-anchor="middle" transform="rotate(-90 437.0 2276.0)">Normalized</text>
<text x="467" y="2274" font-size="24.5" text-anchor="middle" transform="rotate(-90 467 2274)">Log<tspan font-size="16" dy="5">2</tspan><tspan dy="-5" font-size="30">(</tspan>Nt-Arg/unmodified<tspan font-size="30">)</tspan></text>
<text x="1191.8" y="2533.8" font-size="25.30" text-anchor="middle">Treatment</text></g>
</svg></body></html>
